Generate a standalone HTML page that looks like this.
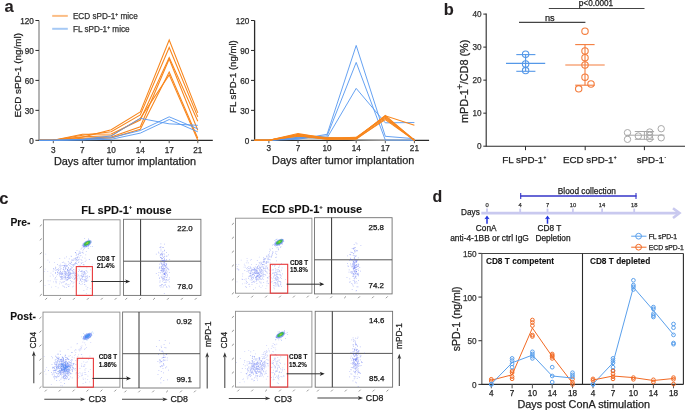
<!DOCTYPE html>
<html><head><meta charset="utf-8"><style>
html,body{margin:0;padding:0;background:#fff;width:685px;height:410px;overflow:hidden}
svg{display:block;font-family:"Liberation Sans", sans-serif;will-change:transform}
</style></head><body>
<svg width="685" height="410" viewBox="0 0 685 410">
<rect width="685" height="410" fill="#fff"/>
<text x="4.60" y="11.80" font-size="16.5" text-anchor="start" font-weight="bold" fill="#231f20" stroke="#231f20" stroke-width="0.1" >a</text>
<line x1="52.20" y1="15.90" x2="67.80" y2="15.90" stroke="#fbbd85" stroke-width="2" />
<line x1="52.20" y1="28.80" x2="67.80" y2="28.80" stroke="#a6c9f5" stroke-width="2" />
<text x="72.90" y="18.74" font-size="8.2" text-anchor="start" font-weight="normal" fill="#333" stroke="#333" stroke-width="0.25" >ECD sPD-1<tspan font-size="5" dy="-3">+</tspan><tspan dy="3"> mice</tspan></text>
<text x="72.90" y="31.64" font-size="8.2" text-anchor="start" font-weight="normal" fill="#333" stroke="#333" stroke-width="0.25" >FL sPD-1<tspan font-size="5" dy="-3">+</tspan><tspan dy="3"> mice</tspan></text>
<line x1="39.00" y1="20.50" x2="39.00" y2="140.90" stroke="#8c8c8c" stroke-width="1.3" />
<line x1="35.40" y1="140.30" x2="39.00" y2="140.30" stroke="#2a2a2a" stroke-width="1" />
<text x="33.80" y="143.94" font-size="8.2" text-anchor="end" font-weight="normal" fill="#2a2a2a" stroke="#2a2a2a" stroke-width="0.25" >0</text>
<line x1="35.40" y1="110.35" x2="39.00" y2="110.35" stroke="#2a2a2a" stroke-width="1" />
<text x="33.80" y="113.99" font-size="8.2" text-anchor="end" font-weight="normal" fill="#2a2a2a" stroke="#2a2a2a" stroke-width="0.25" >30</text>
<line x1="35.40" y1="80.40" x2="39.00" y2="80.40" stroke="#2a2a2a" stroke-width="1" />
<text x="33.80" y="84.04" font-size="8.2" text-anchor="end" font-weight="normal" fill="#2a2a2a" stroke="#2a2a2a" stroke-width="0.25" >60</text>
<line x1="35.40" y1="50.45" x2="39.00" y2="50.45" stroke="#2a2a2a" stroke-width="1" />
<text x="33.80" y="54.09" font-size="8.2" text-anchor="end" font-weight="normal" fill="#2a2a2a" stroke="#2a2a2a" stroke-width="0.25" >90</text>
<line x1="35.40" y1="20.50" x2="39.00" y2="20.50" stroke="#2a2a2a" stroke-width="1" />
<text x="33.80" y="24.14" font-size="8.2" text-anchor="end" font-weight="normal" fill="#2a2a2a" stroke="#2a2a2a" stroke-width="0.25" >120</text>
<text transform="translate(21.14,75.30) rotate(-90)" font-size="9.9" text-anchor="middle" font-weight="normal" fill="#222" stroke="#222" stroke-width="0.25">ECD sPD-1 (ng/ml)</text>
<line x1="39.00" y1="140.40" x2="212.80" y2="140.40" stroke="#2a2a2a" stroke-width="1.1" />
<line x1="53.30" y1="140.40" x2="53.30" y2="143.20" stroke="#555" stroke-width="1" />
<text x="53.30" y="152.74" font-size="8.2" text-anchor="middle" font-weight="normal" fill="#2a2a2a" stroke="#2a2a2a" stroke-width="0.25" >3</text>
<line x1="82.40" y1="140.40" x2="82.40" y2="143.20" stroke="#555" stroke-width="1" />
<text x="82.40" y="152.74" font-size="8.2" text-anchor="middle" font-weight="normal" fill="#2a2a2a" stroke="#2a2a2a" stroke-width="0.25" >7</text>
<line x1="111.20" y1="140.40" x2="111.20" y2="143.20" stroke="#555" stroke-width="1" />
<text x="111.20" y="152.74" font-size="8.2" text-anchor="middle" font-weight="normal" fill="#2a2a2a" stroke="#2a2a2a" stroke-width="0.25" >10</text>
<line x1="140.30" y1="140.40" x2="140.30" y2="143.20" stroke="#555" stroke-width="1" />
<text x="140.30" y="152.74" font-size="8.2" text-anchor="middle" font-weight="normal" fill="#2a2a2a" stroke="#2a2a2a" stroke-width="0.25" >14</text>
<line x1="169.20" y1="140.40" x2="169.20" y2="143.20" stroke="#555" stroke-width="1" />
<text x="169.20" y="152.74" font-size="8.2" text-anchor="middle" font-weight="normal" fill="#2a2a2a" stroke="#2a2a2a" stroke-width="0.25" >17</text>
<line x1="197.80" y1="140.40" x2="197.80" y2="143.20" stroke="#555" stroke-width="1" />
<text x="197.80" y="152.74" font-size="8.2" text-anchor="middle" font-weight="normal" fill="#2a2a2a" stroke="#2a2a2a" stroke-width="0.25" >21</text>
<polyline points="39.00,140.30 53.30,140.30 82.40,137.31 111.20,129.82 140.30,111.85 169.20,39.97 197.80,112.85" fill="none" stroke="#f8861c" stroke-width="1.05" stroke-linejoin="miter" />
<polyline points="39.00,140.30 53.30,140.30 82.40,135.31 111.20,131.81 140.30,114.84 169.20,47.46 197.80,116.84" fill="none" stroke="#f8861c" stroke-width="1.05" stroke-linejoin="miter" />
<polyline points="39.00,140.30 53.30,140.30 82.40,134.31 111.20,134.01 140.30,120.03 169.20,57.44 197.80,121.33" fill="none" stroke="#f8861c" stroke-width="1.05" stroke-linejoin="miter" />
<polyline points="39.00,140.30 53.30,140.30 82.40,138.30 111.20,137.01 140.30,126.82 169.20,58.94 197.80,130.32" fill="none" stroke="#f8861c" stroke-width="1.05" stroke-linejoin="miter" />
<polyline points="39.00,140.30 53.30,140.30 82.40,139.10 111.20,138.10 140.30,129.32 169.20,72.01 197.80,138.30" fill="none" stroke="#f8861c" stroke-width="1.05" stroke-linejoin="miter" />
<polyline points="39.00,140.30 53.30,140.30 82.40,136.81 111.20,135.81 140.30,118.34 169.20,74.91 197.80,140.30" fill="none" stroke="#f8861c" stroke-width="1.05" stroke-linejoin="miter" />
<polyline points="39.00,140.30 53.30,140.30 82.40,139.30 111.20,135.91 140.30,118.34 169.20,123.83 197.80,125.33" fill="none" stroke="#5597f0" stroke-width="0.9" stroke-linejoin="miter" />
<polyline points="39.00,140.30 53.30,140.30 82.40,139.80 111.20,137.70 140.30,130.52 169.20,116.84 197.80,128.82" fill="none" stroke="#5597f0" stroke-width="0.9" stroke-linejoin="miter" />
<polyline points="39.00,140.30 53.30,140.30 82.40,140.00 111.20,139.30 140.30,133.11 169.20,119.53 197.80,131.81" fill="none" stroke="#5597f0" stroke-width="0.9" stroke-linejoin="miter" />
<text x="53.90" y="164.60" font-size="10.9" text-anchor="start" font-weight="normal" fill="#222" stroke="#222" stroke-width="0.25" >Days after tumor implantation</text>
<line x1="254.60" y1="20.50" x2="254.60" y2="140.90" stroke="#2a2a2a" stroke-width="1.3" />
<line x1="251.00" y1="140.30" x2="254.60" y2="140.30" stroke="#2a2a2a" stroke-width="1" />
<text x="249.40" y="143.94" font-size="8.2" text-anchor="end" font-weight="normal" fill="#2a2a2a" stroke="#2a2a2a" stroke-width="0.25" >0</text>
<line x1="251.00" y1="110.35" x2="254.60" y2="110.35" stroke="#2a2a2a" stroke-width="1" />
<text x="249.40" y="113.99" font-size="8.2" text-anchor="end" font-weight="normal" fill="#2a2a2a" stroke="#2a2a2a" stroke-width="0.25" >30</text>
<line x1="251.00" y1="80.40" x2="254.60" y2="80.40" stroke="#2a2a2a" stroke-width="1" />
<text x="249.40" y="84.04" font-size="8.2" text-anchor="end" font-weight="normal" fill="#2a2a2a" stroke="#2a2a2a" stroke-width="0.25" >60</text>
<line x1="251.00" y1="50.45" x2="254.60" y2="50.45" stroke="#2a2a2a" stroke-width="1" />
<text x="249.40" y="54.09" font-size="8.2" text-anchor="end" font-weight="normal" fill="#2a2a2a" stroke="#2a2a2a" stroke-width="0.25" >90</text>
<line x1="251.00" y1="20.50" x2="254.60" y2="20.50" stroke="#2a2a2a" stroke-width="1" />
<text x="249.40" y="24.14" font-size="8.2" text-anchor="end" font-weight="normal" fill="#2a2a2a" stroke="#2a2a2a" stroke-width="0.25" >120</text>
<text transform="translate(236.04,76.60) rotate(-90)" font-size="9.6" text-anchor="middle" font-weight="normal" fill="#222" stroke="#222" stroke-width="0.25">FL sPD-1 (ng/ml)</text>
<line x1="254.60" y1="140.40" x2="429.10" y2="140.40" stroke="#2a2a2a" stroke-width="1.1" />
<line x1="268.90" y1="140.40" x2="268.90" y2="143.20" stroke="#555" stroke-width="1" />
<text x="268.90" y="151.34" font-size="8.2" text-anchor="middle" font-weight="normal" fill="#2a2a2a" stroke="#2a2a2a" stroke-width="0.25" >3</text>
<line x1="298.00" y1="140.40" x2="298.00" y2="143.20" stroke="#555" stroke-width="1" />
<text x="298.00" y="151.34" font-size="8.2" text-anchor="middle" font-weight="normal" fill="#2a2a2a" stroke="#2a2a2a" stroke-width="0.25" >7</text>
<line x1="327.10" y1="140.40" x2="327.10" y2="143.20" stroke="#555" stroke-width="1" />
<text x="327.10" y="151.34" font-size="8.2" text-anchor="middle" font-weight="normal" fill="#2a2a2a" stroke="#2a2a2a" stroke-width="0.25" >10</text>
<line x1="356.20" y1="140.40" x2="356.20" y2="143.20" stroke="#555" stroke-width="1" />
<text x="356.20" y="151.34" font-size="8.2" text-anchor="middle" font-weight="normal" fill="#2a2a2a" stroke="#2a2a2a" stroke-width="0.25" >14</text>
<line x1="385.30" y1="140.40" x2="385.30" y2="143.20" stroke="#555" stroke-width="1" />
<text x="385.30" y="151.34" font-size="8.2" text-anchor="middle" font-weight="normal" fill="#2a2a2a" stroke="#2a2a2a" stroke-width="0.25" >17</text>
<line x1="414.40" y1="140.40" x2="414.40" y2="143.20" stroke="#555" stroke-width="1" />
<text x="414.40" y="151.34" font-size="8.2" text-anchor="middle" font-weight="normal" fill="#2a2a2a" stroke="#2a2a2a" stroke-width="0.25" >21</text>
<polyline points="254.60,140.30 268.90,140.30 298.00,137.31 327.10,138.80 356.20,139.80 385.30,140.30 414.40,140.30" fill="none" stroke="#a0a0a0" stroke-width="1" stroke-linejoin="miter" />
<polyline points="254.60,140.30 268.90,140.30 298.00,138.30 327.10,137.31 356.20,139.80 385.30,140.30 414.40,140.30" fill="none" stroke="#a0a0a0" stroke-width="1" stroke-linejoin="miter" />
<polyline points="254.60,140.30 268.90,140.30 298.00,139.30 327.10,134.31 356.20,45.46 385.30,136.31 414.40,138.70" fill="none" stroke="#5597f0" stroke-width="0.9" stroke-linejoin="miter" />
<polyline points="254.60,140.30 268.90,140.30 298.00,138.30 327.10,135.91 356.20,62.43 385.30,140.00 414.40,140.30" fill="none" stroke="#5597f0" stroke-width="0.9" stroke-linejoin="miter" />
<polyline points="254.60,140.30 268.90,140.30 298.00,137.31 327.10,137.90 356.20,88.39 385.30,122.83 414.40,122.53" fill="none" stroke="#5597f0" stroke-width="0.9" stroke-linejoin="miter" />
<polyline points="254.60,140.30 268.90,140.30 298.00,133.61 327.10,138.30 356.20,138.30 385.30,115.34 414.40,140.30" fill="none" stroke="#f8861c" stroke-width="1.05" stroke-linejoin="miter" />
<polyline points="254.60,140.30 268.90,140.30 298.00,135.31 327.10,139.30 356.20,139.30 385.30,118.34 414.40,140.30" fill="none" stroke="#f8861c" stroke-width="1.05" stroke-linejoin="miter" />
<polyline points="254.60,140.30 268.90,140.30 298.00,136.31 327.10,138.30 356.20,137.31 385.30,116.34 414.40,139.80" fill="none" stroke="#f8861c" stroke-width="1.05" stroke-linejoin="miter" />
<polyline points="254.60,140.30 268.90,140.30 298.00,134.81 327.10,138.80 356.20,138.80 385.30,119.63 414.40,140.30" fill="none" stroke="#f8861c" stroke-width="1.05" stroke-linejoin="miter" />
<polyline points="254.60,140.30 268.90,140.30 298.00,134.31 327.10,137.80 356.20,137.80 385.30,117.34 414.40,140.30" fill="none" stroke="#f8861c" stroke-width="1.05" stroke-linejoin="miter" />
<polyline points="254.60,140.30 268.90,140.30 298.00,135.81 327.10,139.30 356.20,138.30 385.30,115.84 414.40,125.33" fill="none" stroke="#f8861c" stroke-width="1.05" stroke-linejoin="miter" />
<text x="272.10" y="163.80" font-size="10.9" text-anchor="start" font-weight="normal" fill="#222" stroke="#222" stroke-width="0.25" >Days after tumor implantation</text>
<text x="443.70" y="14.90" font-size="16.4" text-anchor="start" font-weight="bold" fill="#231f20" stroke="#231f20" stroke-width="0.1" >b</text>
<line x1="486.20" y1="13.60" x2="486.20" y2="146.70" stroke="#2a2a2a" stroke-width="1.1" />
<line x1="483.30" y1="146.20" x2="486.20" y2="146.20" stroke="#2a2a2a" stroke-width="1" />
<text x="481.60" y="149.44" font-size="8.2" text-anchor="end" font-weight="normal" fill="#333" stroke="#333" stroke-width="0.25" >0</text>
<line x1="483.30" y1="113.17" x2="486.20" y2="113.17" stroke="#2a2a2a" stroke-width="1" />
<text x="481.60" y="116.41" font-size="8.2" text-anchor="end" font-weight="normal" fill="#333" stroke="#333" stroke-width="0.25" >10</text>
<line x1="483.30" y1="80.15" x2="486.20" y2="80.15" stroke="#2a2a2a" stroke-width="1" />
<text x="481.60" y="83.39" font-size="8.2" text-anchor="end" font-weight="normal" fill="#333" stroke="#333" stroke-width="0.25" >20</text>
<line x1="483.30" y1="47.12" x2="486.20" y2="47.12" stroke="#2a2a2a" stroke-width="1" />
<text x="481.60" y="50.36" font-size="8.2" text-anchor="end" font-weight="normal" fill="#333" stroke="#333" stroke-width="0.25" >30</text>
<line x1="483.30" y1="14.10" x2="486.20" y2="14.10" stroke="#2a2a2a" stroke-width="1" />
<text x="481.60" y="17.34" font-size="8.2" text-anchor="end" font-weight="normal" fill="#333" stroke="#333" stroke-width="0.25" >40</text>
<line x1="486.20" y1="146.20" x2="685.00" y2="146.20" stroke="#2a2a2a" stroke-width="1.1" />
<line x1="525.50" y1="146.20" x2="525.50" y2="150.20" stroke="#2a2a2a" stroke-width="1" />
<line x1="585.20" y1="146.20" x2="585.20" y2="150.20" stroke="#2a2a2a" stroke-width="1" />
<line x1="644.40" y1="146.20" x2="644.40" y2="150.20" stroke="#2a2a2a" stroke-width="1" />
<text x="502.20" y="162.80" font-size="9.8" text-anchor="start" font-weight="normal" fill="#222" stroke="#222" stroke-width="0.25" >FL sPD-1<tspan font-size="4.8" dy="-4" dx="0.3">+</tspan></text>
<text x="562.90" y="162.80" font-size="9.8" text-anchor="start" font-weight="normal" fill="#222" stroke="#222" stroke-width="0.25" >ECD sPD-1<tspan font-size="4.8" dy="-4" dx="0.3">+</tspan></text>
<text x="636.70" y="162.80" font-size="9.8" text-anchor="start" font-weight="normal" fill="#222" stroke="#222" stroke-width="0.25" >sPD-1<tspan font-size="4.8" dy="-4" dx="0.5" fill="#888">-</tspan></text>
<text transform="translate(468.10,81.30) rotate(-90)" font-size="10.9" text-anchor="middle" font-weight="normal" fill="#222" stroke="#222" stroke-width="0.25">mPD-1<tspan font-size="9.5" dy="-5.5" dx="-0.3">+</tspan><tspan dy="5.5" dx="-0.5">/CD8 (%)</tspan></text>
<line x1="519.00" y1="22.40" x2="585.40" y2="22.40" stroke="#444" stroke-width="1.1" />
<text x="549.80" y="21.29" font-size="9.2" text-anchor="middle" font-weight="normal" fill="#222" stroke="#222" stroke-width="0.25" >ns</text>
<line x1="548.80" y1="8.50" x2="644.50" y2="8.50" stroke="#444" stroke-width="1.1" />
<text x="596.00" y="6.34" font-size="8.2" text-anchor="middle" font-weight="normal" fill="#222" stroke="#222" stroke-width="0.25" >p&lt;0.0001</text>
<circle cx="525.60" cy="54.20" r="3.2" fill="none" stroke="#5598e8" stroke-width="1.1"/>
<circle cx="525.60" cy="64.00" r="3.2" fill="none" stroke="#5598e8" stroke-width="1.1"/>
<circle cx="525.60" cy="70.60" r="3.2" fill="none" stroke="#5598e8" stroke-width="1.1"/>
<line x1="506.00" y1="63.40" x2="545.20" y2="63.40" stroke="#5598e8" stroke-width="1.1" />
<line x1="516.30" y1="54.60" x2="535.40" y2="54.60" stroke="#5598e8" stroke-width="1.1" />
<line x1="516.30" y1="71.30" x2="535.40" y2="71.30" stroke="#5598e8" stroke-width="1.1" />
<line x1="525.60" y1="54.60" x2="525.60" y2="71.30" stroke="#5598e8" stroke-width="1.1" />
<circle cx="585.00" cy="31.20" r="3.2" fill="none" stroke="#f47c3c" stroke-width="1.1"/>
<circle cx="585.00" cy="50.90" r="3.2" fill="none" stroke="#f47c3c" stroke-width="1.1"/>
<circle cx="585.00" cy="57.70" r="3.2" fill="none" stroke="#f47c3c" stroke-width="1.1"/>
<circle cx="585.00" cy="65.00" r="3.2" fill="none" stroke="#f47c3c" stroke-width="1.1"/>
<circle cx="585.00" cy="77.20" r="3.2" fill="none" stroke="#f47c3c" stroke-width="1.1"/>
<circle cx="591.00" cy="84.00" r="3.2" fill="none" stroke="#f47c3c" stroke-width="1.1"/>
<circle cx="578.70" cy="88.80" r="3.2" fill="none" stroke="#f47c3c" stroke-width="1.1"/>
<line x1="565.30" y1="65.00" x2="604.70" y2="65.00" stroke="#f47c3c" stroke-width="1.1" />
<line x1="575.20" y1="44.60" x2="594.60" y2="44.60" stroke="#f47c3c" stroke-width="1.1" />
<line x1="575.20" y1="85.20" x2="594.60" y2="85.20" stroke="#f47c3c" stroke-width="1.1" />
<line x1="585.00" y1="44.60" x2="585.00" y2="85.20" stroke="#f47c3c" stroke-width="1.1" />
<circle cx="627.50" cy="132.70" r="3.2" fill="none" stroke="#a8a8a8" stroke-width="1"/>
<circle cx="627.50" cy="139.30" r="3.2" fill="none" stroke="#a8a8a8" stroke-width="1"/>
<circle cx="638.30" cy="136.00" r="3.2" fill="none" stroke="#a8a8a8" stroke-width="1"/>
<circle cx="649.70" cy="132.00" r="3.2" fill="none" stroke="#a8a8a8" stroke-width="1"/>
<circle cx="649.70" cy="135.20" r="3.2" fill="none" stroke="#a8a8a8" stroke-width="1"/>
<circle cx="649.70" cy="138.50" r="3.2" fill="none" stroke="#a8a8a8" stroke-width="1"/>
<circle cx="661.20" cy="128.70" r="3.2" fill="none" stroke="#a8a8a8" stroke-width="1"/>
<circle cx="661.20" cy="137.80" r="3.2" fill="none" stroke="#a8a8a8" stroke-width="1"/>
<line x1="626.30" y1="135.20" x2="664.40" y2="135.20" stroke="#a8a8a8" stroke-width="1" />
<line x1="634.80" y1="131.50" x2="654.10" y2="131.50" stroke="#a8a8a8" stroke-width="1" />
<line x1="634.80" y1="139.30" x2="654.10" y2="139.30" stroke="#a8a8a8" stroke-width="1" />
<line x1="644.40" y1="131.50" x2="644.40" y2="139.30" stroke="#a8a8a8" stroke-width="1" />
<text x="-0.80" y="203.90" font-size="16.5" text-anchor="start" font-weight="bold" fill="#231f20" stroke="#231f20" stroke-width="0.1" >c</text>
<text x="81.30" y="213.80" font-size="11.0" text-anchor="start" font-weight="bold" fill="#111" stroke="#111" stroke-width="0.1" >FL sPD-1<tspan font-size="6" dy="-4.5">+</tspan><tspan dy="4.5" dx="0.8"> mouse</tspan></text>
<text x="261.90" y="213.40" font-size="11.0" text-anchor="start" font-weight="bold" fill="#111" stroke="#111" stroke-width="0.1" >ECD sPD-1<tspan font-size="6" dy="-4.5">+</tspan><tspan dy="4.5" dx="0.8"> mouse</tspan></text>
<text x="10.40" y="226.40" font-size="10.3" text-anchor="start" font-weight="bold" fill="#111" stroke="#111" stroke-width="0.1" >Pre-</text>
<text x="10.20" y="319.80" font-size="10.3" text-anchor="start" font-weight="bold" fill="#111" stroke="#111" stroke-width="0.1" >Post-</text>
<rect x="43.40" y="219.80" width="76.70" height="75.60" fill="white" stroke="#8c8c8c" stroke-width="0.9"/>
<line x1="39.80" y1="226.40" x2="41.80" y2="224.60" stroke="#666" stroke-width="0.7" />
<line x1="45.30" y1="299.70" x2="47.10" y2="297.90" stroke="#666" stroke-width="0.7" />
<line x1="39.80" y1="240.30" x2="41.80" y2="238.50" stroke="#666" stroke-width="0.7" />
<line x1="59.20" y1="299.70" x2="61.00" y2="297.90" stroke="#666" stroke-width="0.7" />
<line x1="39.80" y1="254.20" x2="41.80" y2="252.40" stroke="#666" stroke-width="0.7" />
<line x1="73.10" y1="299.70" x2="74.90" y2="297.90" stroke="#666" stroke-width="0.7" />
<line x1="39.80" y1="268.10" x2="41.80" y2="266.30" stroke="#666" stroke-width="0.7" />
<line x1="87.00" y1="299.70" x2="88.80" y2="297.90" stroke="#666" stroke-width="0.7" />
<line x1="39.80" y1="282.00" x2="41.80" y2="280.20" stroke="#666" stroke-width="0.7" />
<line x1="100.90" y1="299.70" x2="102.70" y2="297.90" stroke="#666" stroke-width="0.7" />
<line x1="39.80" y1="295.90" x2="41.80" y2="294.10" stroke="#666" stroke-width="0.7" />
<line x1="114.80" y1="299.70" x2="116.60" y2="297.90" stroke="#666" stroke-width="0.7" />
<path d="M61.8 277.9h0.75v0.75h-0.75zM62.1 271.3h0.75v0.75h-0.75zM55.1 272.1h0.75v0.75h-0.75zM75.5 277.2h0.75v0.75h-0.75zM74.8 275.8h0.75v0.75h-0.75zM68.3 275.3h0.75v0.75h-0.75zM47.7 280.6h0.75v0.75h-0.75zM69.5 277.8h0.75v0.75h-0.75zM47.5 259.8h0.75v0.75h-0.75zM55.5 270.1h0.75v0.75h-0.75zM67.5 273.4h0.75v0.75h-0.75zM69.6 268.7h0.75v0.75h-0.75zM67.5 277.0h0.75v0.75h-0.75zM57.8 287.5h0.75v0.75h-0.75zM70.0 283.4h0.75v0.75h-0.75zM58.2 267.9h0.75v0.75h-0.75zM61.0 272.9h0.75v0.75h-0.75zM70.7 275.8h0.75v0.75h-0.75zM59.9 266.1h0.75v0.75h-0.75zM59.2 283.6h0.75v0.75h-0.75zM56.3 275.8h0.75v0.75h-0.75zM68.7 261.9h0.75v0.75h-0.75zM64.9 284.2h0.75v0.75h-0.75zM44.3 271.2h0.75v0.75h-0.75zM63.3 267.3h0.75v0.75h-0.75zM69.4 273.3h0.75v0.75h-0.75zM49.8 280.4h0.75v0.75h-0.75zM71.1 281.4h0.75v0.75h-0.75zM78.8 276.7h0.75v0.75h-0.75zM65.6 263.4h0.75v0.75h-0.75zM70.6 268.9h0.75v0.75h-0.75zM59.9 263.7h0.75v0.75h-0.75zM54.7 269.6h0.75v0.75h-0.75zM77.3 257.5h0.75v0.75h-0.75zM49.8 275.7h0.75v0.75h-0.75zM78.8 278.4h0.75v0.75h-0.75zM45.4 253.7h0.75v0.75h-0.75zM68.0 267.9h0.75v0.75h-0.75zM53.2 281.6h0.75v0.75h-0.75zM75.4 275.1h0.75v0.75h-0.75zM66.9 277.3h0.75v0.75h-0.75zM80.3 278.8h0.75v0.75h-0.75zM69.6 278.2h0.75v0.75h-0.75zM48.7 284.1h0.75v0.75h-0.75zM74.0 278.0h0.75v0.75h-0.75zM44.7 268.7h0.75v0.75h-0.75zM72.8 259.3h0.75v0.75h-0.75zM62.6 282.0h0.75v0.75h-0.75zM51.3 286.7h0.75v0.75h-0.75zM69.9 272.6h0.75v0.75h-0.75zM67.6 279.0h0.75v0.75h-0.75zM65.6 283.0h0.75v0.75h-0.75zM57.8 270.5h0.75v0.75h-0.75zM74.8 274.0h0.75v0.75h-0.75zM55.6 281.4h0.75v0.75h-0.75zM79.1 270.2h0.75v0.75h-0.75zM50.6 272.7h0.75v0.75h-0.75zM62.9 271.4h0.75v0.75h-0.75zM78.4 265.6h0.75v0.75h-0.75zM77.0 263.7h0.75v0.75h-0.75zM56.5 278.9h0.75v0.75h-0.75zM75.7 280.7h0.75v0.75h-0.75zM67.9 274.9h0.75v0.75h-0.75zM65.9 278.4h0.75v0.75h-0.75zM62.6 276.0h0.75v0.75h-0.75zM70.1 273.8h0.75v0.75h-0.75zM72.0 278.3h0.75v0.75h-0.75zM84.5 276.4h0.75v0.75h-0.75zM60.1 270.8h0.75v0.75h-0.75zM64.3 281.2h0.75v0.75h-0.75zM61.0 276.9h0.75v0.75h-0.75zM82.8 253.3h0.75v0.75h-0.75zM53.2 275.8h0.75v0.75h-0.75zM68.4 275.7h0.75v0.75h-0.75zM60.1 279.0h0.75v0.75h-0.75zM67.2 269.6h0.75v0.75h-0.75zM88.7 276.6h0.75v0.75h-0.75zM58.9 273.0h0.75v0.75h-0.75zM62.1 273.3h0.75v0.75h-0.75zM74.5 264.5h0.75v0.75h-0.75zM63.7 281.4h0.75v0.75h-0.75zM73.0 285.7h0.75v0.75h-0.75zM47.4 271.0h0.75v0.75h-0.75zM61.0 278.8h0.75v0.75h-0.75zM75.3 252.3h0.75v0.75h-0.75zM75.3 262.2h0.75v0.75h-0.75zM71.2 261.9h0.75v0.75h-0.75zM66.2 283.4h0.75v0.75h-0.75zM62.9 275.3h0.75v0.75h-0.75zM72.4 274.9h0.75v0.75h-0.75zM63.5 286.1h0.75v0.75h-0.75zM74.9 271.4h0.75v0.75h-0.75zM91.9 264.6h0.75v0.75h-0.75zM73.5 271.7h0.75v0.75h-0.75zM65.7 279.4h0.75v0.75h-0.75zM66.6 278.9h0.75v0.75h-0.75zM49.1 261.7h0.75v0.75h-0.75zM70.5 266.1h0.75v0.75h-0.75zM54.1 262.0h0.75v0.75h-0.75zM77.1 279.8h0.75v0.75h-0.75zM79.1 266.3h0.75v0.75h-0.75zM64.4 264.7h0.75v0.75h-0.75zM72.1 286.5h0.75v0.75h-0.75zM55.5 286.3h0.75v0.75h-0.75zM74.3 272.4h0.75v0.75h-0.75zM44.7 285.1h0.75v0.75h-0.75zM63.4 269.0h0.75v0.75h-0.75zM68.4 277.1h0.75v0.75h-0.75zM79.4 265.6h0.75v0.75h-0.75z" fill="#5a6cf0" fill-opacity="0.4"/>
<path d="M71.6 281.0h0.75v0.75h-0.75zM73.4 271.8h0.75v0.75h-0.75zM61.3 278.4h0.75v0.75h-0.75zM66.0 273.5h0.75v0.75h-0.75zM73.2 271.4h0.75v0.75h-0.75zM52.8 270.7h0.75v0.75h-0.75zM55.2 277.3h0.75v0.75h-0.75zM67.1 269.4h0.75v0.75h-0.75zM65.3 277.4h0.75v0.75h-0.75zM65.8 280.1h0.75v0.75h-0.75zM65.1 278.5h0.75v0.75h-0.75zM73.6 281.7h0.75v0.75h-0.75zM61.7 277.6h0.75v0.75h-0.75zM55.1 266.8h0.75v0.75h-0.75zM54.6 278.7h0.75v0.75h-0.75zM58.6 272.7h0.75v0.75h-0.75zM64.3 272.6h0.75v0.75h-0.75zM62.1 274.1h0.75v0.75h-0.75zM75.3 273.0h0.75v0.75h-0.75zM68.3 278.3h0.75v0.75h-0.75zM64.3 265.9h0.75v0.75h-0.75zM62.3 278.7h0.75v0.75h-0.75zM56.3 269.5h0.75v0.75h-0.75zM70.9 277.2h0.75v0.75h-0.75zM65.4 277.2h0.75v0.75h-0.75zM66.3 266.3h0.75v0.75h-0.75zM56.8 269.3h0.75v0.75h-0.75zM70.5 269.7h0.75v0.75h-0.75zM60.4 268.6h0.75v0.75h-0.75zM57.0 272.2h0.75v0.75h-0.75zM58.9 274.8h0.75v0.75h-0.75zM52.4 274.6h0.75v0.75h-0.75zM61.9 262.1h0.75v0.75h-0.75zM69.4 271.3h0.75v0.75h-0.75zM53.1 268.0h0.75v0.75h-0.75zM67.0 270.3h0.75v0.75h-0.75zM69.7 276.9h0.75v0.75h-0.75zM69.1 274.6h0.75v0.75h-0.75zM72.7 276.4h0.75v0.75h-0.75zM67.9 261.3h0.75v0.75h-0.75zM70.3 280.0h0.75v0.75h-0.75zM63.8 270.2h0.75v0.75h-0.75zM76.1 263.1h0.75v0.75h-0.75zM68.0 286.1h0.75v0.75h-0.75zM60.3 276.6h0.75v0.75h-0.75zM75.8 272.1h0.75v0.75h-0.75zM68.5 277.8h0.75v0.75h-0.75zM60.4 272.3h0.75v0.75h-0.75zM67.0 277.3h0.75v0.75h-0.75zM65.2 271.7h0.75v0.75h-0.75zM59.8 270.8h0.75v0.75h-0.75zM70.3 273.4h0.75v0.75h-0.75zM60.7 268.2h0.75v0.75h-0.75zM80.1 279.1h0.75v0.75h-0.75zM68.9 258.5h0.75v0.75h-0.75zM68.8 275.4h0.75v0.75h-0.75zM74.7 275.2h0.75v0.75h-0.75zM65.0 275.7h0.75v0.75h-0.75zM54.7 278.5h0.75v0.75h-0.75zM67.2 268.9h0.75v0.75h-0.75zM72.7 282.8h0.75v0.75h-0.75zM57.7 269.1h0.75v0.75h-0.75zM67.0 273.8h0.75v0.75h-0.75zM63.2 267.4h0.75v0.75h-0.75zM77.1 278.5h0.75v0.75h-0.75zM58.8 265.4h0.75v0.75h-0.75zM74.8 278.2h0.75v0.75h-0.75zM75.4 277.3h0.75v0.75h-0.75zM60.6 274.2h0.75v0.75h-0.75zM53.5 268.7h0.75v0.75h-0.75zM65.1 275.7h0.75v0.75h-0.75zM61.4 272.1h0.75v0.75h-0.75zM67.9 274.9h0.75v0.75h-0.75zM68.9 273.9h0.75v0.75h-0.75zM63.6 277.1h0.75v0.75h-0.75zM65.7 268.3h0.75v0.75h-0.75zM62.0 272.8h0.75v0.75h-0.75zM64.8 273.7h0.75v0.75h-0.75zM65.4 273.8h0.75v0.75h-0.75zM64.7 265.9h0.75v0.75h-0.75zM67.7 278.6h0.75v0.75h-0.75zM67.8 271.8h0.75v0.75h-0.75zM67.9 267.5h0.75v0.75h-0.75zM55.0 273.1h0.75v0.75h-0.75zM60.3 276.9h0.75v0.75h-0.75zM59.4 258.3h0.75v0.75h-0.75zM59.7 281.5h0.75v0.75h-0.75zM63.3 265.3h0.75v0.75h-0.75zM61.2 275.7h0.75v0.75h-0.75zM68.1 273.8h0.75v0.75h-0.75zM73.6 276.7h0.75v0.75h-0.75zM65.3 276.1h0.75v0.75h-0.75zM74.5 278.1h0.75v0.75h-0.75zM71.0 266.8h0.75v0.75h-0.75zM64.6 276.8h0.75v0.75h-0.75zM63.8 278.7h0.75v0.75h-0.75zM68.7 277.8h0.75v0.75h-0.75zM64.2 286.8h0.75v0.75h-0.75zM72.2 271.6h0.75v0.75h-0.75zM65.9 287.1h0.75v0.75h-0.75zM63.5 277.6h0.75v0.75h-0.75zM70.8 272.8h0.75v0.75h-0.75zM59.0 273.8h0.75v0.75h-0.75zM67.4 279.0h0.75v0.75h-0.75zM69.7 272.9h0.75v0.75h-0.75zM70.1 275.8h0.75v0.75h-0.75zM66.5 273.1h0.75v0.75h-0.75zM64.1 276.6h0.75v0.75h-0.75zM59.6 269.3h0.75v0.75h-0.75zM65.4 264.7h0.75v0.75h-0.75zM63.0 261.8h0.75v0.75h-0.75zM61.6 275.9h0.75v0.75h-0.75zM68.5 272.5h0.75v0.75h-0.75zM64.1 265.0h0.75v0.75h-0.75zM75.5 275.6h0.75v0.75h-0.75zM71.4 267.9h0.75v0.75h-0.75zM64.4 262.8h0.75v0.75h-0.75zM69.7 277.9h0.75v0.75h-0.75zM55.0 272.5h0.75v0.75h-0.75zM68.9 263.1h0.75v0.75h-0.75zM55.4 266.9h0.75v0.75h-0.75zM61.9 265.1h0.75v0.75h-0.75zM65.6 274.2h0.75v0.75h-0.75zM68.9 276.7h0.75v0.75h-0.75zM73.7 279.2h0.75v0.75h-0.75zM58.2 270.0h0.75v0.75h-0.75zM59.6 266.9h0.75v0.75h-0.75zM65.0 272.8h0.75v0.75h-0.75zM68.1 264.1h0.75v0.75h-0.75zM58.6 272.7h0.75v0.75h-0.75zM64.3 271.1h0.75v0.75h-0.75zM65.1 268.6h0.75v0.75h-0.75zM69.3 274.7h0.75v0.75h-0.75zM64.9 269.1h0.75v0.75h-0.75zM64.4 257.8h0.75v0.75h-0.75zM60.0 273.0h0.75v0.75h-0.75zM57.1 273.9h0.75v0.75h-0.75zM66.2 265.2h0.75v0.75h-0.75zM64.0 271.1h0.75v0.75h-0.75zM67.9 276.2h0.75v0.75h-0.75zM65.2 268.1h0.75v0.75h-0.75zM64.6 272.4h0.75v0.75h-0.75zM69.4 274.4h0.75v0.75h-0.75zM61.4 265.4h0.75v0.75h-0.75zM63.3 268.7h0.75v0.75h-0.75zM59.3 272.2h0.75v0.75h-0.75zM62.7 273.4h0.75v0.75h-0.75zM68.3 270.5h0.75v0.75h-0.75zM78.2 271.0h0.75v0.75h-0.75zM71.5 273.5h0.75v0.75h-0.75zM71.5 259.7h0.75v0.75h-0.75zM61.3 274.2h0.75v0.75h-0.75zM68.7 285.7h0.75v0.75h-0.75zM67.2 279.8h0.75v0.75h-0.75zM69.6 278.0h0.75v0.75h-0.75zM68.2 271.9h0.75v0.75h-0.75zM68.2 266.9h0.75v0.75h-0.75zM71.9 267.2h0.75v0.75h-0.75zM66.8 284.5h0.75v0.75h-0.75zM64.2 272.9h0.75v0.75h-0.75zM71.8 272.9h0.75v0.75h-0.75zM61.0 274.2h0.75v0.75h-0.75zM68.6 276.7h0.75v0.75h-0.75zM61.2 282.4h0.75v0.75h-0.75zM74.6 272.9h0.75v0.75h-0.75zM66.9 270.4h0.75v0.75h-0.75zM73.2 268.9h0.75v0.75h-0.75zM69.1 270.2h0.75v0.75h-0.75zM61.6 276.8h0.75v0.75h-0.75zM72.7 272.7h0.75v0.75h-0.75zM61.7 277.3h0.75v0.75h-0.75zM65.1 274.5h0.75v0.75h-0.75zM73.8 279.0h0.75v0.75h-0.75zM62.5 285.4h0.75v0.75h-0.75zM65.4 277.1h0.75v0.75h-0.75zM61.8 272.6h0.75v0.75h-0.75zM55.8 282.6h0.75v0.75h-0.75zM72.9 266.1h0.75v0.75h-0.75zM57.1 263.9h0.75v0.75h-0.75zM71.9 270.3h0.75v0.75h-0.75zM65.1 271.1h0.75v0.75h-0.75zM64.7 266.8h0.75v0.75h-0.75zM65.5 264.9h0.75v0.75h-0.75zM65.0 274.5h0.75v0.75h-0.75zM68.0 271.5h0.75v0.75h-0.75zM60.4 273.7h0.75v0.75h-0.75zM62.7 281.4h0.75v0.75h-0.75zM69.6 272.2h0.75v0.75h-0.75zM62.8 268.9h0.75v0.75h-0.75zM60.2 270.9h0.75v0.75h-0.75zM67.0 275.6h0.75v0.75h-0.75zM68.5 284.3h0.75v0.75h-0.75zM61.5 272.9h0.75v0.75h-0.75zM80.8 262.5h0.75v0.75h-0.75zM62.5 273.7h0.75v0.75h-0.75zM66.2 275.0h0.75v0.75h-0.75zM64.1 274.8h0.75v0.75h-0.75zM65.7 277.0h0.75v0.75h-0.75zM55.0 267.9h0.75v0.75h-0.75zM65.4 267.1h0.75v0.75h-0.75zM59.7 276.3h0.75v0.75h-0.75zM61.8 276.3h0.75v0.75h-0.75zM69.5 274.5h0.75v0.75h-0.75zM68.2 272.2h0.75v0.75h-0.75zM57.6 272.6h0.75v0.75h-0.75zM67.9 269.9h0.75v0.75h-0.75zM64.9 276.9h0.75v0.75h-0.75zM60.6 276.3h0.75v0.75h-0.75zM75.6 269.7h0.75v0.75h-0.75zM66.2 272.0h0.75v0.75h-0.75zM73.9 274.5h0.75v0.75h-0.75zM70.3 269.0h0.75v0.75h-0.75zM65.3 272.7h0.75v0.75h-0.75zM55.6 280.7h0.75v0.75h-0.75zM70.3 263.2h0.75v0.75h-0.75zM69.5 272.1h0.75v0.75h-0.75zM67.9 274.8h0.75v0.75h-0.75zM57.2 271.6h0.75v0.75h-0.75zM73.6 269.6h0.75v0.75h-0.75zM59.8 265.3h0.75v0.75h-0.75z" fill="#3c55ee" fill-opacity="0.45"/>
<path d="M68.9 269.2h0.75v0.75h-0.75zM86.3 245.8h0.75v0.75h-0.75zM81.5 260.2h0.75v0.75h-0.75zM70.9 262.0h0.75v0.75h-0.75zM79.7 255.4h0.75v0.75h-0.75zM67.0 265.2h0.75v0.75h-0.75zM77.6 256.8h0.75v0.75h-0.75zM67.3 269.0h0.75v0.75h-0.75zM73.2 263.9h0.75v0.75h-0.75zM74.5 259.6h0.75v0.75h-0.75zM75.5 263.3h0.75v0.75h-0.75zM82.8 247.0h0.75v0.75h-0.75zM78.8 250.8h0.75v0.75h-0.75zM77.4 259.4h0.75v0.75h-0.75zM83.5 246.0h0.75v0.75h-0.75zM75.4 259.7h0.75v0.75h-0.75zM66.6 270.9h0.75v0.75h-0.75zM72.2 264.8h0.75v0.75h-0.75zM64.6 264.9h0.75v0.75h-0.75zM76.2 258.9h0.75v0.75h-0.75zM74.0 264.6h0.75v0.75h-0.75zM72.5 260.1h0.75v0.75h-0.75zM74.9 252.5h0.75v0.75h-0.75zM71.4 264.2h0.75v0.75h-0.75zM80.1 251.7h0.75v0.75h-0.75zM75.8 255.3h0.75v0.75h-0.75zM80.7 258.9h0.75v0.75h-0.75zM76.3 268.0h0.75v0.75h-0.75zM71.6 264.0h0.75v0.75h-0.75zM78.6 259.0h0.75v0.75h-0.75zM63.7 265.6h0.75v0.75h-0.75zM80.6 255.1h0.75v0.75h-0.75zM84.6 257.8h0.75v0.75h-0.75zM77.1 257.5h0.75v0.75h-0.75zM81.7 251.9h0.75v0.75h-0.75zM82.6 243.5h0.75v0.75h-0.75zM66.0 256.5h0.75v0.75h-0.75zM79.4 251.7h0.75v0.75h-0.75zM85.4 254.6h0.75v0.75h-0.75zM74.8 258.5h0.75v0.75h-0.75zM70.7 261.5h0.75v0.75h-0.75zM73.0 264.9h0.75v0.75h-0.75zM75.8 258.6h0.75v0.75h-0.75zM76.3 261.6h0.75v0.75h-0.75zM78.0 254.6h0.75v0.75h-0.75zM79.0 253.2h0.75v0.75h-0.75zM71.7 270.3h0.75v0.75h-0.75zM76.1 253.6h0.75v0.75h-0.75zM82.5 250.6h0.75v0.75h-0.75zM69.6 273.9h0.75v0.75h-0.75zM79.2 257.5h0.75v0.75h-0.75zM76.3 257.0h0.75v0.75h-0.75zM68.3 272.8h0.75v0.75h-0.75zM75.0 258.1h0.75v0.75h-0.75zM77.6 256.1h0.75v0.75h-0.75zM78.6 252.8h0.75v0.75h-0.75zM70.7 255.8h0.75v0.75h-0.75zM74.3 263.3h0.75v0.75h-0.75zM82.5 247.4h0.75v0.75h-0.75zM78.0 262.2h0.75v0.75h-0.75zM75.0 262.6h0.75v0.75h-0.75zM85.4 245.3h0.75v0.75h-0.75zM81.1 247.8h0.75v0.75h-0.75zM76.5 257.0h0.75v0.75h-0.75zM78.4 259.6h0.75v0.75h-0.75zM88.1 238.5h0.75v0.75h-0.75zM73.1 264.2h0.75v0.75h-0.75zM70.2 268.1h0.75v0.75h-0.75zM78.2 253.8h0.75v0.75h-0.75zM75.3 252.1h0.75v0.75h-0.75zM76.6 250.3h0.75v0.75h-0.75zM70.1 263.6h0.75v0.75h-0.75zM74.8 263.4h0.75v0.75h-0.75zM75.0 257.5h0.75v0.75h-0.75zM81.9 256.8h0.75v0.75h-0.75zM76.2 259.3h0.75v0.75h-0.75zM83.3 249.2h0.75v0.75h-0.75zM73.1 273.0h0.75v0.75h-0.75zM84.3 237.9h0.75v0.75h-0.75zM76.0 259.8h0.75v0.75h-0.75zM82.5 252.0h0.75v0.75h-0.75zM71.6 259.4h0.75v0.75h-0.75zM78.2 259.6h0.75v0.75h-0.75zM66.8 266.0h0.75v0.75h-0.75zM71.2 256.0h0.75v0.75h-0.75zM72.9 260.2h0.75v0.75h-0.75zM76.6 254.1h0.75v0.75h-0.75zM69.4 265.3h0.75v0.75h-0.75zM73.7 258.2h0.75v0.75h-0.75zM77.0 259.9h0.75v0.75h-0.75z" fill="#4a62ee" fill-opacity="0.45"/>
<path d="M92.2 245.9h0.75v0.75h-0.75zM83.3 245.4h0.75v0.75h-0.75zM80.1 253.0h0.75v0.75h-0.75zM83.9 246.1h0.75v0.75h-0.75zM86.7 241.2h0.75v0.75h-0.75zM87.9 243.9h0.75v0.75h-0.75zM80.6 248.7h0.75v0.75h-0.75zM88.4 239.0h0.75v0.75h-0.75zM89.3 243.7h0.75v0.75h-0.75zM88.4 244.8h0.75v0.75h-0.75zM90.5 242.0h0.75v0.75h-0.75zM88.9 242.4h0.75v0.75h-0.75zM88.0 241.9h0.75v0.75h-0.75zM87.9 248.3h0.75v0.75h-0.75zM87.7 243.7h0.75v0.75h-0.75zM81.7 245.4h0.75v0.75h-0.75zM88.0 246.3h0.75v0.75h-0.75zM88.4 245.0h0.75v0.75h-0.75zM87.7 247.5h0.75v0.75h-0.75zM84.5 244.5h0.75v0.75h-0.75zM89.4 243.3h0.75v0.75h-0.75zM84.9 244.2h0.75v0.75h-0.75zM86.2 246.5h0.75v0.75h-0.75zM86.3 241.8h0.75v0.75h-0.75zM88.0 244.4h0.75v0.75h-0.75zM83.9 248.1h0.75v0.75h-0.75zM85.1 244.7h0.75v0.75h-0.75zM90.4 245.9h0.75v0.75h-0.75zM84.6 246.9h0.75v0.75h-0.75zM85.9 250.9h0.75v0.75h-0.75z" fill="#3a6af0" fill-opacity="0.45"/>
<path d="M82.1 283.6h0.75v0.75h-0.75zM81.7 281.1h0.75v0.75h-0.75zM89.2 259.3h0.75v0.75h-0.75zM82.3 279.1h0.75v0.75h-0.75zM83.2 271.5h0.75v0.75h-0.75zM89.0 276.3h0.75v0.75h-0.75zM79.1 281.4h0.75v0.75h-0.75zM78.9 283.3h0.75v0.75h-0.75zM81.9 276.7h0.75v0.75h-0.75zM86.7 276.6h0.75v0.75h-0.75zM79.8 264.8h0.75v0.75h-0.75zM86.5 280.6h0.75v0.75h-0.75zM81.3 281.4h0.75v0.75h-0.75zM84.7 280.0h0.75v0.75h-0.75zM77.5 273.8h0.75v0.75h-0.75zM85.7 280.6h0.75v0.75h-0.75zM85.7 259.8h0.75v0.75h-0.75zM83.8 279.0h0.75v0.75h-0.75zM90.0 269.6h0.75v0.75h-0.75zM82.5 276.0h0.75v0.75h-0.75zM85.7 272.9h0.75v0.75h-0.75zM86.4 270.7h0.75v0.75h-0.75zM84.1 272.4h0.75v0.75h-0.75zM83.8 271.3h0.75v0.75h-0.75zM79.2 282.9h0.75v0.75h-0.75zM84.2 272.2h0.75v0.75h-0.75zM83.9 282.2h0.75v0.75h-0.75zM80.9 275.1h0.75v0.75h-0.75zM84.8 279.2h0.75v0.75h-0.75zM82.5 262.1h0.75v0.75h-0.75zM86.6 277.9h0.75v0.75h-0.75zM83.4 274.0h0.75v0.75h-0.75zM84.1 273.0h0.75v0.75h-0.75zM80.7 271.0h0.75v0.75h-0.75zM81.8 271.8h0.75v0.75h-0.75zM80.4 279.9h0.75v0.75h-0.75zM80.0 280.1h0.75v0.75h-0.75zM80.8 278.1h0.75v0.75h-0.75zM87.0 277.1h0.75v0.75h-0.75zM81.5 276.1h0.75v0.75h-0.75zM83.8 264.5h0.75v0.75h-0.75zM81.8 276.9h0.75v0.75h-0.75zM82.2 276.3h0.75v0.75h-0.75zM85.3 280.8h0.75v0.75h-0.75zM85.8 279.6h0.75v0.75h-0.75zM82.7 275.7h0.75v0.75h-0.75zM82.7 273.8h0.75v0.75h-0.75zM82.9 264.6h0.75v0.75h-0.75zM82.5 275.6h0.75v0.75h-0.75zM80.9 275.6h0.75v0.75h-0.75zM84.7 274.7h0.75v0.75h-0.75zM88.8 258.9h0.75v0.75h-0.75zM82.9 263.9h0.75v0.75h-0.75zM85.9 293.1h0.75v0.75h-0.75zM76.9 276.6h0.75v0.75h-0.75zM84.7 273.8h0.75v0.75h-0.75zM84.8 261.2h0.75v0.75h-0.75zM85.6 278.2h0.75v0.75h-0.75zM83.5 272.0h0.75v0.75h-0.75zM85.1 272.6h0.75v0.75h-0.75zM84.0 272.5h0.75v0.75h-0.75zM77.6 275.6h0.75v0.75h-0.75zM83.9 280.7h0.75v0.75h-0.75zM81.1 275.6h0.75v0.75h-0.75zM85.0 276.7h0.75v0.75h-0.75zM86.6 288.7h0.75v0.75h-0.75zM81.0 263.3h0.75v0.75h-0.75zM85.6 285.7h0.75v0.75h-0.75zM85.8 281.1h0.75v0.75h-0.75zM81.8 271.2h0.75v0.75h-0.75zM85.7 269.9h0.75v0.75h-0.75zM78.7 269.3h0.75v0.75h-0.75zM89.9 288.3h0.75v0.75h-0.75zM81.6 271.1h0.75v0.75h-0.75zM84.0 270.9h0.75v0.75h-0.75zM86.8 275.3h0.75v0.75h-0.75zM80.6 284.3h0.75v0.75h-0.75zM81.9 277.2h0.75v0.75h-0.75zM83.4 273.8h0.75v0.75h-0.75zM84.2 271.3h0.75v0.75h-0.75zM78.6 261.4h0.75v0.75h-0.75zM80.1 270.9h0.75v0.75h-0.75zM83.3 276.2h0.75v0.75h-0.75zM84.8 276.6h0.75v0.75h-0.75zM81.3 271.2h0.75v0.75h-0.75zM77.9 274.7h0.75v0.75h-0.75zM84.7 279.2h0.75v0.75h-0.75zM83.1 274.7h0.75v0.75h-0.75zM85.8 275.9h0.75v0.75h-0.75zM85.3 279.6h0.75v0.75h-0.75zM84.0 284.3h0.75v0.75h-0.75zM81.9 273.5h0.75v0.75h-0.75zM81.3 270.6h0.75v0.75h-0.75zM87.4 287.2h0.75v0.75h-0.75zM83.5 279.5h0.75v0.75h-0.75zM86.5 281.0h0.75v0.75h-0.75zM86.5 267.6h0.75v0.75h-0.75zM81.7 278.7h0.75v0.75h-0.75zM87.1 276.5h0.75v0.75h-0.75zM81.2 273.5h0.75v0.75h-0.75zM81.7 270.2h0.75v0.75h-0.75zM87.3 271.7h0.75v0.75h-0.75zM83.5 289.9h0.75v0.75h-0.75zM86.5 278.0h0.75v0.75h-0.75zM81.8 278.5h0.75v0.75h-0.75zM87.6 279.8h0.75v0.75h-0.75zM86.7 276.4h0.75v0.75h-0.75zM84.7 274.5h0.75v0.75h-0.75zM84.5 284.3h0.75v0.75h-0.75zM79.7 275.4h0.75v0.75h-0.75z" fill="#4a62ee" fill-opacity="0.45"/>
<ellipse cx="87.0" cy="243.6" rx="5.2" ry="2.7" transform="rotate(-32 87.0 243.6)" fill="#3f62f0" fill-opacity="0.55"/>
<ellipse cx="87.3" cy="243.4" rx="3.7" ry="1.7" transform="rotate(-32 87.0 243.6)" fill="#34b848" fill-opacity="0.9"/>
<ellipse cx="87.5" cy="243.29999999999998" rx="1.3" ry="0.8" transform="rotate(-32 87.0 243.6)" fill="#9ad820"/>
<rect x="76.30" y="266.60" width="16.10" height="28.80" fill="none" stroke="#e8383a" stroke-width="1.1"/>
<text x="96.80" y="260.66" font-size="6.3" text-anchor="start" font-weight="bold" fill="#111" stroke="#111" stroke-width="0.1" >CD8 T</text>
<text x="96.80" y="268.06" font-size="6.3" text-anchor="start" font-weight="bold" fill="#111" stroke="#111" stroke-width="0.1" >21.4%</text>
<rect x="123.50" y="219.30" width="77.40" height="76.10" fill="white" stroke="#707070" stroke-width="0.9"/>
<line x1="125.40" y1="299.70" x2="127.20" y2="297.90" stroke="#666" stroke-width="0.7" />
<line x1="139.30" y1="299.70" x2="141.10" y2="297.90" stroke="#666" stroke-width="0.7" />
<line x1="153.20" y1="299.70" x2="155.00" y2="297.90" stroke="#666" stroke-width="0.7" />
<line x1="167.10" y1="299.70" x2="168.90" y2="297.90" stroke="#666" stroke-width="0.7" />
<line x1="181.00" y1="299.70" x2="182.80" y2="297.90" stroke="#666" stroke-width="0.7" />
<line x1="194.90" y1="299.70" x2="196.70" y2="297.90" stroke="#666" stroke-width="0.7" />
<line x1="140.60" y1="219.30" x2="140.60" y2="295.40" stroke="#333" stroke-width="1" />
<line x1="123.50" y1="261.20" x2="200.90" y2="261.20" stroke="#555" stroke-width="1" />
<path d="M164.2 265.5h0.75v0.75h-0.75zM162.6 279.1h0.75v0.75h-0.75zM169.1 277.5h0.75v0.75h-0.75zM164.4 255.7h0.75v0.75h-0.75zM168.9 272.0h0.75v0.75h-0.75zM163.4 260.0h0.75v0.75h-0.75zM163.3 260.2h0.75v0.75h-0.75zM163.7 275.9h0.75v0.75h-0.75zM163.6 274.0h0.75v0.75h-0.75zM161.1 285.5h0.75v0.75h-0.75zM161.7 253.0h0.75v0.75h-0.75zM163.0 263.6h0.75v0.75h-0.75zM160.7 267.7h0.75v0.75h-0.75zM164.3 259.4h0.75v0.75h-0.75zM163.1 285.5h0.75v0.75h-0.75zM165.4 269.7h0.75v0.75h-0.75zM163.9 270.0h0.75v0.75h-0.75zM163.4 278.5h0.75v0.75h-0.75zM163.2 247.2h0.75v0.75h-0.75zM163.4 262.3h0.75v0.75h-0.75zM165.3 265.1h0.75v0.75h-0.75zM163.9 293.0h0.75v0.75h-0.75zM160.6 260.0h0.75v0.75h-0.75zM159.5 247.3h0.75v0.75h-0.75zM158.2 274.8h0.75v0.75h-0.75zM161.7 252.5h0.75v0.75h-0.75zM159.3 277.4h0.75v0.75h-0.75zM161.3 267.5h0.75v0.75h-0.75zM164.4 284.8h0.75v0.75h-0.75zM168.9 281.5h0.75v0.75h-0.75zM163.9 273.0h0.75v0.75h-0.75zM168.5 285.5h0.75v0.75h-0.75zM162.6 275.8h0.75v0.75h-0.75zM164.3 271.7h0.75v0.75h-0.75zM162.1 257.9h0.75v0.75h-0.75zM162.0 255.8h0.75v0.75h-0.75zM166.9 276.6h0.75v0.75h-0.75zM160.1 285.2h0.75v0.75h-0.75zM166.0 252.1h0.75v0.75h-0.75zM168.7 279.3h0.75v0.75h-0.75zM169.3 258.9h0.75v0.75h-0.75zM165.0 275.4h0.75v0.75h-0.75zM164.1 272.9h0.75v0.75h-0.75zM166.4 256.3h0.75v0.75h-0.75zM160.0 257.3h0.75v0.75h-0.75zM161.9 265.1h0.75v0.75h-0.75zM164.5 273.9h0.75v0.75h-0.75zM163.6 264.4h0.75v0.75h-0.75zM162.3 280.7h0.75v0.75h-0.75zM165.6 272.2h0.75v0.75h-0.75zM162.6 286.7h0.75v0.75h-0.75zM161.8 277.7h0.75v0.75h-0.75zM166.7 268.5h0.75v0.75h-0.75zM165.8 260.0h0.75v0.75h-0.75zM166.3 273.2h0.75v0.75h-0.75zM159.1 277.9h0.75v0.75h-0.75zM161.0 284.0h0.75v0.75h-0.75zM161.6 269.6h0.75v0.75h-0.75zM164.3 267.9h0.75v0.75h-0.75zM164.2 265.7h0.75v0.75h-0.75zM165.4 271.3h0.75v0.75h-0.75zM164.1 243.7h0.75v0.75h-0.75zM166.8 271.5h0.75v0.75h-0.75zM158.5 272.2h0.75v0.75h-0.75zM164.8 281.9h0.75v0.75h-0.75zM160.5 286.7h0.75v0.75h-0.75zM163.1 278.0h0.75v0.75h-0.75zM162.5 260.0h0.75v0.75h-0.75zM166.6 280.3h0.75v0.75h-0.75zM167.8 279.8h0.75v0.75h-0.75zM161.9 254.6h0.75v0.75h-0.75zM161.7 264.4h0.75v0.75h-0.75zM161.2 277.0h0.75v0.75h-0.75zM164.4 268.5h0.75v0.75h-0.75zM164.0 269.7h0.75v0.75h-0.75zM164.1 278.7h0.75v0.75h-0.75zM166.2 264.3h0.75v0.75h-0.75zM159.3 285.5h0.75v0.75h-0.75zM163.8 282.3h0.75v0.75h-0.75zM158.9 267.9h0.75v0.75h-0.75zM163.6 256.8h0.75v0.75h-0.75zM162.1 278.4h0.75v0.75h-0.75zM166.5 287.1h0.75v0.75h-0.75zM161.1 257.2h0.75v0.75h-0.75zM165.0 280.6h0.75v0.75h-0.75zM164.0 258.2h0.75v0.75h-0.75zM165.7 279.1h0.75v0.75h-0.75zM165.0 266.3h0.75v0.75h-0.75zM164.4 279.1h0.75v0.75h-0.75zM161.9 252.8h0.75v0.75h-0.75zM164.4 276.0h0.75v0.75h-0.75zM163.5 280.1h0.75v0.75h-0.75zM161.9 270.4h0.75v0.75h-0.75zM162.6 276.9h0.75v0.75h-0.75zM168.0 268.7h0.75v0.75h-0.75zM169.3 286.5h0.75v0.75h-0.75zM165.7 277.1h0.75v0.75h-0.75zM168.5 269.4h0.75v0.75h-0.75zM163.2 260.6h0.75v0.75h-0.75zM164.8 284.6h0.75v0.75h-0.75zM165.0 275.4h0.75v0.75h-0.75zM162.9 272.9h0.75v0.75h-0.75zM159.5 281.7h0.75v0.75h-0.75zM162.4 260.2h0.75v0.75h-0.75zM161.4 263.0h0.75v0.75h-0.75zM165.9 281.8h0.75v0.75h-0.75zM159.7 280.5h0.75v0.75h-0.75zM166.0 265.4h0.75v0.75h-0.75zM159.3 263.7h0.75v0.75h-0.75zM161.7 274.6h0.75v0.75h-0.75zM162.5 250.9h0.75v0.75h-0.75zM164.2 255.9h0.75v0.75h-0.75zM166.0 259.1h0.75v0.75h-0.75zM161.6 262.7h0.75v0.75h-0.75zM162.0 284.2h0.75v0.75h-0.75zM165.9 277.2h0.75v0.75h-0.75zM164.4 255.7h0.75v0.75h-0.75zM162.0 265.7h0.75v0.75h-0.75zM160.8 276.3h0.75v0.75h-0.75zM161.4 264.1h0.75v0.75h-0.75zM160.6 250.6h0.75v0.75h-0.75zM165.2 284.5h0.75v0.75h-0.75zM164.0 261.4h0.75v0.75h-0.75zM155.9 272.9h0.75v0.75h-0.75zM166.9 274.2h0.75v0.75h-0.75zM166.1 286.0h0.75v0.75h-0.75zM166.7 266.8h0.75v0.75h-0.75zM166.4 279.0h0.75v0.75h-0.75zM159.2 267.1h0.75v0.75h-0.75z" fill="#4a5ef0" fill-opacity="0.5"/>
<path d="M161.2 266.8h0.75v0.75h-0.75zM164.4 262.9h0.75v0.75h-0.75zM160.2 272.4h0.75v0.75h-0.75zM164.1 273.1h0.75v0.75h-0.75zM161.4 271.4h0.75v0.75h-0.75zM166.8 275.2h0.75v0.75h-0.75zM163.2 268.3h0.75v0.75h-0.75zM163.3 271.2h0.75v0.75h-0.75zM165.2 267.5h0.75v0.75h-0.75zM161.3 270.2h0.75v0.75h-0.75zM162.7 269.7h0.75v0.75h-0.75zM163.9 273.7h0.75v0.75h-0.75zM165.3 265.4h0.75v0.75h-0.75zM164.1 274.3h0.75v0.75h-0.75zM162.6 268.9h0.75v0.75h-0.75zM165.4 272.2h0.75v0.75h-0.75zM164.3 261.9h0.75v0.75h-0.75zM161.5 268.2h0.75v0.75h-0.75zM164.1 277.4h0.75v0.75h-0.75zM162.1 271.8h0.75v0.75h-0.75zM164.7 260.5h0.75v0.75h-0.75zM162.2 267.9h0.75v0.75h-0.75zM162.7 266.6h0.75v0.75h-0.75zM164.3 264.0h0.75v0.75h-0.75zM164.2 264.7h0.75v0.75h-0.75zM162.6 269.3h0.75v0.75h-0.75zM162.6 268.3h0.75v0.75h-0.75zM166.1 267.3h0.75v0.75h-0.75zM163.3 270.1h0.75v0.75h-0.75zM162.9 271.5h0.75v0.75h-0.75zM161.4 269.7h0.75v0.75h-0.75zM162.7 264.0h0.75v0.75h-0.75zM166.3 263.8h0.75v0.75h-0.75zM166.3 269.8h0.75v0.75h-0.75zM165.8 263.3h0.75v0.75h-0.75zM165.4 273.0h0.75v0.75h-0.75zM163.3 266.7h0.75v0.75h-0.75zM167.4 267.9h0.75v0.75h-0.75zM162.8 264.7h0.75v0.75h-0.75zM164.2 268.5h0.75v0.75h-0.75zM163.8 274.1h0.75v0.75h-0.75zM163.0 269.1h0.75v0.75h-0.75zM165.8 263.2h0.75v0.75h-0.75zM165.2 274.5h0.75v0.75h-0.75zM161.3 262.8h0.75v0.75h-0.75zM161.8 259.8h0.75v0.75h-0.75zM164.2 259.8h0.75v0.75h-0.75zM164.3 273.0h0.75v0.75h-0.75zM160.9 265.9h0.75v0.75h-0.75zM160.4 270.3h0.75v0.75h-0.75z" fill="#3a50f0" fill-opacity="0.55"/>
<path d="M161.1 252.9h0.75v0.75h-0.75zM163.1 256.9h0.75v0.75h-0.75zM162.1 254.3h0.75v0.75h-0.75zM161.6 254.8h0.75v0.75h-0.75zM160.0 254.5h0.75v0.75h-0.75zM158.0 251.7h0.75v0.75h-0.75zM168.0 254.6h0.75v0.75h-0.75zM159.7 255.5h0.75v0.75h-0.75zM160.5 245.9h0.75v0.75h-0.75zM161.1 257.9h0.75v0.75h-0.75zM164.0 253.7h0.75v0.75h-0.75zM160.6 248.8h0.75v0.75h-0.75zM166.5 255.4h0.75v0.75h-0.75zM160.5 243.6h0.75v0.75h-0.75zM159.4 266.6h0.75v0.75h-0.75zM160.0 253.8h0.75v0.75h-0.75zM163.5 253.4h0.75v0.75h-0.75zM162.3 247.3h0.75v0.75h-0.75zM160.3 262.6h0.75v0.75h-0.75zM161.0 258.4h0.75v0.75h-0.75zM158.6 252.8h0.75v0.75h-0.75zM163.7 259.4h0.75v0.75h-0.75zM160.1 257.2h0.75v0.75h-0.75zM164.0 250.5h0.75v0.75h-0.75zM164.2 249.7h0.75v0.75h-0.75zM160.9 254.1h0.75v0.75h-0.75zM155.9 253.7h0.75v0.75h-0.75zM160.4 246.9h0.75v0.75h-0.75zM161.9 258.0h0.75v0.75h-0.75zM161.9 260.5h0.75v0.75h-0.75z" fill="#4a5ef0" fill-opacity="0.5"/>
<text x="192.70" y="231.13" font-size="7.9" text-anchor="end" font-weight="normal" fill="#111" stroke="#111" stroke-width="0.25" >22.0</text>
<text x="192.70" y="289.23" font-size="7.9" text-anchor="end" font-weight="normal" fill="#111" stroke="#111" stroke-width="0.25" >78.0</text>
<line x1="91.40" y1="281.50" x2="127.20" y2="281.50" stroke="#333" stroke-width="1" />
<path d="M130.20,281.50 L125.20,279.40 L126.60,281.50 L125.20,283.60 Z" fill="#222"/>
<rect x="235.50" y="218.20" width="76.40" height="75.00" fill="white" stroke="#8c8c8c" stroke-width="0.9"/>
<line x1="231.90" y1="224.80" x2="233.90" y2="223.00" stroke="#666" stroke-width="0.7" />
<line x1="237.40" y1="297.50" x2="239.20" y2="295.70" stroke="#666" stroke-width="0.7" />
<line x1="231.90" y1="238.70" x2="233.90" y2="236.90" stroke="#666" stroke-width="0.7" />
<line x1="251.30" y1="297.50" x2="253.10" y2="295.70" stroke="#666" stroke-width="0.7" />
<line x1="231.90" y1="252.60" x2="233.90" y2="250.80" stroke="#666" stroke-width="0.7" />
<line x1="265.20" y1="297.50" x2="267.00" y2="295.70" stroke="#666" stroke-width="0.7" />
<line x1="231.90" y1="266.50" x2="233.90" y2="264.70" stroke="#666" stroke-width="0.7" />
<line x1="279.10" y1="297.50" x2="280.90" y2="295.70" stroke="#666" stroke-width="0.7" />
<line x1="231.90" y1="280.40" x2="233.90" y2="278.60" stroke="#666" stroke-width="0.7" />
<line x1="293.00" y1="297.50" x2="294.80" y2="295.70" stroke="#666" stroke-width="0.7" />
<line x1="231.90" y1="294.30" x2="233.90" y2="292.50" stroke="#666" stroke-width="0.7" />
<line x1="306.90" y1="297.50" x2="308.70" y2="295.70" stroke="#666" stroke-width="0.7" />
<path d="M243.9 263.7h0.75v0.75h-0.75zM271.0 277.4h0.75v0.75h-0.75zM265.0 267.6h0.75v0.75h-0.75zM263.5 276.3h0.75v0.75h-0.75zM262.0 274.4h0.75v0.75h-0.75zM267.6 269.0h0.75v0.75h-0.75zM245.9 262.4h0.75v0.75h-0.75zM267.1 268.3h0.75v0.75h-0.75zM245.1 266.7h0.75v0.75h-0.75zM251.0 264.0h0.75v0.75h-0.75zM252.6 269.2h0.75v0.75h-0.75zM250.0 266.5h0.75v0.75h-0.75zM255.9 270.5h0.75v0.75h-0.75zM256.6 276.2h0.75v0.75h-0.75zM258.9 256.7h0.75v0.75h-0.75zM250.1 267.8h0.75v0.75h-0.75zM263.2 261.6h0.75v0.75h-0.75zM248.4 271.8h0.75v0.75h-0.75zM252.1 282.1h0.75v0.75h-0.75zM251.1 281.9h0.75v0.75h-0.75zM240.8 259.7h0.75v0.75h-0.75zM267.7 277.7h0.75v0.75h-0.75zM260.4 275.2h0.75v0.75h-0.75zM260.3 264.5h0.75v0.75h-0.75zM265.0 269.9h0.75v0.75h-0.75zM265.4 274.9h0.75v0.75h-0.75zM235.8 263.9h0.75v0.75h-0.75zM266.8 273.1h0.75v0.75h-0.75zM251.5 276.1h0.75v0.75h-0.75zM251.2 269.8h0.75v0.75h-0.75zM256.5 275.4h0.75v0.75h-0.75zM270.7 274.6h0.75v0.75h-0.75zM274.3 288.6h0.75v0.75h-0.75zM272.7 282.7h0.75v0.75h-0.75zM256.8 275.3h0.75v0.75h-0.75zM254.1 268.4h0.75v0.75h-0.75zM254.8 269.1h0.75v0.75h-0.75zM271.9 278.5h0.75v0.75h-0.75zM251.0 258.9h0.75v0.75h-0.75zM255.0 270.9h0.75v0.75h-0.75zM244.6 265.1h0.75v0.75h-0.75zM255.2 273.0h0.75v0.75h-0.75zM269.9 275.3h0.75v0.75h-0.75zM257.2 271.2h0.75v0.75h-0.75zM249.4 286.2h0.75v0.75h-0.75zM265.5 287.9h0.75v0.75h-0.75zM252.0 274.4h0.75v0.75h-0.75zM246.7 281.9h0.75v0.75h-0.75zM241.6 278.7h0.75v0.75h-0.75zM266.5 285.5h0.75v0.75h-0.75zM246.1 282.9h0.75v0.75h-0.75zM248.4 268.1h0.75v0.75h-0.75zM242.3 283.4h0.75v0.75h-0.75zM272.0 269.4h0.75v0.75h-0.75zM247.9 271.5h0.75v0.75h-0.75zM280.6 282.2h0.75v0.75h-0.75zM250.1 259.8h0.75v0.75h-0.75zM248.8 283.7h0.75v0.75h-0.75zM274.2 272.1h0.75v0.75h-0.75zM248.6 270.1h0.75v0.75h-0.75zM236.6 281.5h0.75v0.75h-0.75zM244.6 282.7h0.75v0.75h-0.75zM238.4 264.0h0.75v0.75h-0.75zM258.4 268.1h0.75v0.75h-0.75zM263.3 274.3h0.75v0.75h-0.75zM243.8 279.2h0.75v0.75h-0.75zM263.9 258.9h0.75v0.75h-0.75zM273.8 278.2h0.75v0.75h-0.75zM263.1 259.3h0.75v0.75h-0.75zM248.3 271.4h0.75v0.75h-0.75zM266.3 262.5h0.75v0.75h-0.75zM246.7 258.0h0.75v0.75h-0.75zM253.1 277.0h0.75v0.75h-0.75zM238.6 269.5h0.75v0.75h-0.75zM260.6 286.9h0.75v0.75h-0.75zM262.1 271.8h0.75v0.75h-0.75zM243.7 266.7h0.75v0.75h-0.75zM248.9 275.4h0.75v0.75h-0.75zM255.0 287.5h0.75v0.75h-0.75zM258.4 265.6h0.75v0.75h-0.75zM270.9 281.8h0.75v0.75h-0.75zM256.5 268.4h0.75v0.75h-0.75zM236.8 266.0h0.75v0.75h-0.75zM264.6 267.8h0.75v0.75h-0.75zM242.3 275.8h0.75v0.75h-0.75zM257.9 279.1h0.75v0.75h-0.75zM262.1 285.5h0.75v0.75h-0.75zM247.1 282.0h0.75v0.75h-0.75zM245.6 279.8h0.75v0.75h-0.75zM257.3 276.1h0.75v0.75h-0.75zM265.2 274.1h0.75v0.75h-0.75zM266.6 281.2h0.75v0.75h-0.75zM256.9 269.7h0.75v0.75h-0.75zM248.0 270.0h0.75v0.75h-0.75zM253.5 274.0h0.75v0.75h-0.75zM285.3 279.3h0.75v0.75h-0.75zM263.2 267.3h0.75v0.75h-0.75zM248.4 271.6h0.75v0.75h-0.75zM257.4 265.9h0.75v0.75h-0.75zM271.6 269.7h0.75v0.75h-0.75zM266.3 255.5h0.75v0.75h-0.75zM255.4 276.4h0.75v0.75h-0.75zM257.4 279.0h0.75v0.75h-0.75zM258.3 275.5h0.75v0.75h-0.75zM236.6 268.5h0.75v0.75h-0.75zM258.6 272.6h0.75v0.75h-0.75zM247.3 269.5h0.75v0.75h-0.75z" fill="#5a6cf0" fill-opacity="0.4"/>
<path d="M266.7 282.7h0.75v0.75h-0.75zM256.2 280.3h0.75v0.75h-0.75zM247.8 262.6h0.75v0.75h-0.75zM253.8 268.4h0.75v0.75h-0.75zM253.4 274.2h0.75v0.75h-0.75zM273.1 269.6h0.75v0.75h-0.75zM256.8 274.7h0.75v0.75h-0.75zM256.3 278.3h0.75v0.75h-0.75zM266.3 266.4h0.75v0.75h-0.75zM257.4 271.7h0.75v0.75h-0.75zM258.5 264.8h0.75v0.75h-0.75zM246.8 260.5h0.75v0.75h-0.75zM259.4 274.3h0.75v0.75h-0.75zM256.9 260.2h0.75v0.75h-0.75zM254.4 269.0h0.75v0.75h-0.75zM248.7 268.2h0.75v0.75h-0.75zM260.3 276.2h0.75v0.75h-0.75zM256.4 276.0h0.75v0.75h-0.75zM253.2 273.6h0.75v0.75h-0.75zM256.7 276.2h0.75v0.75h-0.75zM256.1 272.4h0.75v0.75h-0.75zM255.8 269.7h0.75v0.75h-0.75zM268.8 276.0h0.75v0.75h-0.75zM258.9 285.8h0.75v0.75h-0.75zM264.2 264.6h0.75v0.75h-0.75zM260.3 277.8h0.75v0.75h-0.75zM266.9 280.4h0.75v0.75h-0.75zM260.7 266.7h0.75v0.75h-0.75zM251.7 274.7h0.75v0.75h-0.75zM259.3 267.6h0.75v0.75h-0.75zM254.4 271.0h0.75v0.75h-0.75zM256.8 275.0h0.75v0.75h-0.75zM254.9 266.4h0.75v0.75h-0.75zM263.3 282.0h0.75v0.75h-0.75zM255.9 278.8h0.75v0.75h-0.75zM258.9 276.8h0.75v0.75h-0.75zM259.1 269.0h0.75v0.75h-0.75zM259.7 278.8h0.75v0.75h-0.75zM251.6 284.0h0.75v0.75h-0.75zM268.0 283.2h0.75v0.75h-0.75zM267.4 277.3h0.75v0.75h-0.75zM254.6 269.9h0.75v0.75h-0.75zM252.0 273.8h0.75v0.75h-0.75zM256.3 276.9h0.75v0.75h-0.75zM245.4 285.9h0.75v0.75h-0.75zM269.0 273.0h0.75v0.75h-0.75zM260.2 275.8h0.75v0.75h-0.75zM258.0 272.1h0.75v0.75h-0.75zM255.8 268.7h0.75v0.75h-0.75zM257.5 273.1h0.75v0.75h-0.75zM258.3 268.5h0.75v0.75h-0.75zM256.7 273.5h0.75v0.75h-0.75zM259.8 267.4h0.75v0.75h-0.75zM258.8 278.6h0.75v0.75h-0.75zM259.8 271.2h0.75v0.75h-0.75zM253.8 271.9h0.75v0.75h-0.75zM260.5 281.7h0.75v0.75h-0.75zM255.6 269.7h0.75v0.75h-0.75zM258.6 274.3h0.75v0.75h-0.75zM251.5 269.1h0.75v0.75h-0.75zM255.9 276.9h0.75v0.75h-0.75zM249.9 267.6h0.75v0.75h-0.75zM259.2 266.5h0.75v0.75h-0.75zM257.1 275.1h0.75v0.75h-0.75zM255.9 267.6h0.75v0.75h-0.75zM256.2 271.4h0.75v0.75h-0.75zM258.3 268.6h0.75v0.75h-0.75zM262.5 264.0h0.75v0.75h-0.75zM255.5 273.2h0.75v0.75h-0.75zM261.8 269.9h0.75v0.75h-0.75zM259.5 270.1h0.75v0.75h-0.75zM260.6 282.8h0.75v0.75h-0.75zM254.3 275.6h0.75v0.75h-0.75zM251.4 278.6h0.75v0.75h-0.75zM263.2 273.4h0.75v0.75h-0.75zM250.3 275.4h0.75v0.75h-0.75zM262.8 279.2h0.75v0.75h-0.75zM261.0 263.1h0.75v0.75h-0.75zM252.8 281.0h0.75v0.75h-0.75zM249.8 279.4h0.75v0.75h-0.75zM266.9 277.4h0.75v0.75h-0.75zM262.7 271.4h0.75v0.75h-0.75zM249.8 272.6h0.75v0.75h-0.75zM255.4 272.9h0.75v0.75h-0.75zM260.3 272.4h0.75v0.75h-0.75zM257.6 275.5h0.75v0.75h-0.75zM256.5 283.3h0.75v0.75h-0.75zM258.9 273.7h0.75v0.75h-0.75zM255.4 269.8h0.75v0.75h-0.75zM263.9 274.0h0.75v0.75h-0.75zM250.6 270.1h0.75v0.75h-0.75zM255.7 270.7h0.75v0.75h-0.75zM262.5 266.8h0.75v0.75h-0.75zM259.2 274.0h0.75v0.75h-0.75zM250.0 273.5h0.75v0.75h-0.75zM256.0 276.0h0.75v0.75h-0.75zM254.0 274.9h0.75v0.75h-0.75zM247.3 267.2h0.75v0.75h-0.75zM260.8 278.9h0.75v0.75h-0.75zM256.4 269.9h0.75v0.75h-0.75zM262.5 261.7h0.75v0.75h-0.75zM252.1 276.9h0.75v0.75h-0.75zM260.1 267.5h0.75v0.75h-0.75zM246.1 281.2h0.75v0.75h-0.75zM257.3 268.3h0.75v0.75h-0.75zM256.8 278.2h0.75v0.75h-0.75zM242.2 279.3h0.75v0.75h-0.75zM260.6 261.8h0.75v0.75h-0.75zM260.7 263.4h0.75v0.75h-0.75zM262.8 275.4h0.75v0.75h-0.75zM268.9 269.8h0.75v0.75h-0.75zM256.5 279.0h0.75v0.75h-0.75zM253.0 269.3h0.75v0.75h-0.75zM254.5 272.8h0.75v0.75h-0.75zM250.5 275.9h0.75v0.75h-0.75zM259.5 273.6h0.75v0.75h-0.75zM265.9 271.4h0.75v0.75h-0.75zM263.7 270.2h0.75v0.75h-0.75zM260.7 262.6h0.75v0.75h-0.75zM257.6 272.2h0.75v0.75h-0.75zM253.8 269.8h0.75v0.75h-0.75zM254.6 269.2h0.75v0.75h-0.75zM244.4 269.9h0.75v0.75h-0.75zM253.5 270.3h0.75v0.75h-0.75zM250.7 272.5h0.75v0.75h-0.75zM260.8 271.8h0.75v0.75h-0.75zM253.8 280.7h0.75v0.75h-0.75zM261.9 278.3h0.75v0.75h-0.75zM262.9 271.4h0.75v0.75h-0.75zM255.8 279.3h0.75v0.75h-0.75zM253.5 272.5h0.75v0.75h-0.75zM258.6 275.3h0.75v0.75h-0.75zM255.0 278.6h0.75v0.75h-0.75zM255.5 277.2h0.75v0.75h-0.75zM262.4 276.8h0.75v0.75h-0.75zM260.5 266.8h0.75v0.75h-0.75zM249.3 269.8h0.75v0.75h-0.75zM259.1 281.5h0.75v0.75h-0.75zM249.8 274.9h0.75v0.75h-0.75zM251.8 269.2h0.75v0.75h-0.75zM255.0 277.0h0.75v0.75h-0.75zM257.7 279.7h0.75v0.75h-0.75zM251.1 278.1h0.75v0.75h-0.75zM261.6 273.6h0.75v0.75h-0.75zM259.1 270.1h0.75v0.75h-0.75zM250.5 271.0h0.75v0.75h-0.75zM253.0 289.1h0.75v0.75h-0.75zM253.8 282.3h0.75v0.75h-0.75zM257.6 274.9h0.75v0.75h-0.75zM260.6 268.9h0.75v0.75h-0.75zM261.5 275.3h0.75v0.75h-0.75zM248.2 276.5h0.75v0.75h-0.75zM259.5 275.7h0.75v0.75h-0.75zM265.2 270.9h0.75v0.75h-0.75zM259.3 277.3h0.75v0.75h-0.75zM251.5 279.8h0.75v0.75h-0.75zM248.5 266.0h0.75v0.75h-0.75zM259.4 267.2h0.75v0.75h-0.75zM255.9 264.2h0.75v0.75h-0.75zM256.9 267.0h0.75v0.75h-0.75zM258.4 264.8h0.75v0.75h-0.75zM259.0 271.7h0.75v0.75h-0.75zM256.9 272.8h0.75v0.75h-0.75zM257.2 265.9h0.75v0.75h-0.75zM242.4 273.4h0.75v0.75h-0.75zM251.4 270.7h0.75v0.75h-0.75zM258.8 262.3h0.75v0.75h-0.75zM252.3 269.8h0.75v0.75h-0.75zM250.7 275.0h0.75v0.75h-0.75zM255.7 268.7h0.75v0.75h-0.75zM251.1 277.6h0.75v0.75h-0.75zM252.9 276.4h0.75v0.75h-0.75zM259.0 262.8h0.75v0.75h-0.75zM250.5 273.2h0.75v0.75h-0.75zM258.4 277.5h0.75v0.75h-0.75zM260.9 278.9h0.75v0.75h-0.75zM254.4 272.0h0.75v0.75h-0.75zM260.8 270.9h0.75v0.75h-0.75zM262.3 264.5h0.75v0.75h-0.75zM260.1 272.2h0.75v0.75h-0.75zM245.7 278.6h0.75v0.75h-0.75zM258.2 273.3h0.75v0.75h-0.75zM250.6 270.6h0.75v0.75h-0.75zM264.8 268.7h0.75v0.75h-0.75zM237.4 268.5h0.75v0.75h-0.75zM249.9 272.5h0.75v0.75h-0.75zM254.3 268.2h0.75v0.75h-0.75zM251.9 279.0h0.75v0.75h-0.75zM248.6 284.0h0.75v0.75h-0.75zM253.5 267.2h0.75v0.75h-0.75zM260.8 276.3h0.75v0.75h-0.75zM250.8 277.3h0.75v0.75h-0.75zM246.4 268.1h0.75v0.75h-0.75zM262.7 271.8h0.75v0.75h-0.75zM249.3 276.0h0.75v0.75h-0.75zM261.5 273.1h0.75v0.75h-0.75zM246.6 271.3h0.75v0.75h-0.75zM258.8 277.4h0.75v0.75h-0.75zM266.7 271.8h0.75v0.75h-0.75zM253.8 273.0h0.75v0.75h-0.75zM263.1 268.0h0.75v0.75h-0.75zM263.7 258.1h0.75v0.75h-0.75zM260.9 269.5h0.75v0.75h-0.75zM259.0 277.0h0.75v0.75h-0.75zM250.0 272.7h0.75v0.75h-0.75zM257.8 276.4h0.75v0.75h-0.75zM251.4 267.7h0.75v0.75h-0.75zM245.9 287.2h0.75v0.75h-0.75zM255.4 272.0h0.75v0.75h-0.75zM248.3 278.3h0.75v0.75h-0.75zM253.6 281.1h0.75v0.75h-0.75zM261.2 273.3h0.75v0.75h-0.75zM260.5 267.1h0.75v0.75h-0.75zM254.7 270.0h0.75v0.75h-0.75zM249.5 273.3h0.75v0.75h-0.75zM255.7 281.1h0.75v0.75h-0.75zM238.1 269.5h0.75v0.75h-0.75zM251.4 270.6h0.75v0.75h-0.75zM258.8 275.4h0.75v0.75h-0.75zM256.7 270.6h0.75v0.75h-0.75z" fill="#3c55ee" fill-opacity="0.45"/>
<path d="M271.2 254.8h0.75v0.75h-0.75zM256.1 272.7h0.75v0.75h-0.75zM256.9 267.5h0.75v0.75h-0.75zM268.5 257.1h0.75v0.75h-0.75zM266.3 255.9h0.75v0.75h-0.75zM264.4 258.4h0.75v0.75h-0.75zM271.2 256.2h0.75v0.75h-0.75zM280.5 246.0h0.75v0.75h-0.75zM261.8 264.0h0.75v0.75h-0.75zM262.6 266.2h0.75v0.75h-0.75zM280.7 243.3h0.75v0.75h-0.75zM251.9 274.0h0.75v0.75h-0.75zM261.0 269.4h0.75v0.75h-0.75zM268.1 258.6h0.75v0.75h-0.75zM276.3 242.5h0.75v0.75h-0.75zM266.6 268.1h0.75v0.75h-0.75zM267.9 254.2h0.75v0.75h-0.75zM252.3 272.2h0.75v0.75h-0.75zM253.2 278.0h0.75v0.75h-0.75zM269.8 259.4h0.75v0.75h-0.75zM265.2 258.3h0.75v0.75h-0.75zM267.1 267.1h0.75v0.75h-0.75zM257.5 272.7h0.75v0.75h-0.75zM268.9 258.9h0.75v0.75h-0.75zM266.2 262.2h0.75v0.75h-0.75zM272.0 251.4h0.75v0.75h-0.75zM264.4 261.6h0.75v0.75h-0.75zM261.4 265.7h0.75v0.75h-0.75zM266.2 261.0h0.75v0.75h-0.75zM278.1 249.4h0.75v0.75h-0.75zM266.1 262.7h0.75v0.75h-0.75zM270.8 257.0h0.75v0.75h-0.75zM268.2 258.4h0.75v0.75h-0.75zM263.1 260.8h0.75v0.75h-0.75zM275.4 253.1h0.75v0.75h-0.75zM272.3 253.5h0.75v0.75h-0.75zM268.1 255.4h0.75v0.75h-0.75zM258.4 273.6h0.75v0.75h-0.75zM267.5 255.7h0.75v0.75h-0.75zM264.5 268.0h0.75v0.75h-0.75zM260.6 275.5h0.75v0.75h-0.75zM276.3 256.7h0.75v0.75h-0.75zM263.2 264.0h0.75v0.75h-0.75zM264.8 262.5h0.75v0.75h-0.75zM264.7 258.7h0.75v0.75h-0.75zM272.2 248.3h0.75v0.75h-0.75zM265.7 263.2h0.75v0.75h-0.75zM263.4 261.9h0.75v0.75h-0.75zM268.8 254.8h0.75v0.75h-0.75zM259.9 268.1h0.75v0.75h-0.75zM269.8 262.6h0.75v0.75h-0.75zM263.1 268.5h0.75v0.75h-0.75zM262.1 264.0h0.75v0.75h-0.75zM266.1 261.3h0.75v0.75h-0.75zM276.3 253.9h0.75v0.75h-0.75zM266.5 265.4h0.75v0.75h-0.75zM275.1 251.4h0.75v0.75h-0.75zM264.9 265.7h0.75v0.75h-0.75zM267.6 259.6h0.75v0.75h-0.75zM267.3 261.4h0.75v0.75h-0.75zM276.5 250.9h0.75v0.75h-0.75zM268.4 261.4h0.75v0.75h-0.75zM274.1 245.0h0.75v0.75h-0.75zM273.4 244.3h0.75v0.75h-0.75zM271.9 254.7h0.75v0.75h-0.75zM276.8 246.7h0.75v0.75h-0.75zM263.0 260.9h0.75v0.75h-0.75zM261.7 269.5h0.75v0.75h-0.75zM264.6 259.0h0.75v0.75h-0.75zM269.0 252.7h0.75v0.75h-0.75zM264.0 261.0h0.75v0.75h-0.75zM280.3 247.1h0.75v0.75h-0.75zM263.3 257.1h0.75v0.75h-0.75zM269.3 256.1h0.75v0.75h-0.75zM270.7 256.2h0.75v0.75h-0.75zM267.6 262.2h0.75v0.75h-0.75zM272.9 251.8h0.75v0.75h-0.75zM264.1 260.7h0.75v0.75h-0.75zM269.3 250.9h0.75v0.75h-0.75zM265.0 258.3h0.75v0.75h-0.75zM260.5 270.4h0.75v0.75h-0.75zM267.4 258.5h0.75v0.75h-0.75zM269.5 248.8h0.75v0.75h-0.75zM267.7 259.2h0.75v0.75h-0.75zM270.1 249.8h0.75v0.75h-0.75zM272.2 252.8h0.75v0.75h-0.75zM277.9 249.0h0.75v0.75h-0.75zM275.3 257.1h0.75v0.75h-0.75zM266.6 257.6h0.75v0.75h-0.75zM263.5 259.5h0.75v0.75h-0.75z" fill="#4a62ee" fill-opacity="0.45"/>
<path d="M275.9 239.1h0.75v0.75h-0.75zM278.2 243.7h0.75v0.75h-0.75zM280.9 240.2h0.75v0.75h-0.75zM281.9 238.9h0.75v0.75h-0.75zM275.6 239.3h0.75v0.75h-0.75zM274.6 242.6h0.75v0.75h-0.75zM283.4 241.0h0.75v0.75h-0.75zM275.0 245.7h0.75v0.75h-0.75zM279.3 241.4h0.75v0.75h-0.75zM277.8 242.1h0.75v0.75h-0.75zM274.4 240.3h0.75v0.75h-0.75zM279.0 245.3h0.75v0.75h-0.75zM282.4 239.6h0.75v0.75h-0.75zM275.4 243.6h0.75v0.75h-0.75zM281.3 241.8h0.75v0.75h-0.75zM276.5 244.4h0.75v0.75h-0.75zM277.9 244.0h0.75v0.75h-0.75zM275.2 240.7h0.75v0.75h-0.75zM279.0 244.0h0.75v0.75h-0.75zM274.3 244.5h0.75v0.75h-0.75zM280.5 240.4h0.75v0.75h-0.75zM278.0 247.7h0.75v0.75h-0.75zM281.8 243.2h0.75v0.75h-0.75zM276.6 247.4h0.75v0.75h-0.75zM272.1 244.7h0.75v0.75h-0.75zM281.8 243.9h0.75v0.75h-0.75zM274.3 243.1h0.75v0.75h-0.75zM276.7 238.7h0.75v0.75h-0.75zM280.6 242.6h0.75v0.75h-0.75zM277.1 244.5h0.75v0.75h-0.75z" fill="#3a6af0" fill-opacity="0.45"/>
<path d="M278.5 278.2h0.75v0.75h-0.75zM277.8 285.8h0.75v0.75h-0.75zM275.3 277.2h0.75v0.75h-0.75zM275.2 282.7h0.75v0.75h-0.75zM275.5 279.2h0.75v0.75h-0.75zM276.8 276.6h0.75v0.75h-0.75zM280.8 275.7h0.75v0.75h-0.75zM280.1 281.4h0.75v0.75h-0.75zM279.8 275.2h0.75v0.75h-0.75zM278.8 281.0h0.75v0.75h-0.75zM275.0 277.9h0.75v0.75h-0.75zM276.2 276.0h0.75v0.75h-0.75zM279.8 271.7h0.75v0.75h-0.75zM272.3 265.3h0.75v0.75h-0.75zM275.4 272.2h0.75v0.75h-0.75zM276.5 279.8h0.75v0.75h-0.75zM280.9 278.1h0.75v0.75h-0.75zM277.7 271.6h0.75v0.75h-0.75zM278.0 284.7h0.75v0.75h-0.75zM279.9 263.9h0.75v0.75h-0.75zM278.7 286.1h0.75v0.75h-0.75zM278.6 266.8h0.75v0.75h-0.75zM275.7 279.9h0.75v0.75h-0.75zM277.5 271.1h0.75v0.75h-0.75zM274.3 282.2h0.75v0.75h-0.75zM273.2 285.2h0.75v0.75h-0.75zM276.6 278.1h0.75v0.75h-0.75zM273.2 272.5h0.75v0.75h-0.75zM278.2 267.0h0.75v0.75h-0.75zM281.7 267.4h0.75v0.75h-0.75zM273.4 276.5h0.75v0.75h-0.75zM277.7 280.8h0.75v0.75h-0.75zM275.6 274.9h0.75v0.75h-0.75zM275.9 272.6h0.75v0.75h-0.75zM270.1 282.2h0.75v0.75h-0.75zM277.1 277.2h0.75v0.75h-0.75zM274.9 277.8h0.75v0.75h-0.75zM276.5 275.7h0.75v0.75h-0.75zM279.3 265.4h0.75v0.75h-0.75zM277.1 269.5h0.75v0.75h-0.75zM275.7 285.6h0.75v0.75h-0.75zM273.8 275.6h0.75v0.75h-0.75zM275.0 282.1h0.75v0.75h-0.75zM274.1 265.7h0.75v0.75h-0.75zM277.8 274.0h0.75v0.75h-0.75zM275.7 282.9h0.75v0.75h-0.75zM274.3 273.9h0.75v0.75h-0.75zM276.9 278.8h0.75v0.75h-0.75zM275.2 282.7h0.75v0.75h-0.75zM282.1 273.6h0.75v0.75h-0.75zM281.2 263.0h0.75v0.75h-0.75zM280.0 274.1h0.75v0.75h-0.75zM276.8 274.1h0.75v0.75h-0.75zM274.9 268.2h0.75v0.75h-0.75zM275.5 284.3h0.75v0.75h-0.75zM279.3 274.0h0.75v0.75h-0.75zM275.2 271.8h0.75v0.75h-0.75zM273.5 287.5h0.75v0.75h-0.75zM278.2 276.9h0.75v0.75h-0.75zM275.3 269.8h0.75v0.75h-0.75zM279.8 281.1h0.75v0.75h-0.75zM274.1 282.4h0.75v0.75h-0.75zM273.7 280.2h0.75v0.75h-0.75zM274.1 273.6h0.75v0.75h-0.75zM277.7 278.9h0.75v0.75h-0.75zM279.0 271.0h0.75v0.75h-0.75zM280.4 284.6h0.75v0.75h-0.75zM276.5 279.1h0.75v0.75h-0.75zM274.6 275.2h0.75v0.75h-0.75zM273.2 276.8h0.75v0.75h-0.75zM277.0 284.6h0.75v0.75h-0.75zM278.9 281.3h0.75v0.75h-0.75zM275.6 274.8h0.75v0.75h-0.75zM275.6 277.6h0.75v0.75h-0.75zM271.7 281.0h0.75v0.75h-0.75zM272.6 273.0h0.75v0.75h-0.75zM276.6 273.0h0.75v0.75h-0.75zM280.7 275.6h0.75v0.75h-0.75zM280.4 283.5h0.75v0.75h-0.75zM275.3 278.7h0.75v0.75h-0.75zM279.7 274.1h0.75v0.75h-0.75zM276.7 272.7h0.75v0.75h-0.75zM276.6 274.0h0.75v0.75h-0.75zM276.7 282.5h0.75v0.75h-0.75zM280.0 277.0h0.75v0.75h-0.75zM277.0 281.5h0.75v0.75h-0.75zM275.8 269.6h0.75v0.75h-0.75zM279.3 270.4h0.75v0.75h-0.75zM278.8 270.2h0.75v0.75h-0.75zM281.1 269.7h0.75v0.75h-0.75zM278.6 285.6h0.75v0.75h-0.75zM274.1 285.5h0.75v0.75h-0.75zM274.4 265.2h0.75v0.75h-0.75zM278.3 280.6h0.75v0.75h-0.75zM276.0 260.4h0.75v0.75h-0.75zM276.4 274.3h0.75v0.75h-0.75zM275.6 274.4h0.75v0.75h-0.75zM272.0 272.7h0.75v0.75h-0.75zM281.0 285.9h0.75v0.75h-0.75zM275.6 271.8h0.75v0.75h-0.75zM277.5 282.8h0.75v0.75h-0.75zM278.3 268.9h0.75v0.75h-0.75zM276.9 277.1h0.75v0.75h-0.75zM280.1 283.7h0.75v0.75h-0.75zM277.8 283.8h0.75v0.75h-0.75zM275.5 285.8h0.75v0.75h-0.75zM275.4 278.7h0.75v0.75h-0.75zM278.8 270.5h0.75v0.75h-0.75zM274.7 265.2h0.75v0.75h-0.75zM276.9 275.9h0.75v0.75h-0.75z" fill="#4a62ee" fill-opacity="0.45"/>
<ellipse cx="279.2" cy="242.3" rx="5.2" ry="2.7" transform="rotate(-32 279.2 242.3)" fill="#3f62f0" fill-opacity="0.55"/>
<ellipse cx="279.5" cy="242.10000000000002" rx="3.7" ry="1.7" transform="rotate(-32 279.2 242.3)" fill="#34b848" fill-opacity="0.9"/>
<ellipse cx="279.7" cy="242.0" rx="1.3" ry="0.8" transform="rotate(-32 279.2 242.3)" fill="#9ad820"/>
<rect x="270.30" y="264.30" width="17.40" height="28.90" fill="none" stroke="#e8383a" stroke-width="1.1"/>
<text x="289.90" y="264.66" font-size="6.3" text-anchor="start" font-weight="bold" fill="#111" stroke="#111" stroke-width="0.1" >CD8 T</text>
<text x="289.90" y="271.86" font-size="6.3" text-anchor="start" font-weight="bold" fill="#111" stroke="#111" stroke-width="0.1" >15.8%</text>
<rect x="314.50" y="217.70" width="77.60" height="76.20" fill="white" stroke="#707070" stroke-width="0.9"/>
<line x1="316.40" y1="298.20" x2="318.20" y2="296.40" stroke="#666" stroke-width="0.7" />
<line x1="330.30" y1="298.20" x2="332.10" y2="296.40" stroke="#666" stroke-width="0.7" />
<line x1="344.20" y1="298.20" x2="346.00" y2="296.40" stroke="#666" stroke-width="0.7" />
<line x1="358.10" y1="298.20" x2="359.90" y2="296.40" stroke="#666" stroke-width="0.7" />
<line x1="372.00" y1="298.20" x2="373.80" y2="296.40" stroke="#666" stroke-width="0.7" />
<line x1="385.90" y1="298.20" x2="387.70" y2="296.40" stroke="#666" stroke-width="0.7" />
<line x1="331.60" y1="217.70" x2="331.60" y2="293.90" stroke="#333" stroke-width="1" />
<line x1="314.50" y1="259.80" x2="392.10" y2="259.80" stroke="#555" stroke-width="1" />
<path d="M353.6 274.6h0.75v0.75h-0.75zM348.8 269.6h0.75v0.75h-0.75zM354.7 267.2h0.75v0.75h-0.75zM356.6 286.6h0.75v0.75h-0.75zM353.3 260.8h0.75v0.75h-0.75zM352.9 270.7h0.75v0.75h-0.75zM356.1 261.5h0.75v0.75h-0.75zM357.2 260.0h0.75v0.75h-0.75zM356.7 273.9h0.75v0.75h-0.75zM355.7 290.5h0.75v0.75h-0.75zM353.8 268.2h0.75v0.75h-0.75zM355.8 278.1h0.75v0.75h-0.75zM350.9 272.4h0.75v0.75h-0.75zM352.5 275.9h0.75v0.75h-0.75zM358.2 270.3h0.75v0.75h-0.75zM354.2 271.6h0.75v0.75h-0.75zM346.6 277.2h0.75v0.75h-0.75zM356.0 271.4h0.75v0.75h-0.75zM353.4 262.8h0.75v0.75h-0.75zM354.0 281.4h0.75v0.75h-0.75zM354.2 282.7h0.75v0.75h-0.75zM347.6 265.4h0.75v0.75h-0.75zM355.2 269.7h0.75v0.75h-0.75zM350.0 263.4h0.75v0.75h-0.75zM357.9 257.4h0.75v0.75h-0.75zM351.8 259.3h0.75v0.75h-0.75zM353.0 276.0h0.75v0.75h-0.75zM356.1 250.3h0.75v0.75h-0.75zM358.4 264.1h0.75v0.75h-0.75zM352.9 285.8h0.75v0.75h-0.75zM354.3 257.9h0.75v0.75h-0.75zM352.8 262.8h0.75v0.75h-0.75zM351.8 266.6h0.75v0.75h-0.75zM356.9 273.2h0.75v0.75h-0.75zM351.8 270.9h0.75v0.75h-0.75zM354.6 277.1h0.75v0.75h-0.75zM353.6 274.2h0.75v0.75h-0.75zM360.2 270.7h0.75v0.75h-0.75zM351.6 273.0h0.75v0.75h-0.75zM352.3 266.2h0.75v0.75h-0.75zM355.0 273.0h0.75v0.75h-0.75zM353.7 277.9h0.75v0.75h-0.75zM354.0 257.3h0.75v0.75h-0.75zM356.9 266.3h0.75v0.75h-0.75zM357.8 263.5h0.75v0.75h-0.75zM356.0 272.8h0.75v0.75h-0.75zM347.3 255.5h0.75v0.75h-0.75zM351.5 283.3h0.75v0.75h-0.75zM349.4 278.6h0.75v0.75h-0.75zM357.4 274.6h0.75v0.75h-0.75zM356.3 265.0h0.75v0.75h-0.75zM354.5 272.0h0.75v0.75h-0.75zM355.6 276.6h0.75v0.75h-0.75zM353.9 263.1h0.75v0.75h-0.75zM353.0 273.7h0.75v0.75h-0.75zM350.0 257.8h0.75v0.75h-0.75zM353.4 264.5h0.75v0.75h-0.75zM353.8 244.2h0.75v0.75h-0.75zM353.6 267.4h0.75v0.75h-0.75zM356.6 250.8h0.75v0.75h-0.75zM353.7 274.4h0.75v0.75h-0.75zM355.8 281.3h0.75v0.75h-0.75zM357.3 259.7h0.75v0.75h-0.75zM356.2 266.6h0.75v0.75h-0.75zM352.3 284.5h0.75v0.75h-0.75zM352.8 261.6h0.75v0.75h-0.75zM353.4 261.6h0.75v0.75h-0.75zM357.2 273.5h0.75v0.75h-0.75zM358.3 273.8h0.75v0.75h-0.75zM352.8 279.9h0.75v0.75h-0.75zM352.7 265.4h0.75v0.75h-0.75zM354.0 270.2h0.75v0.75h-0.75zM357.7 264.0h0.75v0.75h-0.75zM355.4 269.5h0.75v0.75h-0.75zM351.1 259.3h0.75v0.75h-0.75zM353.9 273.7h0.75v0.75h-0.75zM355.4 274.4h0.75v0.75h-0.75zM354.6 265.5h0.75v0.75h-0.75zM355.6 260.1h0.75v0.75h-0.75zM350.9 266.6h0.75v0.75h-0.75zM350.6 264.8h0.75v0.75h-0.75zM352.5 264.5h0.75v0.75h-0.75zM354.4 262.1h0.75v0.75h-0.75zM353.4 253.3h0.75v0.75h-0.75zM354.9 261.3h0.75v0.75h-0.75zM355.6 242.5h0.75v0.75h-0.75zM352.3 272.1h0.75v0.75h-0.75zM347.9 266.3h0.75v0.75h-0.75zM354.8 270.8h0.75v0.75h-0.75zM350.5 272.0h0.75v0.75h-0.75zM354.9 260.4h0.75v0.75h-0.75zM356.5 269.3h0.75v0.75h-0.75zM354.6 265.5h0.75v0.75h-0.75zM356.0 270.7h0.75v0.75h-0.75zM357.6 274.2h0.75v0.75h-0.75zM352.8 267.6h0.75v0.75h-0.75zM357.0 266.3h0.75v0.75h-0.75zM355.5 274.8h0.75v0.75h-0.75zM354.0 247.3h0.75v0.75h-0.75zM354.9 271.9h0.75v0.75h-0.75zM354.9 262.5h0.75v0.75h-0.75zM357.8 268.5h0.75v0.75h-0.75zM352.8 262.9h0.75v0.75h-0.75zM355.5 259.3h0.75v0.75h-0.75zM351.8 289.1h0.75v0.75h-0.75zM358.0 280.0h0.75v0.75h-0.75zM358.2 275.6h0.75v0.75h-0.75zM349.9 281.4h0.75v0.75h-0.75zM357.9 274.5h0.75v0.75h-0.75zM349.2 281.8h0.75v0.75h-0.75zM358.2 265.0h0.75v0.75h-0.75zM354.8 277.3h0.75v0.75h-0.75zM354.3 280.4h0.75v0.75h-0.75zM354.7 276.5h0.75v0.75h-0.75zM354.7 255.5h0.75v0.75h-0.75zM355.3 282.5h0.75v0.75h-0.75zM357.6 286.4h0.75v0.75h-0.75zM356.0 264.0h0.75v0.75h-0.75zM354.6 251.2h0.75v0.75h-0.75zM354.0 278.6h0.75v0.75h-0.75zM348.6 271.7h0.75v0.75h-0.75zM356.7 282.7h0.75v0.75h-0.75zM352.0 263.5h0.75v0.75h-0.75zM349.4 259.9h0.75v0.75h-0.75zM356.0 289.9h0.75v0.75h-0.75zM351.4 283.2h0.75v0.75h-0.75zM355.7 265.0h0.75v0.75h-0.75zM360.5 245.3h0.75v0.75h-0.75z" fill="#4a5ef0" fill-opacity="0.5"/>
<path d="M354.4 266.7h0.75v0.75h-0.75zM357.8 272.8h0.75v0.75h-0.75zM358.0 266.3h0.75v0.75h-0.75zM356.0 271.1h0.75v0.75h-0.75zM355.3 267.2h0.75v0.75h-0.75zM354.2 264.2h0.75v0.75h-0.75zM352.6 273.4h0.75v0.75h-0.75zM353.8 257.7h0.75v0.75h-0.75zM354.9 265.7h0.75v0.75h-0.75zM354.8 272.9h0.75v0.75h-0.75zM354.3 264.8h0.75v0.75h-0.75zM353.3 265.7h0.75v0.75h-0.75zM353.8 266.6h0.75v0.75h-0.75zM359.4 267.3h0.75v0.75h-0.75zM353.2 273.3h0.75v0.75h-0.75zM355.8 269.0h0.75v0.75h-0.75zM355.6 269.0h0.75v0.75h-0.75zM355.6 271.3h0.75v0.75h-0.75zM356.1 271.0h0.75v0.75h-0.75zM353.7 265.8h0.75v0.75h-0.75zM353.4 269.5h0.75v0.75h-0.75zM355.8 264.0h0.75v0.75h-0.75zM355.4 276.0h0.75v0.75h-0.75zM356.4 261.5h0.75v0.75h-0.75zM354.4 268.3h0.75v0.75h-0.75zM354.4 267.3h0.75v0.75h-0.75zM356.3 267.1h0.75v0.75h-0.75zM352.8 268.6h0.75v0.75h-0.75zM354.3 266.2h0.75v0.75h-0.75zM353.6 260.4h0.75v0.75h-0.75zM352.6 264.4h0.75v0.75h-0.75zM352.8 255.2h0.75v0.75h-0.75zM356.3 261.3h0.75v0.75h-0.75zM353.4 267.9h0.75v0.75h-0.75zM350.7 271.0h0.75v0.75h-0.75zM353.3 268.4h0.75v0.75h-0.75zM353.7 267.0h0.75v0.75h-0.75zM354.7 265.8h0.75v0.75h-0.75zM351.7 260.1h0.75v0.75h-0.75zM354.4 271.3h0.75v0.75h-0.75zM353.6 267.9h0.75v0.75h-0.75zM354.8 267.7h0.75v0.75h-0.75zM356.0 260.0h0.75v0.75h-0.75zM354.9 265.1h0.75v0.75h-0.75zM354.0 262.5h0.75v0.75h-0.75zM353.3 261.8h0.75v0.75h-0.75zM352.8 275.6h0.75v0.75h-0.75zM357.1 265.8h0.75v0.75h-0.75zM355.7 262.0h0.75v0.75h-0.75zM350.2 258.7h0.75v0.75h-0.75z" fill="#3a50f0" fill-opacity="0.55"/>
<path d="M354.4 259.8h0.75v0.75h-0.75zM353.9 247.9h0.75v0.75h-0.75zM353.4 247.9h0.75v0.75h-0.75zM350.5 251.7h0.75v0.75h-0.75zM353.0 248.8h0.75v0.75h-0.75zM351.8 248.3h0.75v0.75h-0.75zM354.6 259.6h0.75v0.75h-0.75zM353.5 263.7h0.75v0.75h-0.75zM349.9 254.1h0.75v0.75h-0.75zM351.1 252.0h0.75v0.75h-0.75zM354.3 255.5h0.75v0.75h-0.75zM356.9 250.1h0.75v0.75h-0.75zM350.9 251.9h0.75v0.75h-0.75zM354.7 249.4h0.75v0.75h-0.75zM356.3 261.0h0.75v0.75h-0.75zM350.4 254.6h0.75v0.75h-0.75zM356.6 243.4h0.75v0.75h-0.75zM354.5 251.7h0.75v0.75h-0.75zM350.4 259.2h0.75v0.75h-0.75zM354.6 250.5h0.75v0.75h-0.75zM355.1 255.9h0.75v0.75h-0.75zM355.9 255.6h0.75v0.75h-0.75zM355.0 247.1h0.75v0.75h-0.75zM352.9 253.4h0.75v0.75h-0.75zM347.0 263.2h0.75v0.75h-0.75zM353.0 247.7h0.75v0.75h-0.75zM349.4 254.0h0.75v0.75h-0.75zM354.1 250.0h0.75v0.75h-0.75zM352.9 248.5h0.75v0.75h-0.75zM352.1 252.3h0.75v0.75h-0.75z" fill="#4a5ef0" fill-opacity="0.5"/>
<text x="383.90" y="229.53" font-size="7.9" text-anchor="end" font-weight="normal" fill="#111" stroke="#111" stroke-width="0.25" >25.8</text>
<text x="383.90" y="287.73" font-size="7.9" text-anchor="end" font-weight="normal" fill="#111" stroke="#111" stroke-width="0.25" >74.2</text>
<line x1="286.70" y1="284.20" x2="321.30" y2="284.20" stroke="#333" stroke-width="1" />
<path d="M324.30,284.20 L319.30,282.10 L320.70,284.20 L319.30,286.30 Z" fill="#222"/>
<rect x="43.00" y="312.10" width="76.90" height="75.10" fill="white" stroke="#8c8c8c" stroke-width="0.9"/>
<line x1="39.40" y1="318.70" x2="41.40" y2="316.90" stroke="#666" stroke-width="0.7" />
<line x1="44.90" y1="391.50" x2="46.70" y2="389.70" stroke="#666" stroke-width="0.7" />
<line x1="39.40" y1="332.60" x2="41.40" y2="330.80" stroke="#666" stroke-width="0.7" />
<line x1="58.80" y1="391.50" x2="60.60" y2="389.70" stroke="#666" stroke-width="0.7" />
<line x1="39.40" y1="346.50" x2="41.40" y2="344.70" stroke="#666" stroke-width="0.7" />
<line x1="72.70" y1="391.50" x2="74.50" y2="389.70" stroke="#666" stroke-width="0.7" />
<line x1="39.40" y1="360.40" x2="41.40" y2="358.60" stroke="#666" stroke-width="0.7" />
<line x1="86.60" y1="391.50" x2="88.40" y2="389.70" stroke="#666" stroke-width="0.7" />
<line x1="39.40" y1="374.30" x2="41.40" y2="372.50" stroke="#666" stroke-width="0.7" />
<line x1="100.50" y1="391.50" x2="102.30" y2="389.70" stroke="#666" stroke-width="0.7" />
<line x1="39.40" y1="388.20" x2="41.40" y2="386.40" stroke="#666" stroke-width="0.7" />
<line x1="114.40" y1="391.50" x2="116.20" y2="389.70" stroke="#666" stroke-width="0.7" />
<path d="M57.4 373.4h0.75v0.75h-0.75zM61.7 369.1h0.75v0.75h-0.75zM66.6 378.0h0.75v0.75h-0.75zM68.3 369.9h0.75v0.75h-0.75zM61.6 361.8h0.75v0.75h-0.75zM60.0 373.4h0.75v0.75h-0.75zM65.0 365.1h0.75v0.75h-0.75zM51.3 356.1h0.75v0.75h-0.75zM65.8 376.1h0.75v0.75h-0.75zM66.3 357.4h0.75v0.75h-0.75zM61.1 369.8h0.75v0.75h-0.75zM54.9 370.8h0.75v0.75h-0.75zM61.2 361.6h0.75v0.75h-0.75zM52.1 374.4h0.75v0.75h-0.75zM66.1 361.2h0.75v0.75h-0.75zM54.1 375.0h0.75v0.75h-0.75zM68.2 365.7h0.75v0.75h-0.75zM77.0 365.8h0.75v0.75h-0.75zM53.7 376.6h0.75v0.75h-0.75zM61.3 370.8h0.75v0.75h-0.75zM63.3 360.3h0.75v0.75h-0.75zM52.6 366.6h0.75v0.75h-0.75zM75.3 360.3h0.75v0.75h-0.75zM74.9 369.8h0.75v0.75h-0.75zM53.3 370.2h0.75v0.75h-0.75zM68.0 361.1h0.75v0.75h-0.75zM44.3 370.9h0.75v0.75h-0.75zM53.3 371.5h0.75v0.75h-0.75zM46.3 367.0h0.75v0.75h-0.75zM55.9 356.6h0.75v0.75h-0.75zM60.9 369.4h0.75v0.75h-0.75zM58.1 358.9h0.75v0.75h-0.75zM64.9 354.5h0.75v0.75h-0.75zM67.7 371.9h0.75v0.75h-0.75zM77.7 375.0h0.75v0.75h-0.75zM66.1 370.2h0.75v0.75h-0.75zM63.2 357.8h0.75v0.75h-0.75zM75.8 372.2h0.75v0.75h-0.75zM60.5 359.2h0.75v0.75h-0.75zM76.0 372.2h0.75v0.75h-0.75zM52.6 373.3h0.75v0.75h-0.75zM79.6 367.9h0.75v0.75h-0.75zM66.5 364.9h0.75v0.75h-0.75zM57.5 376.4h0.75v0.75h-0.75zM89.9 369.0h0.75v0.75h-0.75zM61.9 374.3h0.75v0.75h-0.75zM60.3 373.8h0.75v0.75h-0.75zM70.2 360.2h0.75v0.75h-0.75zM53.6 367.5h0.75v0.75h-0.75zM70.3 370.3h0.75v0.75h-0.75zM73.8 357.4h0.75v0.75h-0.75zM67.3 363.3h0.75v0.75h-0.75zM63.9 370.6h0.75v0.75h-0.75zM54.5 366.3h0.75v0.75h-0.75zM52.8 370.2h0.75v0.75h-0.75zM55.6 364.3h0.75v0.75h-0.75zM64.9 363.0h0.75v0.75h-0.75zM73.0 363.2h0.75v0.75h-0.75zM70.4 370.3h0.75v0.75h-0.75zM54.0 366.4h0.75v0.75h-0.75zM55.7 365.3h0.75v0.75h-0.75zM60.6 382.2h0.75v0.75h-0.75zM59.3 380.3h0.75v0.75h-0.75zM66.9 358.0h0.75v0.75h-0.75zM45.6 373.7h0.75v0.75h-0.75zM72.0 371.1h0.75v0.75h-0.75zM61.2 366.2h0.75v0.75h-0.75zM65.3 365.8h0.75v0.75h-0.75zM58.3 365.2h0.75v0.75h-0.75zM73.2 363.3h0.75v0.75h-0.75zM66.3 359.2h0.75v0.75h-0.75zM56.8 357.5h0.75v0.75h-0.75zM61.3 373.4h0.75v0.75h-0.75zM65.7 364.3h0.75v0.75h-0.75zM68.3 365.4h0.75v0.75h-0.75zM66.2 370.2h0.75v0.75h-0.75zM67.7 348.9h0.75v0.75h-0.75zM51.7 374.1h0.75v0.75h-0.75zM62.1 385.5h0.75v0.75h-0.75zM61.0 363.8h0.75v0.75h-0.75zM76.0 372.4h0.75v0.75h-0.75zM79.5 372.0h0.75v0.75h-0.75zM61.2 373.7h0.75v0.75h-0.75zM56.1 364.6h0.75v0.75h-0.75zM58.2 366.4h0.75v0.75h-0.75zM69.8 364.4h0.75v0.75h-0.75zM65.8 364.2h0.75v0.75h-0.75zM70.7 346.8h0.75v0.75h-0.75zM61.2 369.4h0.75v0.75h-0.75zM53.6 375.9h0.75v0.75h-0.75zM64.9 378.0h0.75v0.75h-0.75zM71.4 373.1h0.75v0.75h-0.75zM61.7 359.7h0.75v0.75h-0.75zM61.1 364.5h0.75v0.75h-0.75zM65.2 364.5h0.75v0.75h-0.75zM89.6 355.7h0.75v0.75h-0.75zM73.2 364.5h0.75v0.75h-0.75zM60.9 375.3h0.75v0.75h-0.75zM63.0 358.7h0.75v0.75h-0.75zM66.6 366.6h0.75v0.75h-0.75zM45.1 369.6h0.75v0.75h-0.75zM53.8 362.3h0.75v0.75h-0.75zM67.2 370.4h0.75v0.75h-0.75zM60.5 384.9h0.75v0.75h-0.75zM66.6 363.4h0.75v0.75h-0.75zM65.1 367.2h0.75v0.75h-0.75zM43.8 355.9h0.75v0.75h-0.75zM50.9 384.1h0.75v0.75h-0.75zM61.4 366.0h0.75v0.75h-0.75z" fill="#5a6cf0" fill-opacity="0.4"/>
<path d="M60.3 372.3h0.75v0.75h-0.75zM63.1 376.2h0.75v0.75h-0.75zM66.8 375.8h0.75v0.75h-0.75zM62.4 369.1h0.75v0.75h-0.75zM60.9 366.2h0.75v0.75h-0.75zM54.7 364.0h0.75v0.75h-0.75zM58.4 363.6h0.75v0.75h-0.75zM68.9 368.5h0.75v0.75h-0.75zM68.9 371.7h0.75v0.75h-0.75zM67.4 372.4h0.75v0.75h-0.75zM60.1 371.4h0.75v0.75h-0.75zM61.4 364.3h0.75v0.75h-0.75zM68.8 378.6h0.75v0.75h-0.75zM58.3 376.3h0.75v0.75h-0.75zM67.0 362.6h0.75v0.75h-0.75zM64.3 369.1h0.75v0.75h-0.75zM64.8 365.2h0.75v0.75h-0.75zM56.8 367.3h0.75v0.75h-0.75zM67.2 371.3h0.75v0.75h-0.75zM66.2 372.9h0.75v0.75h-0.75zM58.2 366.9h0.75v0.75h-0.75zM64.6 372.4h0.75v0.75h-0.75zM63.8 369.8h0.75v0.75h-0.75zM63.6 378.2h0.75v0.75h-0.75zM52.5 367.0h0.75v0.75h-0.75zM74.9 368.3h0.75v0.75h-0.75zM54.2 367.8h0.75v0.75h-0.75zM56.1 363.5h0.75v0.75h-0.75zM64.1 376.2h0.75v0.75h-0.75zM65.2 370.6h0.75v0.75h-0.75zM67.9 368.2h0.75v0.75h-0.75zM58.9 366.6h0.75v0.75h-0.75zM64.6 365.6h0.75v0.75h-0.75zM59.8 365.2h0.75v0.75h-0.75zM55.8 361.7h0.75v0.75h-0.75zM62.6 365.2h0.75v0.75h-0.75zM63.2 374.5h0.75v0.75h-0.75zM64.4 366.9h0.75v0.75h-0.75zM57.4 361.4h0.75v0.75h-0.75zM64.8 362.5h0.75v0.75h-0.75zM65.1 361.4h0.75v0.75h-0.75zM63.6 366.7h0.75v0.75h-0.75zM67.8 365.0h0.75v0.75h-0.75zM61.2 368.4h0.75v0.75h-0.75zM63.3 376.0h0.75v0.75h-0.75zM61.8 364.3h0.75v0.75h-0.75zM61.5 369.6h0.75v0.75h-0.75zM64.1 370.8h0.75v0.75h-0.75zM56.3 380.2h0.75v0.75h-0.75zM71.9 366.9h0.75v0.75h-0.75zM57.2 367.9h0.75v0.75h-0.75zM65.0 355.3h0.75v0.75h-0.75zM63.1 359.3h0.75v0.75h-0.75zM65.2 374.4h0.75v0.75h-0.75zM68.0 359.1h0.75v0.75h-0.75zM69.6 371.9h0.75v0.75h-0.75zM61.3 369.8h0.75v0.75h-0.75zM70.3 365.3h0.75v0.75h-0.75zM62.9 364.1h0.75v0.75h-0.75zM68.6 355.7h0.75v0.75h-0.75zM69.8 362.0h0.75v0.75h-0.75zM67.5 358.5h0.75v0.75h-0.75zM58.5 363.9h0.75v0.75h-0.75zM67.0 358.5h0.75v0.75h-0.75zM65.9 363.7h0.75v0.75h-0.75zM69.0 365.5h0.75v0.75h-0.75zM65.3 366.2h0.75v0.75h-0.75zM71.6 365.2h0.75v0.75h-0.75zM62.9 377.6h0.75v0.75h-0.75zM63.4 370.7h0.75v0.75h-0.75zM59.5 368.2h0.75v0.75h-0.75zM52.1 367.7h0.75v0.75h-0.75zM59.9 359.1h0.75v0.75h-0.75zM56.2 373.1h0.75v0.75h-0.75zM65.1 359.1h0.75v0.75h-0.75zM71.7 363.4h0.75v0.75h-0.75zM61.2 368.4h0.75v0.75h-0.75zM57.5 358.5h0.75v0.75h-0.75zM59.4 373.4h0.75v0.75h-0.75zM67.6 358.7h0.75v0.75h-0.75zM68.8 367.3h0.75v0.75h-0.75zM65.4 367.4h0.75v0.75h-0.75zM65.0 361.8h0.75v0.75h-0.75zM58.6 363.4h0.75v0.75h-0.75zM61.2 370.4h0.75v0.75h-0.75zM57.1 375.5h0.75v0.75h-0.75zM60.0 364.0h0.75v0.75h-0.75zM66.4 369.4h0.75v0.75h-0.75zM61.4 361.4h0.75v0.75h-0.75zM58.2 358.6h0.75v0.75h-0.75zM68.5 372.8h0.75v0.75h-0.75zM72.0 369.7h0.75v0.75h-0.75zM64.6 371.1h0.75v0.75h-0.75zM67.6 365.7h0.75v0.75h-0.75zM64.7 378.5h0.75v0.75h-0.75zM54.8 359.7h0.75v0.75h-0.75zM58.4 371.1h0.75v0.75h-0.75zM68.7 365.3h0.75v0.75h-0.75zM66.2 366.8h0.75v0.75h-0.75zM64.4 364.2h0.75v0.75h-0.75zM62.9 367.1h0.75v0.75h-0.75zM68.4 378.9h0.75v0.75h-0.75zM54.3 369.9h0.75v0.75h-0.75zM63.0 372.2h0.75v0.75h-0.75zM68.1 371.2h0.75v0.75h-0.75zM66.9 362.1h0.75v0.75h-0.75zM54.8 375.9h0.75v0.75h-0.75zM68.8 362.1h0.75v0.75h-0.75zM69.2 370.6h0.75v0.75h-0.75zM51.2 371.9h0.75v0.75h-0.75zM58.2 373.3h0.75v0.75h-0.75zM59.7 363.2h0.75v0.75h-0.75zM55.6 366.0h0.75v0.75h-0.75zM67.9 363.5h0.75v0.75h-0.75zM54.0 378.5h0.75v0.75h-0.75zM71.9 370.8h0.75v0.75h-0.75zM60.4 360.7h0.75v0.75h-0.75zM55.1 370.1h0.75v0.75h-0.75zM69.3 361.5h0.75v0.75h-0.75zM63.0 365.6h0.75v0.75h-0.75zM61.8 369.8h0.75v0.75h-0.75zM73.1 363.7h0.75v0.75h-0.75zM67.1 372.9h0.75v0.75h-0.75zM61.6 366.3h0.75v0.75h-0.75zM56.5 372.8h0.75v0.75h-0.75zM60.4 363.6h0.75v0.75h-0.75zM63.3 362.6h0.75v0.75h-0.75zM58.0 365.5h0.75v0.75h-0.75zM70.2 366.0h0.75v0.75h-0.75zM65.5 359.3h0.75v0.75h-0.75zM53.6 376.7h0.75v0.75h-0.75zM61.1 358.9h0.75v0.75h-0.75zM62.5 370.3h0.75v0.75h-0.75zM54.7 362.4h0.75v0.75h-0.75zM64.3 362.2h0.75v0.75h-0.75zM66.8 372.2h0.75v0.75h-0.75zM65.1 364.8h0.75v0.75h-0.75zM62.8 363.7h0.75v0.75h-0.75zM62.4 368.8h0.75v0.75h-0.75zM61.6 372.3h0.75v0.75h-0.75zM75.5 364.2h0.75v0.75h-0.75zM64.7 371.5h0.75v0.75h-0.75zM66.1 365.8h0.75v0.75h-0.75zM60.7 372.4h0.75v0.75h-0.75zM66.0 369.8h0.75v0.75h-0.75zM59.1 370.5h0.75v0.75h-0.75zM66.8 366.1h0.75v0.75h-0.75zM66.1 378.6h0.75v0.75h-0.75zM53.9 370.3h0.75v0.75h-0.75zM57.3 359.9h0.75v0.75h-0.75zM61.9 370.0h0.75v0.75h-0.75zM63.3 360.9h0.75v0.75h-0.75zM56.1 364.1h0.75v0.75h-0.75zM63.1 362.7h0.75v0.75h-0.75zM55.7 376.4h0.75v0.75h-0.75zM58.9 366.3h0.75v0.75h-0.75zM60.3 364.0h0.75v0.75h-0.75zM63.2 365.5h0.75v0.75h-0.75zM66.0 360.8h0.75v0.75h-0.75zM55.8 377.5h0.75v0.75h-0.75zM62.6 371.2h0.75v0.75h-0.75zM68.7 370.0h0.75v0.75h-0.75zM63.2 358.8h0.75v0.75h-0.75zM55.3 372.3h0.75v0.75h-0.75zM66.3 370.1h0.75v0.75h-0.75zM55.0 355.7h0.75v0.75h-0.75zM57.9 360.8h0.75v0.75h-0.75zM63.8 361.7h0.75v0.75h-0.75zM70.7 363.8h0.75v0.75h-0.75zM60.3 371.7h0.75v0.75h-0.75zM64.6 362.3h0.75v0.75h-0.75zM67.0 377.3h0.75v0.75h-0.75zM57.1 365.8h0.75v0.75h-0.75zM57.8 356.7h0.75v0.75h-0.75zM66.0 370.8h0.75v0.75h-0.75zM67.7 369.4h0.75v0.75h-0.75zM53.2 367.0h0.75v0.75h-0.75zM59.8 360.8h0.75v0.75h-0.75zM57.6 371.2h0.75v0.75h-0.75zM61.6 377.6h0.75v0.75h-0.75zM65.3 356.9h0.75v0.75h-0.75zM67.3 373.8h0.75v0.75h-0.75zM63.2 360.6h0.75v0.75h-0.75zM71.6 360.1h0.75v0.75h-0.75zM62.6 356.9h0.75v0.75h-0.75zM56.9 358.0h0.75v0.75h-0.75zM68.3 373.4h0.75v0.75h-0.75zM61.0 359.8h0.75v0.75h-0.75zM62.7 369.1h0.75v0.75h-0.75zM55.6 360.9h0.75v0.75h-0.75zM62.5 370.9h0.75v0.75h-0.75zM63.4 369.5h0.75v0.75h-0.75zM56.9 353.8h0.75v0.75h-0.75zM64.5 362.2h0.75v0.75h-0.75zM62.4 365.1h0.75v0.75h-0.75zM65.3 363.0h0.75v0.75h-0.75zM70.0 367.3h0.75v0.75h-0.75zM65.6 370.5h0.75v0.75h-0.75zM68.1 369.3h0.75v0.75h-0.75zM54.5 363.7h0.75v0.75h-0.75zM72.1 369.6h0.75v0.75h-0.75zM65.7 369.6h0.75v0.75h-0.75zM59.9 363.5h0.75v0.75h-0.75zM59.8 373.3h0.75v0.75h-0.75zM64.8 376.7h0.75v0.75h-0.75zM65.4 377.3h0.75v0.75h-0.75zM65.2 360.7h0.75v0.75h-0.75zM71.5 368.9h0.75v0.75h-0.75zM68.8 368.3h0.75v0.75h-0.75zM61.4 368.0h0.75v0.75h-0.75zM57.5 360.7h0.75v0.75h-0.75zM58.6 364.3h0.75v0.75h-0.75zM56.4 366.5h0.75v0.75h-0.75zM64.5 378.0h0.75v0.75h-0.75zM72.0 366.8h0.75v0.75h-0.75zM67.3 365.9h0.75v0.75h-0.75zM64.9 366.9h0.75v0.75h-0.75zM60.3 367.5h0.75v0.75h-0.75zM55.7 369.5h0.75v0.75h-0.75zM61.6 361.2h0.75v0.75h-0.75zM61.2 370.1h0.75v0.75h-0.75zM59.7 369.7h0.75v0.75h-0.75zM65.8 375.5h0.75v0.75h-0.75zM57.7 366.5h0.75v0.75h-0.75zM65.5 375.2h0.75v0.75h-0.75zM64.3 371.2h0.75v0.75h-0.75zM55.8 363.9h0.75v0.75h-0.75zM71.2 365.6h0.75v0.75h-0.75zM73.6 363.2h0.75v0.75h-0.75zM61.6 358.5h0.75v0.75h-0.75zM66.1 368.5h0.75v0.75h-0.75zM72.9 368.0h0.75v0.75h-0.75zM61.8 359.5h0.75v0.75h-0.75zM62.6 372.2h0.75v0.75h-0.75zM66.7 373.8h0.75v0.75h-0.75zM67.3 366.8h0.75v0.75h-0.75zM66.0 368.0h0.75v0.75h-0.75zM56.4 376.4h0.75v0.75h-0.75zM64.8 361.4h0.75v0.75h-0.75zM64.9 368.7h0.75v0.75h-0.75zM67.9 374.9h0.75v0.75h-0.75zM48.0 370.1h0.75v0.75h-0.75zM70.6 361.9h0.75v0.75h-0.75zM53.8 368.6h0.75v0.75h-0.75zM64.7 369.0h0.75v0.75h-0.75zM57.5 364.6h0.75v0.75h-0.75zM64.0 371.2h0.75v0.75h-0.75zM73.8 368.7h0.75v0.75h-0.75zM60.0 354.3h0.75v0.75h-0.75zM68.3 366.4h0.75v0.75h-0.75zM62.5 361.7h0.75v0.75h-0.75zM66.6 357.3h0.75v0.75h-0.75zM63.5 367.8h0.75v0.75h-0.75zM64.5 374.2h0.75v0.75h-0.75zM62.5 367.6h0.75v0.75h-0.75zM67.2 358.6h0.75v0.75h-0.75zM61.6 367.5h0.75v0.75h-0.75zM67.7 362.7h0.75v0.75h-0.75zM67.0 369.2h0.75v0.75h-0.75zM55.6 359.0h0.75v0.75h-0.75zM55.9 367.9h0.75v0.75h-0.75zM64.0 371.1h0.75v0.75h-0.75zM67.1 364.1h0.75v0.75h-0.75zM68.3 371.6h0.75v0.75h-0.75zM65.3 369.7h0.75v0.75h-0.75zM56.6 369.1h0.75v0.75h-0.75zM57.9 360.6h0.75v0.75h-0.75zM61.3 367.9h0.75v0.75h-0.75zM62.7 365.3h0.75v0.75h-0.75zM58.0 368.1h0.75v0.75h-0.75zM59.3 359.4h0.75v0.75h-0.75zM63.5 375.0h0.75v0.75h-0.75zM61.0 361.3h0.75v0.75h-0.75zM69.9 376.5h0.75v0.75h-0.75zM61.5 365.9h0.75v0.75h-0.75zM64.1 383.2h0.75v0.75h-0.75zM63.7 372.5h0.75v0.75h-0.75zM65.2 357.1h0.75v0.75h-0.75zM57.5 360.4h0.75v0.75h-0.75zM65.2 367.7h0.75v0.75h-0.75zM71.9 365.6h0.75v0.75h-0.75zM64.5 367.5h0.75v0.75h-0.75zM63.7 379.8h0.75v0.75h-0.75zM64.4 375.2h0.75v0.75h-0.75zM69.5 363.8h0.75v0.75h-0.75zM66.4 365.0h0.75v0.75h-0.75zM63.5 368.0h0.75v0.75h-0.75zM63.1 364.5h0.75v0.75h-0.75zM70.8 365.6h0.75v0.75h-0.75zM66.5 376.3h0.75v0.75h-0.75zM66.1 372.7h0.75v0.75h-0.75zM69.9 373.1h0.75v0.75h-0.75zM71.6 359.3h0.75v0.75h-0.75zM72.8 367.3h0.75v0.75h-0.75zM54.3 363.6h0.75v0.75h-0.75zM56.0 367.0h0.75v0.75h-0.75zM55.6 361.6h0.75v0.75h-0.75zM64.5 368.0h0.75v0.75h-0.75zM59.0 365.8h0.75v0.75h-0.75zM62.5 367.5h0.75v0.75h-0.75zM63.0 365.9h0.75v0.75h-0.75zM67.4 358.3h0.75v0.75h-0.75zM60.5 367.8h0.75v0.75h-0.75zM61.0 364.1h0.75v0.75h-0.75zM60.8 368.2h0.75v0.75h-0.75zM69.2 366.1h0.75v0.75h-0.75zM61.7 369.1h0.75v0.75h-0.75zM61.8 356.5h0.75v0.75h-0.75zM64.3 365.0h0.75v0.75h-0.75zM60.1 370.6h0.75v0.75h-0.75zM63.2 364.0h0.75v0.75h-0.75zM52.1 357.6h0.75v0.75h-0.75zM63.1 366.5h0.75v0.75h-0.75zM65.2 368.3h0.75v0.75h-0.75zM60.6 360.1h0.75v0.75h-0.75zM57.5 366.3h0.75v0.75h-0.75zM57.3 371.3h0.75v0.75h-0.75zM56.4 357.3h0.75v0.75h-0.75zM62.0 357.3h0.75v0.75h-0.75zM71.1 361.6h0.75v0.75h-0.75zM62.7 365.8h0.75v0.75h-0.75zM58.9 357.4h0.75v0.75h-0.75zM53.7 371.9h0.75v0.75h-0.75zM68.1 379.0h0.75v0.75h-0.75zM55.7 370.2h0.75v0.75h-0.75zM62.9 371.7h0.75v0.75h-0.75zM60.4 371.1h0.75v0.75h-0.75zM67.5 370.4h0.75v0.75h-0.75zM70.2 366.1h0.75v0.75h-0.75zM70.7 363.2h0.75v0.75h-0.75zM71.3 352.0h0.75v0.75h-0.75zM63.1 362.7h0.75v0.75h-0.75zM63.0 372.8h0.75v0.75h-0.75zM66.6 367.6h0.75v0.75h-0.75zM71.5 359.0h0.75v0.75h-0.75zM58.9 375.4h0.75v0.75h-0.75zM64.6 355.7h0.75v0.75h-0.75zM64.7 360.6h0.75v0.75h-0.75zM70.4 373.4h0.75v0.75h-0.75zM60.3 374.2h0.75v0.75h-0.75zM58.8 372.2h0.75v0.75h-0.75zM65.9 366.4h0.75v0.75h-0.75zM55.9 365.6h0.75v0.75h-0.75zM51.6 364.0h0.75v0.75h-0.75zM53.7 373.8h0.75v0.75h-0.75zM58.2 353.7h0.75v0.75h-0.75zM65.9 369.1h0.75v0.75h-0.75zM60.5 378.7h0.75v0.75h-0.75zM66.9 367.5h0.75v0.75h-0.75zM59.8 350.8h0.75v0.75h-0.75zM65.4 372.4h0.75v0.75h-0.75zM60.0 359.3h0.75v0.75h-0.75zM62.8 357.9h0.75v0.75h-0.75zM63.0 371.3h0.75v0.75h-0.75zM70.5 368.6h0.75v0.75h-0.75zM64.0 371.2h0.75v0.75h-0.75zM70.0 365.3h0.75v0.75h-0.75zM56.9 362.7h0.75v0.75h-0.75zM56.7 362.2h0.75v0.75h-0.75zM62.4 369.0h0.75v0.75h-0.75zM63.8 367.5h0.75v0.75h-0.75zM61.2 369.4h0.75v0.75h-0.75zM67.4 371.3h0.75v0.75h-0.75zM70.5 365.5h0.75v0.75h-0.75zM61.7 376.4h0.75v0.75h-0.75zM64.0 369.4h0.75v0.75h-0.75zM61.3 372.4h0.75v0.75h-0.75zM61.0 361.6h0.75v0.75h-0.75zM62.7 364.7h0.75v0.75h-0.75zM67.2 365.0h0.75v0.75h-0.75zM63.6 365.9h0.75v0.75h-0.75zM64.7 363.6h0.75v0.75h-0.75zM68.5 359.3h0.75v0.75h-0.75zM61.1 363.2h0.75v0.75h-0.75zM66.2 367.3h0.75v0.75h-0.75zM65.4 365.3h0.75v0.75h-0.75zM59.4 360.9h0.75v0.75h-0.75zM61.3 364.2h0.75v0.75h-0.75zM64.4 369.1h0.75v0.75h-0.75zM67.9 366.5h0.75v0.75h-0.75zM59.3 361.3h0.75v0.75h-0.75zM63.3 369.1h0.75v0.75h-0.75zM72.7 368.1h0.75v0.75h-0.75zM71.8 377.4h0.75v0.75h-0.75zM57.8 373.8h0.75v0.75h-0.75zM68.7 374.5h0.75v0.75h-0.75zM63.0 372.4h0.75v0.75h-0.75zM60.6 366.7h0.75v0.75h-0.75zM63.1 376.9h0.75v0.75h-0.75zM61.9 372.4h0.75v0.75h-0.75zM63.3 363.2h0.75v0.75h-0.75zM64.2 370.7h0.75v0.75h-0.75zM59.4 370.6h0.75v0.75h-0.75zM59.4 362.3h0.75v0.75h-0.75zM64.1 365.8h0.75v0.75h-0.75zM58.1 358.1h0.75v0.75h-0.75zM63.1 368.4h0.75v0.75h-0.75zM60.7 368.1h0.75v0.75h-0.75zM55.4 369.3h0.75v0.75h-0.75zM65.1 368.6h0.75v0.75h-0.75zM59.9 367.5h0.75v0.75h-0.75zM63.7 373.0h0.75v0.75h-0.75zM64.4 368.5h0.75v0.75h-0.75zM59.4 371.8h0.75v0.75h-0.75zM68.9 364.4h0.75v0.75h-0.75zM66.2 368.8h0.75v0.75h-0.75zM62.8 360.0h0.75v0.75h-0.75zM71.8 356.8h0.75v0.75h-0.75zM64.5 365.0h0.75v0.75h-0.75zM68.7 364.8h0.75v0.75h-0.75zM63.2 370.5h0.75v0.75h-0.75zM65.3 364.2h0.75v0.75h-0.75zM66.4 369.3h0.75v0.75h-0.75zM67.9 364.3h0.75v0.75h-0.75zM62.8 365.0h0.75v0.75h-0.75zM58.8 368.5h0.75v0.75h-0.75zM65.0 374.9h0.75v0.75h-0.75zM61.4 369.2h0.75v0.75h-0.75zM68.7 366.5h0.75v0.75h-0.75zM63.3 367.8h0.75v0.75h-0.75z" fill="#2e50f0" fill-opacity="0.5"/>
<path d="M62.3 364.6h0.75v0.75h-0.75zM66.8 367.5h0.75v0.75h-0.75zM63.8 364.0h0.75v0.75h-0.75zM64.3 370.0h0.75v0.75h-0.75zM61.1 364.9h0.75v0.75h-0.75zM66.8 370.7h0.75v0.75h-0.75zM67.9 365.7h0.75v0.75h-0.75zM65.5 365.2h0.75v0.75h-0.75zM65.3 366.2h0.75v0.75h-0.75zM64.5 370.4h0.75v0.75h-0.75zM64.8 366.5h0.75v0.75h-0.75zM64.1 367.8h0.75v0.75h-0.75zM62.7 367.6h0.75v0.75h-0.75zM65.5 371.0h0.75v0.75h-0.75zM58.9 364.1h0.75v0.75h-0.75zM60.9 369.3h0.75v0.75h-0.75zM70.1 367.6h0.75v0.75h-0.75zM64.3 369.9h0.75v0.75h-0.75zM57.9 366.7h0.75v0.75h-0.75zM56.3 367.5h0.75v0.75h-0.75zM62.7 365.9h0.75v0.75h-0.75zM64.8 365.6h0.75v0.75h-0.75zM66.8 367.1h0.75v0.75h-0.75zM64.9 373.4h0.75v0.75h-0.75zM62.9 369.4h0.75v0.75h-0.75zM61.9 370.2h0.75v0.75h-0.75zM66.4 367.4h0.75v0.75h-0.75zM66.5 371.1h0.75v0.75h-0.75zM67.4 367.1h0.75v0.75h-0.75zM63.9 369.8h0.75v0.75h-0.75zM60.4 365.6h0.75v0.75h-0.75zM65.2 368.5h0.75v0.75h-0.75zM68.6 371.5h0.75v0.75h-0.75zM64.8 368.2h0.75v0.75h-0.75zM60.7 366.6h0.75v0.75h-0.75zM64.6 366.5h0.75v0.75h-0.75zM64.1 368.6h0.75v0.75h-0.75zM61.6 365.7h0.75v0.75h-0.75zM59.6 369.9h0.75v0.75h-0.75zM61.4 362.9h0.75v0.75h-0.75zM65.9 366.6h0.75v0.75h-0.75zM66.4 366.2h0.75v0.75h-0.75zM69.3 368.9h0.75v0.75h-0.75zM64.4 367.4h0.75v0.75h-0.75zM63.5 369.1h0.75v0.75h-0.75zM68.9 366.1h0.75v0.75h-0.75zM61.3 368.6h0.75v0.75h-0.75zM66.6 363.4h0.75v0.75h-0.75zM62.3 364.6h0.75v0.75h-0.75zM65.4 368.3h0.75v0.75h-0.75zM62.2 364.3h0.75v0.75h-0.75zM65.7 362.0h0.75v0.75h-0.75zM65.6 366.7h0.75v0.75h-0.75zM68.7 369.6h0.75v0.75h-0.75zM62.6 366.4h0.75v0.75h-0.75zM63.3 365.3h0.75v0.75h-0.75zM64.2 369.5h0.75v0.75h-0.75zM60.3 366.5h0.75v0.75h-0.75zM67.7 368.9h0.75v0.75h-0.75zM62.0 365.1h0.75v0.75h-0.75zM61.9 363.1h0.75v0.75h-0.75zM66.8 367.3h0.75v0.75h-0.75zM62.3 363.6h0.75v0.75h-0.75zM63.1 365.8h0.75v0.75h-0.75zM68.2 366.0h0.75v0.75h-0.75zM64.3 369.7h0.75v0.75h-0.75zM65.6 366.7h0.75v0.75h-0.75zM58.6 370.6h0.75v0.75h-0.75zM65.5 366.0h0.75v0.75h-0.75zM63.8 364.7h0.75v0.75h-0.75zM61.8 363.5h0.75v0.75h-0.75zM65.2 368.4h0.75v0.75h-0.75zM64.4 369.0h0.75v0.75h-0.75zM65.3 367.4h0.75v0.75h-0.75zM61.8 368.6h0.75v0.75h-0.75zM66.9 368.7h0.75v0.75h-0.75zM67.1 365.9h0.75v0.75h-0.75zM61.6 370.2h0.75v0.75h-0.75zM62.6 367.7h0.75v0.75h-0.75zM63.5 367.2h0.75v0.75h-0.75zM63.3 365.8h0.75v0.75h-0.75zM59.6 371.8h0.75v0.75h-0.75zM64.5 362.4h0.75v0.75h-0.75zM61.8 364.3h0.75v0.75h-0.75zM62.2 360.8h0.75v0.75h-0.75zM65.4 371.1h0.75v0.75h-0.75zM63.4 368.9h0.75v0.75h-0.75zM65.5 364.0h0.75v0.75h-0.75zM67.0 363.0h0.75v0.75h-0.75zM62.6 366.2h0.75v0.75h-0.75z" fill="#2a7af0" fill-opacity="0.6"/>
<path d="M84.4 342.6h0.75v0.75h-0.75zM75.5 349.4h0.75v0.75h-0.75zM78.5 349.6h0.75v0.75h-0.75zM84.8 348.2h0.75v0.75h-0.75zM81.6 345.6h0.75v0.75h-0.75zM80.9 354.0h0.75v0.75h-0.75zM78.9 348.8h0.75v0.75h-0.75zM90.4 341.9h0.75v0.75h-0.75zM80.5 346.4h0.75v0.75h-0.75zM77.4 355.9h0.75v0.75h-0.75zM78.0 354.6h0.75v0.75h-0.75zM74.4 355.1h0.75v0.75h-0.75zM80.3 347.9h0.75v0.75h-0.75zM80.0 349.4h0.75v0.75h-0.75zM70.0 355.0h0.75v0.75h-0.75zM81.4 354.3h0.75v0.75h-0.75zM75.3 349.2h0.75v0.75h-0.75zM74.9 354.2h0.75v0.75h-0.75zM82.5 341.8h0.75v0.75h-0.75zM81.2 347.0h0.75v0.75h-0.75zM74.1 350.6h0.75v0.75h-0.75zM75.6 349.7h0.75v0.75h-0.75zM76.6 343.6h0.75v0.75h-0.75zM85.2 344.6h0.75v0.75h-0.75zM84.3 349.3h0.75v0.75h-0.75zM77.0 343.3h0.75v0.75h-0.75zM79.3 350.6h0.75v0.75h-0.75zM72.1 352.2h0.75v0.75h-0.75zM81.3 348.4h0.75v0.75h-0.75zM75.4 352.3h0.75v0.75h-0.75z" fill="#5a6cf0" fill-opacity="0.4"/>
<path d="M85.1 336.4h0.75v0.75h-0.75zM87.8 338.5h0.75v0.75h-0.75zM82.3 338.4h0.75v0.75h-0.75zM91.7 334.7h0.75v0.75h-0.75zM88.2 337.8h0.75v0.75h-0.75zM83.1 336.0h0.75v0.75h-0.75zM81.1 336.6h0.75v0.75h-0.75zM88.5 337.7h0.75v0.75h-0.75zM85.2 336.1h0.75v0.75h-0.75zM88.7 337.0h0.75v0.75h-0.75zM85.9 333.0h0.75v0.75h-0.75zM83.1 333.1h0.75v0.75h-0.75zM86.9 334.8h0.75v0.75h-0.75zM86.6 340.2h0.75v0.75h-0.75zM91.1 335.4h0.75v0.75h-0.75zM87.9 336.5h0.75v0.75h-0.75zM85.4 337.4h0.75v0.75h-0.75zM91.4 332.2h0.75v0.75h-0.75zM85.3 337.9h0.75v0.75h-0.75zM90.2 336.7h0.75v0.75h-0.75zM84.2 337.8h0.75v0.75h-0.75zM85.1 334.9h0.75v0.75h-0.75zM86.8 335.7h0.75v0.75h-0.75zM89.9 336.0h0.75v0.75h-0.75zM84.9 337.9h0.75v0.75h-0.75zM85.4 336.0h0.75v0.75h-0.75zM86.7 339.1h0.75v0.75h-0.75zM84.3 334.3h0.75v0.75h-0.75zM85.6 339.1h0.75v0.75h-0.75zM91.9 331.6h0.75v0.75h-0.75zM85.7 336.6h0.75v0.75h-0.75zM83.5 339.4h0.75v0.75h-0.75zM87.1 337.2h0.75v0.75h-0.75zM92.9 332.8h0.75v0.75h-0.75zM89.9 336.8h0.75v0.75h-0.75z" fill="#3a90f0" fill-opacity="0.45"/>
<path d="M81.1 365.5h0.75v0.75h-0.75zM87.5 375.7h0.75v0.75h-0.75zM83.4 361.6h0.75v0.75h-0.75zM85.6 374.2h0.75v0.75h-0.75zM89.4 381.6h0.75v0.75h-0.75zM85.3 372.2h0.75v0.75h-0.75zM83.2 365.8h0.75v0.75h-0.75zM83.9 372.0h0.75v0.75h-0.75zM84.9 378.6h0.75v0.75h-0.75zM83.9 365.9h0.75v0.75h-0.75zM85.4 382.2h0.75v0.75h-0.75zM80.6 373.4h0.75v0.75h-0.75zM84.6 374.3h0.75v0.75h-0.75zM84.5 369.4h0.75v0.75h-0.75zM82.7 383.2h0.75v0.75h-0.75zM88.1 359.2h0.75v0.75h-0.75zM75.6 373.5h0.75v0.75h-0.75zM81.0 366.1h0.75v0.75h-0.75zM78.4 372.9h0.75v0.75h-0.75zM82.8 365.9h0.75v0.75h-0.75zM87.3 379.2h0.75v0.75h-0.75zM81.8 375.2h0.75v0.75h-0.75zM82.9 379.1h0.75v0.75h-0.75zM84.7 369.8h0.75v0.75h-0.75zM84.6 364.5h0.75v0.75h-0.75zM85.3 381.8h0.75v0.75h-0.75zM81.9 374.4h0.75v0.75h-0.75zM78.1 377.4h0.75v0.75h-0.75zM85.6 362.2h0.75v0.75h-0.75zM88.1 371.0h0.75v0.75h-0.75zM78.0 359.5h0.75v0.75h-0.75zM85.5 368.0h0.75v0.75h-0.75zM86.2 358.1h0.75v0.75h-0.75zM82.7 377.7h0.75v0.75h-0.75zM81.0 375.4h0.75v0.75h-0.75zM82.0 372.8h0.75v0.75h-0.75zM79.4 376.2h0.75v0.75h-0.75zM86.8 361.4h0.75v0.75h-0.75zM86.1 347.0h0.75v0.75h-0.75zM82.3 356.8h0.75v0.75h-0.75zM83.9 364.5h0.75v0.75h-0.75zM81.4 363.6h0.75v0.75h-0.75z" fill="#5a6cf0" fill-opacity="0.4"/>
<ellipse cx="87.4" cy="336.3" rx="5.2" ry="2.7" transform="rotate(-32 87.4 336.3)" fill="#3f62f0" fill-opacity="0.55"/>
<ellipse cx="87.7" cy="336.1" rx="3" ry="1.4" transform="rotate(-32 87.4 336.3)" fill="#2f8af0" fill-opacity="0.7"/>
<rect x="77.30" y="358.30" width="16.10" height="28.90" fill="none" stroke="#e8383a" stroke-width="1.1"/>
<text x="98.80" y="359.46" font-size="6.3" text-anchor="start" font-weight="bold" fill="#111" stroke="#111" stroke-width="0.1" >CD8 T</text>
<text x="98.80" y="366.66" font-size="6.3" text-anchor="start" font-weight="bold" fill="#111" stroke="#111" stroke-width="0.1" >1.86%</text>
<rect x="122.60" y="312.00" width="77.40" height="76.00" fill="white" stroke="#707070" stroke-width="0.9"/>
<line x1="124.50" y1="392.30" x2="126.30" y2="390.50" stroke="#666" stroke-width="0.7" />
<line x1="138.40" y1="392.30" x2="140.20" y2="390.50" stroke="#666" stroke-width="0.7" />
<line x1="152.30" y1="392.30" x2="154.10" y2="390.50" stroke="#666" stroke-width="0.7" />
<line x1="166.20" y1="392.30" x2="168.00" y2="390.50" stroke="#666" stroke-width="0.7" />
<line x1="180.10" y1="392.30" x2="181.90" y2="390.50" stroke="#666" stroke-width="0.7" />
<line x1="194.00" y1="392.30" x2="195.80" y2="390.50" stroke="#666" stroke-width="0.7" />
<line x1="139.00" y1="312.00" x2="139.00" y2="388.00" stroke="#333" stroke-width="1" />
<line x1="122.60" y1="353.70" x2="200.00" y2="353.70" stroke="#555" stroke-width="1" />
<path d="M163.4 359.2h0.75v0.75h-0.75zM160.1 361.5h0.75v0.75h-0.75zM163.7 355.4h0.75v0.75h-0.75zM165.6 347.6h0.75v0.75h-0.75zM163.7 359.9h0.75v0.75h-0.75zM166.9 357.5h0.75v0.75h-0.75zM160.8 350.7h0.75v0.75h-0.75zM168.0 369.7h0.75v0.75h-0.75zM159.6 360.4h0.75v0.75h-0.75zM160.0 378.5h0.75v0.75h-0.75zM163.7 343.9h0.75v0.75h-0.75zM163.2 372.6h0.75v0.75h-0.75zM162.6 368.3h0.75v0.75h-0.75zM162.3 365.7h0.75v0.75h-0.75zM163.2 356.8h0.75v0.75h-0.75zM163.5 365.3h0.75v0.75h-0.75zM162.5 357.1h0.75v0.75h-0.75zM159.8 366.1h0.75v0.75h-0.75zM164.8 340.2h0.75v0.75h-0.75zM161.1 376.9h0.75v0.75h-0.75zM165.1 356.8h0.75v0.75h-0.75zM166.3 354.1h0.75v0.75h-0.75zM160.5 382.6h0.75v0.75h-0.75zM161.4 361.6h0.75v0.75h-0.75zM158.1 353.9h0.75v0.75h-0.75zM159.4 362.4h0.75v0.75h-0.75zM157.6 374.0h0.75v0.75h-0.75zM161.6 357.8h0.75v0.75h-0.75zM160.9 370.9h0.75v0.75h-0.75zM166.8 359.7h0.75v0.75h-0.75zM167.0 379.4h0.75v0.75h-0.75zM166.3 366.6h0.75v0.75h-0.75zM158.5 370.3h0.75v0.75h-0.75zM161.5 365.6h0.75v0.75h-0.75zM157.5 361.0h0.75v0.75h-0.75zM163.2 354.6h0.75v0.75h-0.75zM163.4 380.0h0.75v0.75h-0.75zM163.2 357.0h0.75v0.75h-0.75zM169.1 342.8h0.75v0.75h-0.75z" fill="#4a5ef0" fill-opacity="0.5"/>
<path d="M161.2 361.3h0.75v0.75h-0.75zM161.7 350.8h0.75v0.75h-0.75zM163.0 362.9h0.75v0.75h-0.75zM161.4 365.4h0.75v0.75h-0.75zM163.4 364.3h0.75v0.75h-0.75zM160.2 359.7h0.75v0.75h-0.75zM165.1 367.6h0.75v0.75h-0.75zM164.7 359.7h0.75v0.75h-0.75zM162.9 357.3h0.75v0.75h-0.75zM164.3 357.0h0.75v0.75h-0.75zM162.8 351.7h0.75v0.75h-0.75zM160.3 366.6h0.75v0.75h-0.75zM162.7 360.5h0.75v0.75h-0.75zM159.2 359.6h0.75v0.75h-0.75zM165.8 353.9h0.75v0.75h-0.75z" fill="#3a50f0" fill-opacity="0.55"/>
<path d="M156.1 345.9h0.75v0.75h-0.75zM160.8 345.7h0.75v0.75h-0.75zM158.9 340.1h0.75v0.75h-0.75zM159.0 349.8h0.75v0.75h-0.75zM162.0 350.7h0.75v0.75h-0.75zM159.4 349.6h0.75v0.75h-0.75zM161.0 347.1h0.75v0.75h-0.75zM164.5 346.9h0.75v0.75h-0.75z" fill="#4a5ef0" fill-opacity="0.5"/>
<text x="191.80" y="323.83" font-size="7.9" text-anchor="end" font-weight="normal" fill="#111" stroke="#111" stroke-width="0.25" >0.92</text>
<text x="191.80" y="381.83" font-size="7.9" text-anchor="end" font-weight="normal" fill="#111" stroke="#111" stroke-width="0.25" >99.1</text>
<line x1="92.40" y1="378.40" x2="128.00" y2="378.40" stroke="#333" stroke-width="1" />
<path d="M131.00,378.40 L126.00,376.30 L127.40,378.40 L126.00,380.50 Z" fill="#222"/>
<rect x="235.50" y="311.30" width="76.40" height="75.80" fill="white" stroke="#8c8c8c" stroke-width="0.9"/>
<line x1="231.90" y1="317.90" x2="233.90" y2="316.10" stroke="#666" stroke-width="0.7" />
<line x1="237.40" y1="391.40" x2="239.20" y2="389.60" stroke="#666" stroke-width="0.7" />
<line x1="231.90" y1="331.80" x2="233.90" y2="330.00" stroke="#666" stroke-width="0.7" />
<line x1="251.30" y1="391.40" x2="253.10" y2="389.60" stroke="#666" stroke-width="0.7" />
<line x1="231.90" y1="345.70" x2="233.90" y2="343.90" stroke="#666" stroke-width="0.7" />
<line x1="265.20" y1="391.40" x2="267.00" y2="389.60" stroke="#666" stroke-width="0.7" />
<line x1="231.90" y1="359.60" x2="233.90" y2="357.80" stroke="#666" stroke-width="0.7" />
<line x1="279.10" y1="391.40" x2="280.90" y2="389.60" stroke="#666" stroke-width="0.7" />
<line x1="231.90" y1="373.50" x2="233.90" y2="371.70" stroke="#666" stroke-width="0.7" />
<line x1="293.00" y1="391.40" x2="294.80" y2="389.60" stroke="#666" stroke-width="0.7" />
<line x1="231.90" y1="387.40" x2="233.90" y2="385.60" stroke="#666" stroke-width="0.7" />
<line x1="306.90" y1="391.40" x2="308.70" y2="389.60" stroke="#666" stroke-width="0.7" />
<path d="M252.4 355.9h0.75v0.75h-0.75zM256.1 372.7h0.75v0.75h-0.75zM249.9 366.8h0.75v0.75h-0.75zM239.9 358.2h0.75v0.75h-0.75zM259.0 376.2h0.75v0.75h-0.75zM252.8 355.9h0.75v0.75h-0.75zM252.2 356.6h0.75v0.75h-0.75zM253.1 380.5h0.75v0.75h-0.75zM258.1 366.3h0.75v0.75h-0.75zM264.6 364.7h0.75v0.75h-0.75zM258.4 368.7h0.75v0.75h-0.75zM259.4 357.2h0.75v0.75h-0.75zM261.8 373.4h0.75v0.75h-0.75zM247.6 377.5h0.75v0.75h-0.75zM255.7 372.0h0.75v0.75h-0.75zM260.4 373.4h0.75v0.75h-0.75zM249.9 363.3h0.75v0.75h-0.75zM258.8 371.5h0.75v0.75h-0.75zM260.6 369.6h0.75v0.75h-0.75zM251.2 374.9h0.75v0.75h-0.75zM259.7 374.6h0.75v0.75h-0.75zM249.6 368.1h0.75v0.75h-0.75zM251.3 365.2h0.75v0.75h-0.75zM257.2 369.7h0.75v0.75h-0.75zM248.4 349.9h0.75v0.75h-0.75zM248.6 371.0h0.75v0.75h-0.75zM248.0 370.3h0.75v0.75h-0.75zM252.2 360.8h0.75v0.75h-0.75zM265.9 378.7h0.75v0.75h-0.75zM254.6 367.0h0.75v0.75h-0.75zM264.0 358.1h0.75v0.75h-0.75zM247.8 375.1h0.75v0.75h-0.75zM263.5 363.9h0.75v0.75h-0.75zM248.6 369.7h0.75v0.75h-0.75zM243.0 363.9h0.75v0.75h-0.75zM253.4 350.3h0.75v0.75h-0.75zM260.8 372.6h0.75v0.75h-0.75zM265.0 357.4h0.75v0.75h-0.75zM244.1 361.7h0.75v0.75h-0.75zM243.9 381.5h0.75v0.75h-0.75zM246.8 365.1h0.75v0.75h-0.75zM257.3 370.5h0.75v0.75h-0.75zM268.4 359.8h0.75v0.75h-0.75zM263.3 368.3h0.75v0.75h-0.75zM245.1 368.3h0.75v0.75h-0.75zM243.0 378.5h0.75v0.75h-0.75zM249.0 374.3h0.75v0.75h-0.75zM267.1 363.0h0.75v0.75h-0.75zM247.5 368.2h0.75v0.75h-0.75zM246.1 373.5h0.75v0.75h-0.75zM257.1 362.0h0.75v0.75h-0.75zM249.4 372.3h0.75v0.75h-0.75zM242.5 379.0h0.75v0.75h-0.75zM248.5 365.9h0.75v0.75h-0.75zM247.2 378.6h0.75v0.75h-0.75zM262.9 376.4h0.75v0.75h-0.75zM261.3 367.9h0.75v0.75h-0.75zM270.7 371.9h0.75v0.75h-0.75zM259.4 371.3h0.75v0.75h-0.75zM262.1 369.2h0.75v0.75h-0.75zM254.0 356.2h0.75v0.75h-0.75zM273.9 358.2h0.75v0.75h-0.75zM236.2 362.3h0.75v0.75h-0.75zM272.8 375.8h0.75v0.75h-0.75zM250.1 369.1h0.75v0.75h-0.75zM255.3 353.5h0.75v0.75h-0.75zM252.5 369.3h0.75v0.75h-0.75zM266.0 358.9h0.75v0.75h-0.75zM258.5 367.9h0.75v0.75h-0.75zM256.8 368.3h0.75v0.75h-0.75zM252.2 357.8h0.75v0.75h-0.75zM259.6 370.0h0.75v0.75h-0.75zM260.7 376.0h0.75v0.75h-0.75zM244.4 351.0h0.75v0.75h-0.75zM239.5 382.2h0.75v0.75h-0.75zM247.3 370.1h0.75v0.75h-0.75zM255.4 372.4h0.75v0.75h-0.75zM284.4 363.7h0.75v0.75h-0.75zM254.0 363.1h0.75v0.75h-0.75zM257.7 370.9h0.75v0.75h-0.75zM246.8 376.5h0.75v0.75h-0.75zM265.8 370.4h0.75v0.75h-0.75zM254.5 365.6h0.75v0.75h-0.75zM240.7 371.9h0.75v0.75h-0.75zM246.7 363.8h0.75v0.75h-0.75zM264.5 360.9h0.75v0.75h-0.75z" fill="#5a6cf0" fill-opacity="0.4"/>
<path d="M253.9 370.6h0.75v0.75h-0.75zM265.8 362.8h0.75v0.75h-0.75zM262.0 363.0h0.75v0.75h-0.75zM258.4 368.7h0.75v0.75h-0.75zM250.8 371.4h0.75v0.75h-0.75zM265.5 366.6h0.75v0.75h-0.75zM257.8 360.4h0.75v0.75h-0.75zM265.4 366.6h0.75v0.75h-0.75zM250.1 370.1h0.75v0.75h-0.75zM249.2 362.9h0.75v0.75h-0.75zM245.8 373.2h0.75v0.75h-0.75zM267.6 363.1h0.75v0.75h-0.75zM253.2 363.4h0.75v0.75h-0.75zM253.7 369.1h0.75v0.75h-0.75zM263.8 361.3h0.75v0.75h-0.75zM258.7 357.3h0.75v0.75h-0.75zM264.1 365.9h0.75v0.75h-0.75zM253.0 374.0h0.75v0.75h-0.75zM256.0 373.1h0.75v0.75h-0.75zM261.9 374.6h0.75v0.75h-0.75zM252.5 366.6h0.75v0.75h-0.75zM258.3 365.3h0.75v0.75h-0.75zM264.1 362.7h0.75v0.75h-0.75zM261.5 373.1h0.75v0.75h-0.75zM246.7 361.5h0.75v0.75h-0.75zM252.0 363.6h0.75v0.75h-0.75zM258.5 365.4h0.75v0.75h-0.75zM256.9 364.0h0.75v0.75h-0.75zM256.1 368.7h0.75v0.75h-0.75zM260.2 362.4h0.75v0.75h-0.75zM255.9 362.5h0.75v0.75h-0.75zM255.6 359.1h0.75v0.75h-0.75zM261.3 369.7h0.75v0.75h-0.75zM255.9 362.9h0.75v0.75h-0.75zM254.2 363.0h0.75v0.75h-0.75zM248.8 374.5h0.75v0.75h-0.75zM272.9 360.2h0.75v0.75h-0.75zM250.7 369.2h0.75v0.75h-0.75zM259.5 358.4h0.75v0.75h-0.75zM246.9 369.0h0.75v0.75h-0.75zM246.5 373.4h0.75v0.75h-0.75zM254.0 366.7h0.75v0.75h-0.75zM256.5 363.5h0.75v0.75h-0.75zM255.8 364.8h0.75v0.75h-0.75zM262.7 365.8h0.75v0.75h-0.75zM256.3 363.7h0.75v0.75h-0.75zM253.3 362.6h0.75v0.75h-0.75zM256.6 375.5h0.75v0.75h-0.75zM262.1 367.5h0.75v0.75h-0.75zM264.8 371.4h0.75v0.75h-0.75zM257.5 365.5h0.75v0.75h-0.75zM251.0 367.5h0.75v0.75h-0.75zM254.9 358.4h0.75v0.75h-0.75zM250.1 376.0h0.75v0.75h-0.75zM257.6 368.8h0.75v0.75h-0.75zM257.5 364.0h0.75v0.75h-0.75zM258.8 371.7h0.75v0.75h-0.75zM255.0 368.9h0.75v0.75h-0.75zM261.6 363.9h0.75v0.75h-0.75zM257.3 362.6h0.75v0.75h-0.75zM259.5 364.5h0.75v0.75h-0.75zM262.2 362.5h0.75v0.75h-0.75zM264.9 364.7h0.75v0.75h-0.75zM252.3 361.8h0.75v0.75h-0.75zM259.8 362.0h0.75v0.75h-0.75zM265.5 372.7h0.75v0.75h-0.75zM259.1 359.2h0.75v0.75h-0.75zM256.4 362.7h0.75v0.75h-0.75zM247.4 368.4h0.75v0.75h-0.75zM267.5 363.6h0.75v0.75h-0.75zM260.5 372.7h0.75v0.75h-0.75zM251.7 364.6h0.75v0.75h-0.75zM257.8 368.7h0.75v0.75h-0.75zM250.8 367.4h0.75v0.75h-0.75zM256.0 371.1h0.75v0.75h-0.75zM248.5 363.5h0.75v0.75h-0.75zM254.0 364.7h0.75v0.75h-0.75zM260.1 363.2h0.75v0.75h-0.75zM270.2 362.8h0.75v0.75h-0.75zM260.7 371.4h0.75v0.75h-0.75zM261.3 365.3h0.75v0.75h-0.75zM252.4 365.0h0.75v0.75h-0.75zM259.8 366.9h0.75v0.75h-0.75zM259.4 369.2h0.75v0.75h-0.75zM252.1 361.6h0.75v0.75h-0.75zM263.7 363.9h0.75v0.75h-0.75zM248.6 375.6h0.75v0.75h-0.75zM252.3 361.6h0.75v0.75h-0.75zM261.3 360.6h0.75v0.75h-0.75zM252.1 371.5h0.75v0.75h-0.75zM252.4 378.8h0.75v0.75h-0.75zM257.0 379.7h0.75v0.75h-0.75zM257.1 366.6h0.75v0.75h-0.75zM253.3 365.2h0.75v0.75h-0.75zM254.0 366.2h0.75v0.75h-0.75zM260.4 359.9h0.75v0.75h-0.75zM251.9 355.8h0.75v0.75h-0.75zM264.0 365.9h0.75v0.75h-0.75zM256.4 366.0h0.75v0.75h-0.75zM261.5 367.9h0.75v0.75h-0.75zM260.8 365.5h0.75v0.75h-0.75zM255.9 366.0h0.75v0.75h-0.75zM247.2 371.7h0.75v0.75h-0.75zM248.6 361.3h0.75v0.75h-0.75zM259.9 366.6h0.75v0.75h-0.75zM260.6 374.8h0.75v0.75h-0.75zM265.8 373.2h0.75v0.75h-0.75zM255.4 376.5h0.75v0.75h-0.75zM252.1 365.9h0.75v0.75h-0.75zM261.5 365.2h0.75v0.75h-0.75zM255.9 364.5h0.75v0.75h-0.75zM263.3 354.0h0.75v0.75h-0.75zM262.9 371.6h0.75v0.75h-0.75zM256.1 369.1h0.75v0.75h-0.75zM251.7 371.8h0.75v0.75h-0.75zM271.8 361.7h0.75v0.75h-0.75zM263.5 366.0h0.75v0.75h-0.75zM254.8 363.9h0.75v0.75h-0.75zM255.6 360.0h0.75v0.75h-0.75zM249.7 374.6h0.75v0.75h-0.75zM256.4 369.1h0.75v0.75h-0.75zM258.1 368.7h0.75v0.75h-0.75zM248.9 361.6h0.75v0.75h-0.75zM259.7 371.3h0.75v0.75h-0.75zM250.8 363.4h0.75v0.75h-0.75zM251.2 369.6h0.75v0.75h-0.75zM258.2 366.5h0.75v0.75h-0.75zM253.3 368.0h0.75v0.75h-0.75zM256.7 362.6h0.75v0.75h-0.75zM258.2 363.0h0.75v0.75h-0.75zM261.3 369.4h0.75v0.75h-0.75zM253.1 369.2h0.75v0.75h-0.75zM256.8 362.8h0.75v0.75h-0.75zM251.9 358.0h0.75v0.75h-0.75zM250.8 368.0h0.75v0.75h-0.75zM262.5 363.2h0.75v0.75h-0.75zM257.3 368.0h0.75v0.75h-0.75zM260.4 368.5h0.75v0.75h-0.75zM262.6 370.1h0.75v0.75h-0.75zM252.7 368.3h0.75v0.75h-0.75zM244.8 365.4h0.75v0.75h-0.75zM256.6 369.2h0.75v0.75h-0.75zM255.0 370.5h0.75v0.75h-0.75zM263.1 362.1h0.75v0.75h-0.75zM253.8 367.6h0.75v0.75h-0.75zM259.0 367.0h0.75v0.75h-0.75zM260.7 360.4h0.75v0.75h-0.75zM260.4 372.1h0.75v0.75h-0.75zM262.1 368.4h0.75v0.75h-0.75zM255.3 368.3h0.75v0.75h-0.75zM256.1 358.4h0.75v0.75h-0.75zM253.5 366.1h0.75v0.75h-0.75zM253.9 361.6h0.75v0.75h-0.75zM255.3 364.4h0.75v0.75h-0.75zM256.8 366.1h0.75v0.75h-0.75zM257.4 371.3h0.75v0.75h-0.75zM257.2 368.3h0.75v0.75h-0.75zM250.4 351.6h0.75v0.75h-0.75zM254.5 369.7h0.75v0.75h-0.75zM254.8 363.2h0.75v0.75h-0.75zM250.3 370.8h0.75v0.75h-0.75zM253.9 367.5h0.75v0.75h-0.75zM262.2 369.0h0.75v0.75h-0.75zM267.7 365.6h0.75v0.75h-0.75zM261.3 369.8h0.75v0.75h-0.75zM253.2 366.5h0.75v0.75h-0.75zM253.7 361.2h0.75v0.75h-0.75zM258.0 362.4h0.75v0.75h-0.75zM264.9 362.6h0.75v0.75h-0.75zM253.8 366.8h0.75v0.75h-0.75zM253.9 366.6h0.75v0.75h-0.75zM253.5 359.2h0.75v0.75h-0.75zM244.4 359.9h0.75v0.75h-0.75zM264.1 368.5h0.75v0.75h-0.75zM257.3 364.0h0.75v0.75h-0.75zM255.8 367.8h0.75v0.75h-0.75zM249.6 362.3h0.75v0.75h-0.75zM252.0 372.6h0.75v0.75h-0.75zM251.2 372.2h0.75v0.75h-0.75zM254.2 379.9h0.75v0.75h-0.75zM256.1 366.5h0.75v0.75h-0.75zM263.3 370.7h0.75v0.75h-0.75zM261.2 361.0h0.75v0.75h-0.75zM262.2 374.7h0.75v0.75h-0.75zM256.0 363.9h0.75v0.75h-0.75zM251.0 371.4h0.75v0.75h-0.75zM258.0 366.3h0.75v0.75h-0.75zM250.3 374.4h0.75v0.75h-0.75zM260.9 366.2h0.75v0.75h-0.75zM263.9 361.5h0.75v0.75h-0.75zM260.9 361.3h0.75v0.75h-0.75zM263.6 364.9h0.75v0.75h-0.75zM262.6 364.2h0.75v0.75h-0.75zM258.5 372.0h0.75v0.75h-0.75zM252.0 366.8h0.75v0.75h-0.75zM252.3 370.6h0.75v0.75h-0.75zM253.5 364.4h0.75v0.75h-0.75zM255.5 372.1h0.75v0.75h-0.75zM251.3 366.2h0.75v0.75h-0.75zM254.9 363.6h0.75v0.75h-0.75zM252.6 365.5h0.75v0.75h-0.75zM257.5 358.6h0.75v0.75h-0.75zM257.7 360.4h0.75v0.75h-0.75zM256.6 377.7h0.75v0.75h-0.75zM251.7 366.0h0.75v0.75h-0.75zM255.2 371.2h0.75v0.75h-0.75zM254.1 357.4h0.75v0.75h-0.75zM248.4 367.2h0.75v0.75h-0.75zM257.8 371.6h0.75v0.75h-0.75zM253.8 369.6h0.75v0.75h-0.75zM251.2 372.8h0.75v0.75h-0.75zM256.1 362.9h0.75v0.75h-0.75zM257.4 375.0h0.75v0.75h-0.75zM252.3 360.1h0.75v0.75h-0.75zM251.4 360.5h0.75v0.75h-0.75zM256.2 368.1h0.75v0.75h-0.75zM255.7 367.3h0.75v0.75h-0.75zM262.4 364.9h0.75v0.75h-0.75zM250.2 354.9h0.75v0.75h-0.75zM257.7 362.9h0.75v0.75h-0.75zM255.3 368.3h0.75v0.75h-0.75zM258.8 358.5h0.75v0.75h-0.75zM251.7 366.7h0.75v0.75h-0.75zM255.8 372.0h0.75v0.75h-0.75zM254.0 356.0h0.75v0.75h-0.75zM262.4 358.1h0.75v0.75h-0.75zM251.6 368.2h0.75v0.75h-0.75zM251.2 378.7h0.75v0.75h-0.75zM257.7 369.0h0.75v0.75h-0.75zM254.3 377.4h0.75v0.75h-0.75zM259.2 362.7h0.75v0.75h-0.75zM262.8 357.9h0.75v0.75h-0.75zM253.6 367.7h0.75v0.75h-0.75zM257.2 361.5h0.75v0.75h-0.75zM264.4 373.7h0.75v0.75h-0.75zM251.8 368.2h0.75v0.75h-0.75zM253.3 364.1h0.75v0.75h-0.75zM261.4 366.9h0.75v0.75h-0.75zM256.0 366.8h0.75v0.75h-0.75zM250.6 372.4h0.75v0.75h-0.75zM252.7 372.8h0.75v0.75h-0.75zM254.2 364.0h0.75v0.75h-0.75zM263.9 367.3h0.75v0.75h-0.75zM253.3 363.6h0.75v0.75h-0.75zM259.5 375.7h0.75v0.75h-0.75zM259.6 364.3h0.75v0.75h-0.75zM250.9 362.9h0.75v0.75h-0.75zM255.9 367.5h0.75v0.75h-0.75zM253.2 372.7h0.75v0.75h-0.75zM251.7 362.7h0.75v0.75h-0.75zM259.0 368.7h0.75v0.75h-0.75zM254.5 371.1h0.75v0.75h-0.75zM249.5 374.5h0.75v0.75h-0.75zM267.4 376.1h0.75v0.75h-0.75zM257.1 376.1h0.75v0.75h-0.75zM256.8 372.9h0.75v0.75h-0.75zM255.5 367.3h0.75v0.75h-0.75zM259.1 357.6h0.75v0.75h-0.75zM255.5 374.9h0.75v0.75h-0.75zM241.9 368.2h0.75v0.75h-0.75z" fill="#3c55ee" fill-opacity="0.45"/>
<path d="M274.1 344.1h0.75v0.75h-0.75zM272.4 351.0h0.75v0.75h-0.75zM266.3 345.0h0.75v0.75h-0.75zM262.9 356.7h0.75v0.75h-0.75zM268.3 348.6h0.75v0.75h-0.75zM271.4 353.6h0.75v0.75h-0.75zM255.4 373.4h0.75v0.75h-0.75zM274.7 344.4h0.75v0.75h-0.75zM268.7 350.3h0.75v0.75h-0.75zM270.9 348.0h0.75v0.75h-0.75zM266.3 356.8h0.75v0.75h-0.75zM264.0 356.2h0.75v0.75h-0.75zM264.2 351.1h0.75v0.75h-0.75zM271.6 345.8h0.75v0.75h-0.75zM262.2 358.6h0.75v0.75h-0.75zM264.2 362.5h0.75v0.75h-0.75zM275.4 349.6h0.75v0.75h-0.75zM267.0 355.5h0.75v0.75h-0.75zM261.6 356.0h0.75v0.75h-0.75zM268.9 351.6h0.75v0.75h-0.75zM272.8 343.2h0.75v0.75h-0.75zM276.4 343.8h0.75v0.75h-0.75zM263.5 356.4h0.75v0.75h-0.75zM267.2 359.5h0.75v0.75h-0.75zM267.4 355.6h0.75v0.75h-0.75zM272.8 343.3h0.75v0.75h-0.75zM266.6 354.4h0.75v0.75h-0.75zM261.8 354.0h0.75v0.75h-0.75zM264.1 357.8h0.75v0.75h-0.75zM273.2 351.6h0.75v0.75h-0.75zM259.9 364.3h0.75v0.75h-0.75zM264.8 360.4h0.75v0.75h-0.75zM272.4 345.5h0.75v0.75h-0.75zM275.5 339.1h0.75v0.75h-0.75zM263.5 352.5h0.75v0.75h-0.75zM265.3 355.2h0.75v0.75h-0.75zM274.7 347.4h0.75v0.75h-0.75zM265.6 351.1h0.75v0.75h-0.75zM265.8 352.1h0.75v0.75h-0.75zM265.2 353.1h0.75v0.75h-0.75zM263.8 356.5h0.75v0.75h-0.75zM265.4 353.7h0.75v0.75h-0.75zM261.5 360.5h0.75v0.75h-0.75zM272.9 347.1h0.75v0.75h-0.75zM263.2 352.5h0.75v0.75h-0.75zM259.2 357.9h0.75v0.75h-0.75zM264.5 354.5h0.75v0.75h-0.75zM260.5 364.1h0.75v0.75h-0.75zM259.0 360.4h0.75v0.75h-0.75zM266.4 356.8h0.75v0.75h-0.75zM277.5 336.5h0.75v0.75h-0.75zM266.2 351.7h0.75v0.75h-0.75zM267.1 351.5h0.75v0.75h-0.75zM279.2 330.9h0.75v0.75h-0.75zM266.3 349.9h0.75v0.75h-0.75z" fill="#5a6cf0" fill-opacity="0.4"/>
<path d="M280.6 333.7h0.75v0.75h-0.75zM280.7 332.3h0.75v0.75h-0.75zM286.8 332.1h0.75v0.75h-0.75zM275.2 339.6h0.75v0.75h-0.75zM277.4 334.0h0.75v0.75h-0.75zM280.9 333.6h0.75v0.75h-0.75zM281.8 333.0h0.75v0.75h-0.75zM283.0 334.0h0.75v0.75h-0.75zM281.3 335.0h0.75v0.75h-0.75zM278.5 335.3h0.75v0.75h-0.75zM282.1 335.8h0.75v0.75h-0.75zM281.0 340.1h0.75v0.75h-0.75zM284.1 330.3h0.75v0.75h-0.75zM283.3 333.3h0.75v0.75h-0.75zM279.9 333.5h0.75v0.75h-0.75zM284.3 331.0h0.75v0.75h-0.75zM279.0 334.1h0.75v0.75h-0.75zM287.3 334.3h0.75v0.75h-0.75zM275.4 336.7h0.75v0.75h-0.75zM280.7 333.9h0.75v0.75h-0.75zM277.8 333.9h0.75v0.75h-0.75zM279.7 332.9h0.75v0.75h-0.75zM285.0 338.2h0.75v0.75h-0.75zM280.6 338.8h0.75v0.75h-0.75zM280.5 333.5h0.75v0.75h-0.75zM278.0 334.1h0.75v0.75h-0.75zM281.1 336.4h0.75v0.75h-0.75zM282.6 333.2h0.75v0.75h-0.75zM276.2 337.2h0.75v0.75h-0.75zM285.5 333.0h0.75v0.75h-0.75zM277.7 331.6h0.75v0.75h-0.75zM279.2 337.0h0.75v0.75h-0.75zM278.4 339.4h0.75v0.75h-0.75zM277.4 334.7h0.75v0.75h-0.75zM278.1 336.1h0.75v0.75h-0.75z" fill="#3a6af0" fill-opacity="0.45"/>
<path d="M280.0 362.9h0.75v0.75h-0.75zM271.7 366.7h0.75v0.75h-0.75zM278.5 379.4h0.75v0.75h-0.75zM273.7 379.0h0.75v0.75h-0.75zM279.0 370.9h0.75v0.75h-0.75zM274.7 360.4h0.75v0.75h-0.75zM274.2 374.6h0.75v0.75h-0.75zM277.6 375.7h0.75v0.75h-0.75zM282.4 367.5h0.75v0.75h-0.75zM276.9 382.4h0.75v0.75h-0.75zM273.1 363.8h0.75v0.75h-0.75zM275.9 364.4h0.75v0.75h-0.75zM277.4 360.7h0.75v0.75h-0.75zM280.4 356.6h0.75v0.75h-0.75zM274.6 354.1h0.75v0.75h-0.75zM272.9 371.9h0.75v0.75h-0.75zM278.9 365.8h0.75v0.75h-0.75zM279.5 372.2h0.75v0.75h-0.75zM275.3 367.0h0.75v0.75h-0.75zM278.1 383.1h0.75v0.75h-0.75zM275.7 370.2h0.75v0.75h-0.75zM278.6 376.9h0.75v0.75h-0.75zM278.3 375.7h0.75v0.75h-0.75zM273.9 365.3h0.75v0.75h-0.75zM271.3 366.9h0.75v0.75h-0.75zM283.9 369.2h0.75v0.75h-0.75zM277.3 369.4h0.75v0.75h-0.75zM277.4 357.0h0.75v0.75h-0.75zM275.0 366.0h0.75v0.75h-0.75zM277.5 360.6h0.75v0.75h-0.75zM276.7 361.6h0.75v0.75h-0.75zM273.1 362.2h0.75v0.75h-0.75zM274.6 373.9h0.75v0.75h-0.75zM281.0 371.9h0.75v0.75h-0.75zM276.4 363.0h0.75v0.75h-0.75zM272.4 363.2h0.75v0.75h-0.75zM281.6 376.4h0.75v0.75h-0.75zM277.7 365.4h0.75v0.75h-0.75zM277.0 370.7h0.75v0.75h-0.75zM277.0 370.7h0.75v0.75h-0.75zM274.7 367.7h0.75v0.75h-0.75zM276.0 375.8h0.75v0.75h-0.75zM273.3 377.5h0.75v0.75h-0.75zM276.7 363.4h0.75v0.75h-0.75zM277.1 368.3h0.75v0.75h-0.75zM276.3 370.7h0.75v0.75h-0.75zM275.3 354.1h0.75v0.75h-0.75zM279.1 367.2h0.75v0.75h-0.75zM281.9 370.4h0.75v0.75h-0.75zM271.1 377.0h0.75v0.75h-0.75zM275.0 371.6h0.75v0.75h-0.75zM283.5 375.9h0.75v0.75h-0.75zM273.8 366.6h0.75v0.75h-0.75zM272.3 372.6h0.75v0.75h-0.75zM278.7 359.4h0.75v0.75h-0.75zM278.3 374.7h0.75v0.75h-0.75zM279.4 362.1h0.75v0.75h-0.75zM275.0 358.6h0.75v0.75h-0.75zM273.2 369.8h0.75v0.75h-0.75zM277.1 377.5h0.75v0.75h-0.75zM277.8 364.8h0.75v0.75h-0.75zM272.8 379.4h0.75v0.75h-0.75zM277.5 367.1h0.75v0.75h-0.75zM274.0 359.2h0.75v0.75h-0.75zM278.9 359.8h0.75v0.75h-0.75zM278.7 372.3h0.75v0.75h-0.75zM275.9 354.7h0.75v0.75h-0.75zM278.2 378.3h0.75v0.75h-0.75zM274.6 357.5h0.75v0.75h-0.75zM280.2 368.5h0.75v0.75h-0.75zM275.2 376.9h0.75v0.75h-0.75zM276.2 370.9h0.75v0.75h-0.75zM275.8 361.5h0.75v0.75h-0.75zM277.6 360.7h0.75v0.75h-0.75zM271.8 363.2h0.75v0.75h-0.75zM280.6 375.9h0.75v0.75h-0.75zM283.4 375.1h0.75v0.75h-0.75zM281.8 369.3h0.75v0.75h-0.75zM275.7 371.0h0.75v0.75h-0.75zM274.2 373.1h0.75v0.75h-0.75z" fill="#4a62ee" fill-opacity="0.45"/>
<ellipse cx="280.4" cy="335.0" rx="5.2" ry="2.7" transform="rotate(-32 280.4 335.0)" fill="#3f62f0" fill-opacity="0.55"/>
<ellipse cx="280.7" cy="334.8" rx="3.7" ry="1.7" transform="rotate(-32 280.4 335.0)" fill="#34b848" fill-opacity="0.9"/>
<ellipse cx="280.9" cy="334.7" rx="1.3" ry="0.8" transform="rotate(-32 280.4 335.0)" fill="#9ad820"/>
<rect x="270.30" y="355.00" width="17.40" height="32.10" fill="none" stroke="#e8383a" stroke-width="1.1"/>
<text x="289.10" y="359.36" font-size="6.3" text-anchor="start" font-weight="bold" fill="#111" stroke="#111" stroke-width="0.1" >CD8 T</text>
<text x="289.10" y="366.56" font-size="6.3" text-anchor="start" font-weight="bold" fill="#111" stroke="#111" stroke-width="0.1" >15.2%</text>
<rect x="315.20" y="311.30" width="77.40" height="75.90" fill="white" stroke="#707070" stroke-width="0.9"/>
<line x1="317.10" y1="391.50" x2="318.90" y2="389.70" stroke="#666" stroke-width="0.7" />
<line x1="331.00" y1="391.50" x2="332.80" y2="389.70" stroke="#666" stroke-width="0.7" />
<line x1="344.90" y1="391.50" x2="346.70" y2="389.70" stroke="#666" stroke-width="0.7" />
<line x1="358.80" y1="391.50" x2="360.60" y2="389.70" stroke="#666" stroke-width="0.7" />
<line x1="372.70" y1="391.50" x2="374.50" y2="389.70" stroke="#666" stroke-width="0.7" />
<line x1="386.60" y1="391.50" x2="388.40" y2="389.70" stroke="#666" stroke-width="0.7" />
<line x1="332.30" y1="311.30" x2="332.30" y2="387.20" stroke="#333" stroke-width="1" />
<line x1="315.20" y1="353.40" x2="392.60" y2="353.40" stroke="#555" stroke-width="1" />
<path d="M354.0 366.0h0.75v0.75h-0.75zM352.9 362.2h0.75v0.75h-0.75zM357.9 361.4h0.75v0.75h-0.75zM353.3 366.2h0.75v0.75h-0.75zM357.6 361.7h0.75v0.75h-0.75zM352.0 348.4h0.75v0.75h-0.75zM351.5 373.8h0.75v0.75h-0.75zM355.0 368.1h0.75v0.75h-0.75zM358.2 366.3h0.75v0.75h-0.75zM356.5 358.6h0.75v0.75h-0.75zM350.8 369.6h0.75v0.75h-0.75zM354.9 369.1h0.75v0.75h-0.75zM352.3 362.1h0.75v0.75h-0.75zM360.7 355.4h0.75v0.75h-0.75zM355.5 376.2h0.75v0.75h-0.75zM354.6 364.7h0.75v0.75h-0.75zM349.4 371.0h0.75v0.75h-0.75zM354.0 376.0h0.75v0.75h-0.75zM355.0 359.9h0.75v0.75h-0.75zM356.4 361.2h0.75v0.75h-0.75zM353.8 378.4h0.75v0.75h-0.75zM357.9 364.6h0.75v0.75h-0.75zM357.4 371.5h0.75v0.75h-0.75zM356.8 364.0h0.75v0.75h-0.75zM355.4 367.5h0.75v0.75h-0.75zM356.8 366.9h0.75v0.75h-0.75zM353.7 362.8h0.75v0.75h-0.75zM356.5 354.0h0.75v0.75h-0.75zM355.2 370.8h0.75v0.75h-0.75zM355.7 360.8h0.75v0.75h-0.75zM355.1 358.9h0.75v0.75h-0.75zM357.9 359.9h0.75v0.75h-0.75zM350.6 351.9h0.75v0.75h-0.75zM356.0 365.5h0.75v0.75h-0.75zM353.9 350.9h0.75v0.75h-0.75zM354.8 355.5h0.75v0.75h-0.75zM353.4 363.5h0.75v0.75h-0.75zM353.1 366.5h0.75v0.75h-0.75zM353.2 359.1h0.75v0.75h-0.75zM354.6 377.6h0.75v0.75h-0.75zM359.5 372.6h0.75v0.75h-0.75zM353.2 363.6h0.75v0.75h-0.75zM357.7 371.3h0.75v0.75h-0.75zM350.7 363.0h0.75v0.75h-0.75zM353.2 370.7h0.75v0.75h-0.75zM356.9 358.4h0.75v0.75h-0.75zM361.1 360.9h0.75v0.75h-0.75zM361.9 361.9h0.75v0.75h-0.75zM355.0 381.7h0.75v0.75h-0.75zM353.8 359.0h0.75v0.75h-0.75zM359.2 363.2h0.75v0.75h-0.75zM356.5 351.5h0.75v0.75h-0.75zM360.1 373.0h0.75v0.75h-0.75zM356.2 370.3h0.75v0.75h-0.75zM353.8 359.0h0.75v0.75h-0.75zM350.9 367.1h0.75v0.75h-0.75zM358.6 371.7h0.75v0.75h-0.75zM357.7 370.3h0.75v0.75h-0.75zM352.7 351.1h0.75v0.75h-0.75zM357.0 365.1h0.75v0.75h-0.75zM357.9 360.9h0.75v0.75h-0.75zM352.8 367.8h0.75v0.75h-0.75zM353.7 347.9h0.75v0.75h-0.75zM353.5 355.2h0.75v0.75h-0.75zM352.1 358.3h0.75v0.75h-0.75zM357.8 386.0h0.75v0.75h-0.75zM359.9 359.6h0.75v0.75h-0.75zM358.3 362.9h0.75v0.75h-0.75zM356.3 357.1h0.75v0.75h-0.75zM355.0 347.6h0.75v0.75h-0.75zM360.1 356.3h0.75v0.75h-0.75zM356.8 358.0h0.75v0.75h-0.75zM355.9 352.4h0.75v0.75h-0.75zM354.2 372.3h0.75v0.75h-0.75zM356.8 345.1h0.75v0.75h-0.75zM357.5 351.1h0.75v0.75h-0.75zM356.0 368.5h0.75v0.75h-0.75zM353.4 360.5h0.75v0.75h-0.75zM354.5 367.4h0.75v0.75h-0.75zM357.7 376.5h0.75v0.75h-0.75zM356.1 382.5h0.75v0.75h-0.75zM352.6 380.5h0.75v0.75h-0.75zM354.5 370.9h0.75v0.75h-0.75zM354.9 364.4h0.75v0.75h-0.75zM352.7 367.3h0.75v0.75h-0.75zM360.8 365.0h0.75v0.75h-0.75zM355.1 363.6h0.75v0.75h-0.75zM357.2 361.6h0.75v0.75h-0.75zM355.2 365.6h0.75v0.75h-0.75zM358.8 372.6h0.75v0.75h-0.75zM352.3 357.6h0.75v0.75h-0.75zM355.3 371.6h0.75v0.75h-0.75zM357.9 361.6h0.75v0.75h-0.75zM361.0 362.0h0.75v0.75h-0.75zM359.1 377.1h0.75v0.75h-0.75zM359.6 365.5h0.75v0.75h-0.75zM356.8 349.0h0.75v0.75h-0.75zM350.3 357.8h0.75v0.75h-0.75zM357.2 373.7h0.75v0.75h-0.75zM354.9 373.4h0.75v0.75h-0.75zM356.8 378.0h0.75v0.75h-0.75zM350.8 355.7h0.75v0.75h-0.75zM352.6 353.6h0.75v0.75h-0.75zM359.7 354.8h0.75v0.75h-0.75zM352.9 359.8h0.75v0.75h-0.75zM357.6 359.2h0.75v0.75h-0.75zM357.2 368.8h0.75v0.75h-0.75zM353.4 341.1h0.75v0.75h-0.75zM352.7 351.7h0.75v0.75h-0.75zM359.7 356.7h0.75v0.75h-0.75zM352.3 367.1h0.75v0.75h-0.75zM355.3 354.7h0.75v0.75h-0.75zM358.2 372.2h0.75v0.75h-0.75zM356.0 356.4h0.75v0.75h-0.75zM352.8 344.1h0.75v0.75h-0.75zM356.3 367.3h0.75v0.75h-0.75zM352.7 363.8h0.75v0.75h-0.75zM364.2 352.8h0.75v0.75h-0.75zM350.5 369.3h0.75v0.75h-0.75zM354.0 358.9h0.75v0.75h-0.75zM356.9 362.3h0.75v0.75h-0.75zM357.9 368.4h0.75v0.75h-0.75zM358.4 364.7h0.75v0.75h-0.75zM349.3 376.4h0.75v0.75h-0.75zM350.5 373.5h0.75v0.75h-0.75zM355.9 350.3h0.75v0.75h-0.75zM355.4 371.9h0.75v0.75h-0.75zM352.4 363.9h0.75v0.75h-0.75zM353.2 354.0h0.75v0.75h-0.75zM353.5 375.7h0.75v0.75h-0.75z" fill="#4a5ef0" fill-opacity="0.5"/>
<path d="M356.3 359.3h0.75v0.75h-0.75zM355.1 359.9h0.75v0.75h-0.75zM355.6 360.2h0.75v0.75h-0.75zM352.5 362.9h0.75v0.75h-0.75zM353.9 349.5h0.75v0.75h-0.75zM356.3 354.9h0.75v0.75h-0.75zM355.0 359.1h0.75v0.75h-0.75zM354.3 361.5h0.75v0.75h-0.75zM354.8 358.4h0.75v0.75h-0.75zM353.7 358.4h0.75v0.75h-0.75zM353.6 359.6h0.75v0.75h-0.75zM357.3 363.3h0.75v0.75h-0.75zM355.9 354.3h0.75v0.75h-0.75zM356.8 363.0h0.75v0.75h-0.75zM358.4 350.9h0.75v0.75h-0.75zM355.2 358.2h0.75v0.75h-0.75zM356.9 355.3h0.75v0.75h-0.75zM354.6 368.3h0.75v0.75h-0.75zM356.8 351.9h0.75v0.75h-0.75zM355.2 364.6h0.75v0.75h-0.75zM354.2 361.7h0.75v0.75h-0.75zM355.4 353.9h0.75v0.75h-0.75zM354.2 363.8h0.75v0.75h-0.75zM357.1 357.1h0.75v0.75h-0.75zM357.0 356.7h0.75v0.75h-0.75zM355.6 359.4h0.75v0.75h-0.75zM353.2 360.7h0.75v0.75h-0.75zM354.6 349.0h0.75v0.75h-0.75zM353.9 356.2h0.75v0.75h-0.75zM353.9 355.7h0.75v0.75h-0.75zM354.1 350.1h0.75v0.75h-0.75zM356.6 359.7h0.75v0.75h-0.75zM355.6 358.4h0.75v0.75h-0.75zM355.3 358.4h0.75v0.75h-0.75zM353.5 353.6h0.75v0.75h-0.75zM355.3 363.3h0.75v0.75h-0.75zM355.6 365.6h0.75v0.75h-0.75zM353.1 358.4h0.75v0.75h-0.75zM354.2 364.1h0.75v0.75h-0.75zM357.9 357.4h0.75v0.75h-0.75zM356.4 358.5h0.75v0.75h-0.75zM353.6 359.0h0.75v0.75h-0.75zM353.6 365.3h0.75v0.75h-0.75zM356.1 364.0h0.75v0.75h-0.75zM355.8 350.1h0.75v0.75h-0.75zM356.5 359.8h0.75v0.75h-0.75zM351.4 359.8h0.75v0.75h-0.75zM356.8 366.0h0.75v0.75h-0.75zM353.6 362.4h0.75v0.75h-0.75zM355.7 358.8h0.75v0.75h-0.75z" fill="#3a50f0" fill-opacity="0.55"/>
<path d="M354.0 349.0h0.75v0.75h-0.75zM356.2 349.6h0.75v0.75h-0.75zM353.7 340.1h0.75v0.75h-0.75zM358.1 352.6h0.75v0.75h-0.75zM353.3 346.3h0.75v0.75h-0.75zM356.8 338.0h0.75v0.75h-0.75zM356.0 358.0h0.75v0.75h-0.75zM355.4 343.0h0.75v0.75h-0.75zM359.9 346.5h0.75v0.75h-0.75zM355.2 344.4h0.75v0.75h-0.75zM355.2 337.8h0.75v0.75h-0.75zM351.4 339.4h0.75v0.75h-0.75zM357.0 346.0h0.75v0.75h-0.75zM357.6 336.7h0.75v0.75h-0.75zM353.2 353.4h0.75v0.75h-0.75zM352.7 337.5h0.75v0.75h-0.75zM352.8 344.8h0.75v0.75h-0.75zM354.7 352.7h0.75v0.75h-0.75zM358.1 353.8h0.75v0.75h-0.75zM356.2 344.0h0.75v0.75h-0.75zM353.4 339.3h0.75v0.75h-0.75zM358.0 352.4h0.75v0.75h-0.75zM354.9 342.1h0.75v0.75h-0.75zM356.4 348.8h0.75v0.75h-0.75zM355.1 340.8h0.75v0.75h-0.75zM355.3 343.7h0.75v0.75h-0.75zM356.6 349.3h0.75v0.75h-0.75zM355.8 344.4h0.75v0.75h-0.75zM358.6 350.1h0.75v0.75h-0.75zM357.9 350.4h0.75v0.75h-0.75z" fill="#4a5ef0" fill-opacity="0.5"/>
<text x="384.40" y="323.13" font-size="7.9" text-anchor="end" font-weight="normal" fill="#111" stroke="#111" stroke-width="0.25" >14.6</text>
<text x="384.40" y="381.03" font-size="7.9" text-anchor="end" font-weight="normal" fill="#111" stroke="#111" stroke-width="0.25" >85.4</text>
<line x1="286.70" y1="373.80" x2="321.70" y2="373.80" stroke="#333" stroke-width="1" />
<path d="M324.70,373.80 L319.70,371.70 L321.10,373.80 L319.70,375.90 Z" fill="#222"/>
<text transform="translate(35.87,340.20) rotate(-90)" font-size="8.3" text-anchor="middle" font-weight="normal" fill="#222" stroke="#222" stroke-width="0.25">CD4</text>
<text transform="translate(227.17,340.20) rotate(-90)" font-size="8.3" text-anchor="middle" font-weight="normal" fill="#222" stroke="#222" stroke-width="0.25">CD4</text>
<line x1="33.80" y1="383.20" x2="33.80" y2="355.00" stroke="#444" stroke-width="1.05" />
<path d="M33.80,351.00 L31.90,356.20 L33.80,355.00 L35.70,356.20 Z" fill="#333"/>
<line x1="224.80" y1="388.00" x2="224.80" y2="356.30" stroke="#444" stroke-width="1.05" />
<path d="M224.80,352.30 L222.90,357.50 L224.80,356.30 L226.70,357.50 Z" fill="#333"/>
<text x="88.60" y="402.45" font-size="8.8" text-anchor="start" font-weight="normal" fill="#222" stroke="#222" stroke-width="0.25" >CD3</text>
<line x1="44.30" y1="399.30" x2="81.40" y2="399.30" stroke="#444" stroke-width="1.05" />
<path d="M85.40,399.30 L80.20,397.40 L81.40,399.30 L80.20,401.20 Z" fill="#333"/>
<text x="274.30" y="401.55" font-size="8.8" text-anchor="start" font-weight="normal" fill="#222" stroke="#222" stroke-width="0.25" >CD3</text>
<line x1="228.80" y1="398.40" x2="266.30" y2="398.40" stroke="#444" stroke-width="1.05" />
<path d="M270.30,398.40 L265.10,396.50 L266.30,398.40 L265.10,400.30 Z" fill="#333"/>
<text x="170.40" y="402.45" font-size="8.8" text-anchor="start" font-weight="normal" fill="#222" stroke="#222" stroke-width="0.25" >CD8</text>
<line x1="122.00" y1="399.30" x2="163.70" y2="399.30" stroke="#444" stroke-width="1.05" />
<path d="M167.70,399.30 L162.50,397.40 L163.70,399.30 L162.50,401.20 Z" fill="#333"/>
<text x="365.80" y="401.15" font-size="8.8" text-anchor="start" font-weight="normal" fill="#222" stroke="#222" stroke-width="0.25" >CD8</text>
<line x1="317.40" y1="398.00" x2="359.10" y2="398.00" stroke="#444" stroke-width="1.05" />
<path d="M363.10,398.00 L357.90,396.10 L359.10,398.00 L357.90,399.90 Z" fill="#333"/>
<text transform="translate(210.77,334.20) rotate(-90)" font-size="8.3" text-anchor="middle" font-weight="normal" fill="#222" stroke="#222" stroke-width="0.25">mPD-1</text>
<line x1="207.20" y1="388.60" x2="207.20" y2="356.30" stroke="#444" stroke-width="1.05" />
<path d="M207.20,352.30 L205.30,357.50 L207.20,356.30 L209.10,357.50 Z" fill="#333"/>
<text transform="translate(402.07,336.10) rotate(-90)" font-size="8.3" text-anchor="middle" font-weight="normal" fill="#222" stroke="#222" stroke-width="0.25">mPD-1</text>
<line x1="399.30" y1="385.90" x2="399.30" y2="357.70" stroke="#444" stroke-width="1.05" />
<path d="M399.30,353.70 L397.40,358.90 L399.30,357.70 L401.20,358.90 Z" fill="#333"/>
<text x="432.60" y="201.80" font-size="15.9" text-anchor="start" font-weight="bold" fill="#231f20" stroke="#231f20" stroke-width="0.1" >d</text>
<text x="461.10" y="214.54" font-size="8.2" text-anchor="start" font-weight="normal" fill="#222" stroke="#222" stroke-width="0.25" >Days</text>
<line x1="481.30" y1="213.10" x2="677.00" y2="213.10" stroke="#c9c9ef" stroke-width="2.8" />
<path d="M673,208.2 L679.5,213.1 L673,218" fill="none" stroke="#c9c9ef" stroke-width="2.6"/>
<line x1="487.00" y1="208.60" x2="487.00" y2="212.50" stroke="#c9c9ef" stroke-width="1.8" />
<text x="487.00" y="207.08" font-size="5.8" text-anchor="middle" font-weight="normal" fill="#333" stroke="#333" stroke-width="0.25" >0</text>
<line x1="520.20" y1="208.60" x2="520.20" y2="212.50" stroke="#c9c9ef" stroke-width="1.8" />
<text x="520.20" y="207.08" font-size="5.8" text-anchor="middle" font-weight="normal" fill="#333" stroke="#333" stroke-width="0.25" >4</text>
<line x1="547.50" y1="208.60" x2="547.50" y2="212.50" stroke="#c9c9ef" stroke-width="1.8" />
<text x="547.50" y="207.08" font-size="5.8" text-anchor="middle" font-weight="normal" fill="#333" stroke="#333" stroke-width="0.25" >7</text>
<line x1="572.90" y1="208.60" x2="572.90" y2="212.50" stroke="#c9c9ef" stroke-width="1.8" />
<text x="572.90" y="207.08" font-size="5.8" text-anchor="middle" font-weight="normal" fill="#333" stroke="#333" stroke-width="0.25" >10</text>
<line x1="602.10" y1="208.60" x2="602.10" y2="212.50" stroke="#c9c9ef" stroke-width="1.8" />
<text x="602.10" y="207.08" font-size="5.8" text-anchor="middle" font-weight="normal" fill="#333" stroke="#333" stroke-width="0.25" >14</text>
<line x1="634.20" y1="208.60" x2="634.20" y2="212.50" stroke="#c9c9ef" stroke-width="1.8" />
<text x="634.20" y="207.08" font-size="5.8" text-anchor="middle" font-weight="normal" fill="#333" stroke="#333" stroke-width="0.25" >18</text>
<line x1="520.20" y1="196.00" x2="636.50" y2="196.00" stroke="#3535c8" stroke-width="1.3" />
<line x1="520.70" y1="193.00" x2="520.70" y2="199.00" stroke="#3535c8" stroke-width="1.1" />
<line x1="636.00" y1="193.00" x2="636.00" y2="199.00" stroke="#3535c8" stroke-width="1.1" />
<text x="586.90" y="194.07" font-size="8.3" text-anchor="middle" font-weight="normal" fill="#222" stroke="#222" stroke-width="0.25" >Blood collection</text>
<line x1="487.00" y1="223.70" x2="487.00" y2="218.00" stroke="#2233dd" stroke-width="1.5" />
<path d="M487,215.4 L484.4,219.2 L487,218.4 L489.6,219.2 Z" fill="#2233dd"/>
<line x1="547.50" y1="223.70" x2="547.50" y2="218.00" stroke="#2233dd" stroke-width="1.5" />
<path d="M547.5,215.4 L544.9,219.2 L547.5,218.4 L550.1,219.2 Z" fill="#2233dd"/>
<text x="486.20" y="230.77" font-size="8.3" text-anchor="middle" font-weight="normal" fill="#222" stroke="#222" stroke-width="0.25" >ConA</text>
<text x="489.50" y="240.61" font-size="8.4" text-anchor="middle" font-weight="normal" fill="#222" stroke="#222" stroke-width="0.25" >anti-4-1BB or ctrl IgG</text>
<text x="549.50" y="230.77" font-size="8.3" text-anchor="middle" font-weight="normal" fill="#222" stroke="#222" stroke-width="0.25" >CD8 T</text>
<text x="553.00" y="240.57" font-size="8.3" text-anchor="middle" font-weight="normal" fill="#222" stroke="#222" stroke-width="0.25" >Depletion</text>
<line x1="631.20" y1="236.20" x2="646.50" y2="236.20" stroke="#5aa0ec" stroke-width="1" />
<circle cx="638.60" cy="236.20" r="2.9" fill="none" stroke="#5aa0ec" stroke-width="1"/>
<text x="648.70" y="238.63" font-size="6.8" text-anchor="start" font-weight="normal" fill="#222" stroke="#222" stroke-width="0.25" >FL sPD-1</text>
<line x1="631.20" y1="247.20" x2="646.50" y2="247.20" stroke="#f26a24" stroke-width="1" />
<circle cx="638.60" cy="247.20" r="2.9" fill="none" stroke="#f26a24" stroke-width="1"/>
<text x="648.70" y="249.63" font-size="6.8" text-anchor="start" font-weight="normal" fill="#222" stroke="#222" stroke-width="0.25" >ECD sPD-1</text>
<line x1="481.80" y1="253.40" x2="481.80" y2="384.90" stroke="#777" stroke-width="1.4" />
<line x1="481.80" y1="253.50" x2="683.40" y2="253.50" stroke="#444" stroke-width="1.1" />
<line x1="683.40" y1="253.40" x2="683.40" y2="384.40" stroke="#2a2a2a" stroke-width="1.1" />
<line x1="582.50" y1="253.40" x2="582.50" y2="384.40" stroke="#2a2a2a" stroke-width="1.1" />
<line x1="481.40" y1="384.40" x2="683.40" y2="384.40" stroke="#2a2a2a" stroke-width="1.1" />
<line x1="478.40" y1="384.40" x2="481.80" y2="384.40" stroke="#2a2a2a" stroke-width="1" />
<text x="476.60" y="387.94" font-size="8.2" text-anchor="end" font-weight="normal" fill="#333" stroke="#333" stroke-width="0.25" >0</text>
<line x1="478.40" y1="340.73" x2="481.80" y2="340.73" stroke="#2a2a2a" stroke-width="1" />
<text x="476.60" y="344.27" font-size="8.2" text-anchor="end" font-weight="normal" fill="#333" stroke="#333" stroke-width="0.25" >50</text>
<line x1="478.40" y1="297.07" x2="481.80" y2="297.07" stroke="#2a2a2a" stroke-width="1" />
<text x="476.60" y="300.60" font-size="8.2" text-anchor="end" font-weight="normal" fill="#333" stroke="#333" stroke-width="0.25" >100</text>
<line x1="478.40" y1="253.40" x2="481.80" y2="253.40" stroke="#2a2a2a" stroke-width="1" />
<text x="476.60" y="256.94" font-size="8.2" text-anchor="end" font-weight="normal" fill="#333" stroke="#333" stroke-width="0.25" >150</text>
<line x1="491.30" y1="384.40" x2="491.30" y2="388.30" stroke="#555" stroke-width="1" />
<text x="491.30" y="396.14" font-size="8.2" text-anchor="middle" font-weight="normal" fill="#222" stroke="#222" stroke-width="0.25" >4</text>
<line x1="512.10" y1="384.40" x2="512.10" y2="388.30" stroke="#555" stroke-width="1" />
<text x="512.10" y="396.14" font-size="8.2" text-anchor="middle" font-weight="normal" fill="#222" stroke="#222" stroke-width="0.25" >7</text>
<line x1="532.40" y1="384.40" x2="532.40" y2="388.30" stroke="#555" stroke-width="1" />
<text x="532.40" y="396.14" font-size="8.2" text-anchor="middle" font-weight="normal" fill="#222" stroke="#222" stroke-width="0.25" >10</text>
<line x1="552.20" y1="384.40" x2="552.20" y2="388.30" stroke="#555" stroke-width="1" />
<text x="552.20" y="396.14" font-size="8.2" text-anchor="middle" font-weight="normal" fill="#222" stroke="#222" stroke-width="0.25" >14</text>
<line x1="572.50" y1="384.40" x2="572.50" y2="388.30" stroke="#555" stroke-width="1" />
<text x="572.50" y="396.14" font-size="8.2" text-anchor="middle" font-weight="normal" fill="#222" stroke="#222" stroke-width="0.25" >18</text>
<line x1="593.00" y1="384.40" x2="593.00" y2="388.30" stroke="#555" stroke-width="1" />
<text x="593.00" y="396.14" font-size="8.2" text-anchor="middle" font-weight="normal" fill="#222" stroke="#222" stroke-width="0.25" >4</text>
<line x1="613.00" y1="384.40" x2="613.00" y2="388.30" stroke="#555" stroke-width="1" />
<text x="613.00" y="396.14" font-size="8.2" text-anchor="middle" font-weight="normal" fill="#222" stroke="#222" stroke-width="0.25" >7</text>
<line x1="633.40" y1="384.40" x2="633.40" y2="388.30" stroke="#555" stroke-width="1" />
<text x="633.40" y="396.14" font-size="8.2" text-anchor="middle" font-weight="normal" fill="#222" stroke="#222" stroke-width="0.25" >10</text>
<line x1="653.40" y1="384.40" x2="653.40" y2="388.30" stroke="#555" stroke-width="1" />
<text x="653.40" y="396.14" font-size="8.2" text-anchor="middle" font-weight="normal" fill="#222" stroke="#222" stroke-width="0.25" >14</text>
<line x1="673.50" y1="384.40" x2="673.50" y2="388.30" stroke="#555" stroke-width="1" />
<text x="673.50" y="396.14" font-size="8.2" text-anchor="middle" font-weight="normal" fill="#222" stroke="#222" stroke-width="0.25" >18</text>
<text x="517.40" y="407.80" font-size="10.85" text-anchor="start" font-weight="normal" fill="#222" stroke="#222" stroke-width="0.25" >Days post ConA stimulation</text>
<text transform="translate(459.76,318.80) rotate(-90)" font-size="10.5" text-anchor="middle" font-weight="normal" fill="#222" stroke="#222" stroke-width="0.25">sPD-1 (ng/ml)</text>
<text x="485.90" y="264.37" font-size="8.3" text-anchor="start" font-weight="bold" fill="#111" stroke="#111" stroke-width="0.1" >CD8 T competent</text>
<text x="589.90" y="264.17" font-size="8.3" text-anchor="start" font-weight="bold" fill="#111" stroke="#111" stroke-width="0.1" >CD8 T depleted</text>
<polyline points="491.30,380.20 512.10,374.80 532.40,328.00 552.20,356.50 572.50,383.00" fill="none" stroke="#f26a24" stroke-width="1" stroke-linejoin="miter" />
<circle cx="491.30" cy="379.30" r="1.85" fill="none" stroke="#f26a24" stroke-width="1"/>
<circle cx="491.30" cy="381.00" r="1.85" fill="none" stroke="#f26a24" stroke-width="1"/>
<circle cx="512.10" cy="371.00" r="1.85" fill="none" stroke="#f26a24" stroke-width="1"/>
<circle cx="512.10" cy="372.70" r="1.85" fill="none" stroke="#f26a24" stroke-width="1"/>
<circle cx="512.10" cy="376.60" r="1.85" fill="none" stroke="#f26a24" stroke-width="1"/>
<circle cx="512.10" cy="378.80" r="1.85" fill="none" stroke="#f26a24" stroke-width="1"/>
<circle cx="532.40" cy="320.00" r="1.85" fill="none" stroke="#f26a24" stroke-width="1"/>
<circle cx="532.40" cy="322.50" r="1.85" fill="none" stroke="#f26a24" stroke-width="1"/>
<circle cx="532.40" cy="325.60" r="1.85" fill="none" stroke="#f26a24" stroke-width="1"/>
<circle cx="532.40" cy="335.10" r="1.85" fill="none" stroke="#f26a24" stroke-width="1"/>
<circle cx="532.40" cy="336.50" r="1.85" fill="none" stroke="#f26a24" stroke-width="1"/>
<circle cx="552.20" cy="354.00" r="1.85" fill="none" stroke="#f26a24" stroke-width="1"/>
<circle cx="552.20" cy="355.50" r="1.85" fill="none" stroke="#f26a24" stroke-width="1"/>
<circle cx="552.20" cy="356.50" r="1.85" fill="none" stroke="#f26a24" stroke-width="1"/>
<circle cx="552.20" cy="358.40" r="1.85" fill="none" stroke="#f26a24" stroke-width="1"/>
<circle cx="572.50" cy="379.20" r="1.85" fill="none" stroke="#f26a24" stroke-width="1"/>
<circle cx="572.50" cy="382.50" r="1.85" fill="none" stroke="#f26a24" stroke-width="1"/>
<circle cx="572.50" cy="384.50" r="1.85" fill="none" stroke="#f26a24" stroke-width="1"/>
<polyline points="491.30,384.00 512.10,362.80 532.40,355.10 552.20,376.00 572.50,378.00" fill="none" stroke="#5aa0ec" stroke-width="1" stroke-linejoin="miter" />
<circle cx="491.30" cy="384.00" r="1.85" fill="none" stroke="#5aa0ec" stroke-width="1"/>
<circle cx="491.30" cy="384.50" r="1.85" fill="none" stroke="#5aa0ec" stroke-width="1"/>
<circle cx="512.10" cy="358.40" r="1.85" fill="none" stroke="#5aa0ec" stroke-width="1"/>
<circle cx="512.10" cy="360.60" r="1.85" fill="none" stroke="#5aa0ec" stroke-width="1"/>
<circle cx="512.10" cy="363.90" r="1.85" fill="none" stroke="#5aa0ec" stroke-width="1"/>
<circle cx="512.10" cy="367.20" r="1.85" fill="none" stroke="#5aa0ec" stroke-width="1"/>
<circle cx="532.40" cy="351.80" r="1.85" fill="none" stroke="#5aa0ec" stroke-width="1"/>
<circle cx="532.40" cy="354.00" r="1.85" fill="none" stroke="#5aa0ec" stroke-width="1"/>
<circle cx="532.40" cy="356.20" r="1.85" fill="none" stroke="#5aa0ec" stroke-width="1"/>
<circle cx="532.40" cy="358.40" r="1.85" fill="none" stroke="#5aa0ec" stroke-width="1"/>
<circle cx="552.20" cy="367.20" r="1.85" fill="none" stroke="#5aa0ec" stroke-width="1"/>
<circle cx="552.20" cy="376.00" r="1.85" fill="none" stroke="#5aa0ec" stroke-width="1"/>
<circle cx="552.20" cy="382.10" r="1.85" fill="none" stroke="#5aa0ec" stroke-width="1"/>
<circle cx="572.50" cy="372.70" r="1.85" fill="none" stroke="#5aa0ec" stroke-width="1"/>
<circle cx="572.50" cy="374.90" r="1.85" fill="none" stroke="#5aa0ec" stroke-width="1"/>
<circle cx="572.50" cy="377.00" r="1.85" fill="none" stroke="#5aa0ec" stroke-width="1"/>
<polyline points="593.00,384.00 613.00,362.80 633.40,287.30 653.40,310.40 673.50,334.60" fill="none" stroke="#5aa0ec" stroke-width="1" stroke-linejoin="miter" />
<circle cx="593.00" cy="384.00" r="1.85" fill="none" stroke="#5aa0ec" stroke-width="1"/>
<circle cx="593.00" cy="384.50" r="1.85" fill="none" stroke="#5aa0ec" stroke-width="1"/>
<circle cx="613.00" cy="358.40" r="1.85" fill="none" stroke="#5aa0ec" stroke-width="1"/>
<circle cx="613.00" cy="360.60" r="1.85" fill="none" stroke="#5aa0ec" stroke-width="1"/>
<circle cx="613.00" cy="362.80" r="1.85" fill="none" stroke="#5aa0ec" stroke-width="1"/>
<circle cx="613.00" cy="367.20" r="1.85" fill="none" stroke="#5aa0ec" stroke-width="1"/>
<circle cx="613.00" cy="370.50" r="1.85" fill="none" stroke="#5aa0ec" stroke-width="1"/>
<circle cx="633.40" cy="280.30" r="1.85" fill="none" stroke="#5aa0ec" stroke-width="1"/>
<circle cx="633.40" cy="285.10" r="1.85" fill="none" stroke="#5aa0ec" stroke-width="1"/>
<circle cx="633.40" cy="286.90" r="1.85" fill="none" stroke="#5aa0ec" stroke-width="1"/>
<circle cx="633.40" cy="289.50" r="1.85" fill="none" stroke="#5aa0ec" stroke-width="1"/>
<circle cx="653.40" cy="307.10" r="1.85" fill="none" stroke="#5aa0ec" stroke-width="1"/>
<circle cx="653.40" cy="308.90" r="1.85" fill="none" stroke="#5aa0ec" stroke-width="1"/>
<circle cx="653.40" cy="313.70" r="1.85" fill="none" stroke="#5aa0ec" stroke-width="1"/>
<circle cx="653.40" cy="315.50" r="1.85" fill="none" stroke="#5aa0ec" stroke-width="1"/>
<circle cx="653.40" cy="317.00" r="1.85" fill="none" stroke="#5aa0ec" stroke-width="1"/>
<circle cx="673.50" cy="324.00" r="1.85" fill="none" stroke="#5aa0ec" stroke-width="1"/>
<circle cx="673.50" cy="327.70" r="1.85" fill="none" stroke="#5aa0ec" stroke-width="1"/>
<circle cx="673.50" cy="334.90" r="1.85" fill="none" stroke="#5aa0ec" stroke-width="1"/>
<circle cx="673.50" cy="343.00" r="1.85" fill="none" stroke="#5aa0ec" stroke-width="1"/>
<circle cx="673.50" cy="344.20" r="1.85" fill="none" stroke="#5aa0ec" stroke-width="1"/>
<polyline points="593.00,380.00 613.00,376.00 633.40,377.60 653.40,380.50 673.50,378.50" fill="none" stroke="#f26a24" stroke-width="1" stroke-linejoin="miter" />
<circle cx="593.00" cy="378.90" r="1.85" fill="none" stroke="#f26a24" stroke-width="1"/>
<circle cx="593.00" cy="380.40" r="1.85" fill="none" stroke="#f26a24" stroke-width="1"/>
<circle cx="613.00" cy="371.00" r="1.85" fill="none" stroke="#f26a24" stroke-width="1"/>
<circle cx="613.00" cy="373.80" r="1.85" fill="none" stroke="#f26a24" stroke-width="1"/>
<circle cx="613.00" cy="376.70" r="1.85" fill="none" stroke="#f26a24" stroke-width="1"/>
<circle cx="613.00" cy="378.90" r="1.85" fill="none" stroke="#f26a24" stroke-width="1"/>
<circle cx="633.40" cy="377.60" r="1.85" fill="none" stroke="#f26a24" stroke-width="1"/>
<circle cx="633.40" cy="379.30" r="1.85" fill="none" stroke="#f26a24" stroke-width="1"/>
<circle cx="653.40" cy="379.80" r="1.85" fill="none" stroke="#f26a24" stroke-width="1"/>
<circle cx="653.40" cy="382.00" r="1.85" fill="none" stroke="#f26a24" stroke-width="1"/>
<circle cx="673.50" cy="377.60" r="1.85" fill="none" stroke="#f26a24" stroke-width="1"/>
<circle cx="673.50" cy="379.30" r="1.85" fill="none" stroke="#f26a24" stroke-width="1"/>
<circle cx="673.50" cy="384.10" r="1.85" fill="none" stroke="#f26a24" stroke-width="1"/>
</svg></body></html>
